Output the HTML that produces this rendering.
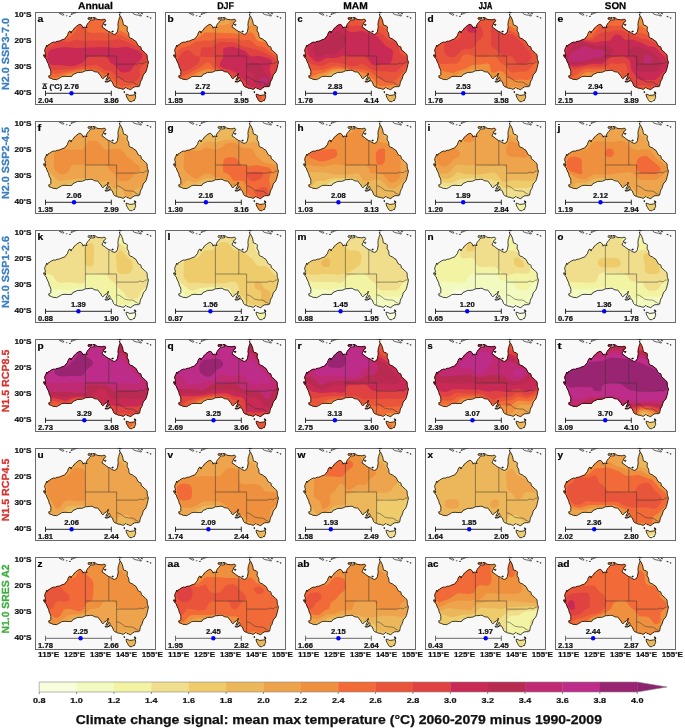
<!DOCTYPE html><html><head><meta charset="utf-8"><style>html,body{margin:0;padding:0;background:#fff}svg{display:block}</style></head><body><svg width="685" height="728" viewBox="0 0 685 728" style="will-change:transform">
<defs>
<clipPath id="aus"><path d="M85.5 4.2L86.3 5.5L87.1 7.3L87.8 9.2L88.1 11.2L88.4 12.8L90.2 13.6L91.0 13.6L92.5 15.1L92.2 16.7L92.1 18.8L93.2 20.3L93.9 22.2L93.9 24.2L94.5 25.5L95.8 26.3L97.3 26.8L98.9 28.1L101.0 29.4L102.0 31.3L103.1 33.6L104.4 34.4L105.4 34.6L106.2 35.9L106.2 37.5L107.5 38.5L109.3 40.1L110.6 41.4L111.6 42.2L112.2 43.7L112.2 45.6L112.4 47.4L113.2 49.2L113.4 50.8L112.9 52.3L112.7 53.9L112.2 55.4L111.9 57.0L111.4 58.6L110.6 60.4L109.0 61.9L108.2 63.2L107.8 64.8L107.3 66.1L106.8 67.7L105.8 69.0L105.3 70.5L105.0 72.1L104.7 73.9L103.4 74.7L101.1 74.7L99.3 74.9L97.7 76.0L96.2 77.0L95.4 78.1L94.6 77.3L93.3 76.8L92.0 76.5L91.2 75.7L90.4 75.7L89.1 76.8L88.1 77.4L86.5 76.8L85.0 76.2L83.2 76.2L81.6 75.3L80.0 74.9L78.5 73.4L78.2 72.3L77.7 71.0L76.9 69.5L76.1 68.8L74.8 69.0L74.1 69.0L75.1 67.4L74.8 66.1L74.1 65.3L73.5 66.1L73.0 67.7L71.2 67.9L70.9 67.1L72.2 65.6L72.8 63.8L73.3 61.2L72.8 62.5L71.7 63.8L69.6 64.8L68.3 66.6L67.6 66.6L66.5 65.6L66.0 64.0L65.0 62.7L63.9 61.7L63.4 60.9L62.6 59.9L61.3 60.1L59.2 59.6L57.2 58.3L55.6 58.3L53.0 58.6L50.4 58.8L47.8 60.1L45.2 60.4L42.6 60.4L40.0 61.7L37.9 62.5L36.9 64.3L34.8 64.5L32.2 64.5L30.1 64.3L27.8 64.5L26.5 64.8L25.2 65.8L23.6 66.6L21.5 67.7L20.0 67.4L18.2 67.4L16.3 66.4L14.0 65.7L13.7 63.8L14.8 63.8L15.8 62.7L15.8 60.9L15.9 59.3L15.6 58.0L14.8 56.2L14.0 54.9L13.9 53.1L13.0 51.3L11.7 48.7L11.4 47.1L9.8 45.6L9.1 44.5L8.5 43.5L8.8 42.7L9.6 43.0L10.4 44.8L10.9 44.0L10.1 42.7L10.4 40.9L9.8 39.6L9.8 37.5L10.9 35.2L11.7 33.1L12.2 34.6L13.0 33.1L14.5 32.3L16.3 31.0L18.4 30.0L20.2 30.2L22.3 29.2L23.9 29.2L25.7 28.4L27.5 27.6L29.6 27.1L31.2 25.0L32.7 23.2L33.0 21.4L34.3 19.3L35.1 19.0L36.1 21.1L36.4 19.6L37.4 18.8L38.4 18.0L39.0 16.4L40.5 15.4L41.6 14.1L42.9 13.3L44.2 12.5L45.2 12.3L46.5 13.1L47.8 14.9L48.1 16.2L48.8 15.1L50.4 15.1L52.0 15.7L51.4 13.8L52.5 11.8L53.8 10.5L54.6 9.2L55.3 8.4L56.4 7.9L58.2 7.9L59.8 7.6L59.5 6.3L57.7 5.8L59.2 5.5L60.5 6.0L61.8 7.1L63.9 7.6L65.5 7.6L67.0 7.9L68.3 7.3L69.9 7.3L70.7 8.4L70.2 9.7L68.6 10.7L68.3 12.3L67.3 13.8L67.0 14.9L69.1 16.2L70.7 17.5L72.0 18.5L73.8 19.6L75.4 20.1L76.9 21.4L78.0 21.9L79.5 22.4L81.3 21.6L82.4 19.6L82.9 17.0L83.2 14.9L82.9 12.3L83.2 10.7L83.2 9.2L83.9 8.6L83.9 7.3L84.5 5.8L85.0 4.7ZM91.1 82.2L92.8 82.5L94.6 83.4L96.2 83.3L98.5 82.9L100.3 82.6L100.6 84.0L100.6 85.6L99.8 87.2L99.5 88.5L98.0 88.7L96.9 89.8L94.6 89.5L93.3 87.9L92.5 86.4L91.7 85.1L91.2 83.5ZM70.0 69.2L72.5 69.0L74.1 69.2L72.8 70.0L70.4 70.1ZM52.9 6.3L53.8 5.6L55.3 5.8L56.9 5.5L57.2 6.2L56.1 6.9L54.6 7.3L53.5 7.3L53.0 6.9ZM69.4 12.3L70.4 12.0L71.1 12.8L70.2 13.5L69.5 13.1ZM76.9 19.3L78.2 19.0L78.0 20.0L76.9 19.8ZM84.5 2.7L85.0 2.8L84.9 3.1L84.4 3.0ZM84.5 2.0L85.0 2.1L84.9 2.3L84.5 2.3ZM85.5 0.7L86.1 0.8L85.9 1.0L85.5 0.9ZM84.5 0.3L85.0 0.4L84.9 0.6L84.5 0.5ZM84.7 3.8L85.1 3.7L85.2 4.1L84.9 4.2ZM89.0 79.4L89.7 79.8L89.5 80.7L89.1 80.7ZM99.3 79.8L100.6 80.3L100.4 81.1L99.5 80.9ZM99.8 81.2L101.1 81.2L100.8 81.7L99.9 81.6Z"/></clipPath>
<path id="coast" d="M85.5 4.2L86.3 5.5L87.1 7.3L87.8 9.2L88.1 11.2L88.4 12.8L90.2 13.6L91.0 13.6L92.5 15.1L92.2 16.7L92.1 18.8L93.2 20.3L93.9 22.2L93.9 24.2L94.5 25.5L95.8 26.3L97.3 26.8L98.9 28.1L101.0 29.4L102.0 31.3L103.1 33.6L104.4 34.4L105.4 34.6L106.2 35.9L106.2 37.5L107.5 38.5L109.3 40.1L110.6 41.4L111.6 42.2L112.2 43.7L112.2 45.6L112.4 47.4L113.2 49.2L113.4 50.8L112.9 52.3L112.7 53.9L112.2 55.4L111.9 57.0L111.4 58.6L110.6 60.4L109.0 61.9L108.2 63.2L107.8 64.8L107.3 66.1L106.8 67.7L105.8 69.0L105.3 70.5L105.0 72.1L104.7 73.9L103.4 74.7L101.1 74.7L99.3 74.9L97.7 76.0L96.2 77.0L95.4 78.1L94.6 77.3L93.3 76.8L92.0 76.5L91.2 75.7L90.4 75.7L89.1 76.8L88.1 77.4L86.5 76.8L85.0 76.2L83.2 76.2L81.6 75.3L80.0 74.9L78.5 73.4L78.2 72.3L77.7 71.0L76.9 69.5L76.1 68.8L74.8 69.0L74.1 69.0L75.1 67.4L74.8 66.1L74.1 65.3L73.5 66.1L73.0 67.7L71.2 67.9L70.9 67.1L72.2 65.6L72.8 63.8L73.3 61.2L72.8 62.5L71.7 63.8L69.6 64.8L68.3 66.6L67.6 66.6L66.5 65.6L66.0 64.0L65.0 62.7L63.9 61.7L63.4 60.9L62.6 59.9L61.3 60.1L59.2 59.6L57.2 58.3L55.6 58.3L53.0 58.6L50.4 58.8L47.8 60.1L45.2 60.4L42.6 60.4L40.0 61.7L37.9 62.5L36.9 64.3L34.8 64.5L32.2 64.5L30.1 64.3L27.8 64.5L26.5 64.8L25.2 65.8L23.6 66.6L21.5 67.7L20.0 67.4L18.2 67.4L16.3 66.4L14.0 65.7L13.7 63.8L14.8 63.8L15.8 62.7L15.8 60.9L15.9 59.3L15.6 58.0L14.8 56.2L14.0 54.9L13.9 53.1L13.0 51.3L11.7 48.7L11.4 47.1L9.8 45.6L9.1 44.5L8.5 43.5L8.8 42.7L9.6 43.0L10.4 44.8L10.9 44.0L10.1 42.7L10.4 40.9L9.8 39.6L9.8 37.5L10.9 35.2L11.7 33.1L12.2 34.6L13.0 33.1L14.5 32.3L16.3 31.0L18.4 30.0L20.2 30.2L22.3 29.2L23.9 29.2L25.7 28.4L27.5 27.6L29.6 27.1L31.2 25.0L32.7 23.2L33.0 21.4L34.3 19.3L35.1 19.0L36.1 21.1L36.4 19.6L37.4 18.8L38.4 18.0L39.0 16.4L40.5 15.4L41.6 14.1L42.9 13.3L44.2 12.5L45.2 12.3L46.5 13.1L47.8 14.9L48.1 16.2L48.8 15.1L50.4 15.1L52.0 15.7L51.4 13.8L52.5 11.8L53.8 10.5L54.6 9.2L55.3 8.4L56.4 7.9L58.2 7.9L59.8 7.6L59.5 6.3L57.7 5.8L59.2 5.5L60.5 6.0L61.8 7.1L63.9 7.6L65.5 7.6L67.0 7.9L68.3 7.3L69.9 7.3L70.7 8.4L70.2 9.7L68.6 10.7L68.3 12.3L67.3 13.8L67.0 14.9L69.1 16.2L70.7 17.5L72.0 18.5L73.8 19.6L75.4 20.1L76.9 21.4L78.0 21.9L79.5 22.4L81.3 21.6L82.4 19.6L82.9 17.0L83.2 14.9L82.9 12.3L83.2 10.7L83.2 9.2L83.9 8.6L83.9 7.3L84.5 5.8L85.0 4.7ZM91.1 82.2L92.8 82.5L94.6 83.4L96.2 83.3L98.5 82.9L100.3 82.6L100.6 84.0L100.6 85.6L99.8 87.2L99.5 88.5L98.0 88.7L96.9 89.8L94.6 89.5L93.3 87.9L92.5 86.4L91.7 85.1L91.2 83.5ZM70.0 69.2L72.5 69.0L74.1 69.2L72.8 70.0L70.4 70.1ZM52.9 6.3L53.8 5.6L55.3 5.8L56.9 5.5L57.2 6.2L56.1 6.9L54.6 7.3L53.5 7.3L53.0 6.9ZM69.4 12.3L70.4 12.0L71.1 12.8L70.2 13.5L69.5 13.1ZM76.9 19.3L78.2 19.0L78.0 20.0L76.9 19.8ZM84.5 2.7L85.0 2.8L84.9 3.1L84.4 3.0ZM84.5 2.0L85.0 2.1L84.9 2.3L84.5 2.3ZM85.5 0.7L86.1 0.8L85.9 1.0L85.5 0.9ZM84.5 0.3L85.0 0.4L84.9 0.6L84.5 0.5ZM84.7 3.8L85.1 3.7L85.2 4.1L84.9 4.2ZM89.0 79.4L89.7 79.8L89.5 80.7L89.1 80.7ZM99.3 79.8L100.6 80.3L100.4 81.1L99.5 80.9ZM99.8 81.2L101.1 81.2L100.8 81.7L99.9 81.6Z"/>
<path id="bord" d="M50.4 15.1L50.4 58.8M50.4 44.0L81.6 44.0M73.8 19.6L73.8 44.0M81.6 44.0L81.6 75.3M81.6 52.1L102.4 52.1L105.0 51.0L107.6 51.8L109.2 51.3L110.2 50.2L112.0 50.0L113.3 49.7M81.6 64.8L84.2 65.3L86.8 66.9L89.4 69.0L92.0 69.7L94.6 70.0L97.2 70.0L99.8 71.0L100.3 72.1L104.9 73.9"/>
<path id="isl" d="M36.1 2.7L37.4 2.1L39.0 1.4L40.5 0.8L42.6 0.1L44.7 -0.7L46.0 -1.5L44.2 -1.5L42.1 -0.5L40.0 0.1L38.2 0.6L36.6 1.4L36.1 2.7M24.4 1.4L26.0 0.8L27.5 1.4L29.1 2.7L27.8 3.2L26.0 2.1L24.4 1.4M31.4 3.7L32.2 3.7L31.7 4.0L31.4 3.7M34.3 4.5L35.6 4.0L35.3 4.5L34.3 4.5M81.6 0.1L83.2 0.3L85.0 0.3L86.3 0.6L87.6 -0.5L88.1 -1.2M95.4 -1.2L96.9 0.1L98.0 1.4L99.5 2.4L101.4 2.9L103.4 3.2L105.5 4.0L106.6 3.7L105.0 2.7L104.2 1.6L102.9 1.1L102.4 0.1M106.0 0.6L107.6 1.4L107.3 2.1L106.3 1.6L106.0 0.6M111.8 4.2L113.3 4.7L112.5 5.0L111.8 4.2M115.1 5.5L116.2 6.0L115.4 6.3L115.1 5.5"/>
<clipPath id="pclip"><rect x="0.5" y="0.5" width="120" height="92"/></clipPath>
</defs>
<rect width="685" height="728" fill="#fff"/>
<g transform="translate(35,12)">
<rect x="0.5" y="0.5" width="120" height="92" fill="#f8f8f8" stroke="#6a6a6a" stroke-width="1"/>
<g clip-path="url(#aus)">
<rect x="0" y="0" width="120" height="92" fill="#eecc6c"/><path fill-rule="evenodd" fill="#ecb75a" d="M123.2 93.4L-1.6 93.4L-1.6 -1.5L123.2 -1.5ZM46.6 78.4L49.2 73.9L54.3 71.3L56.0 69.3L56.4 66.1L54.3 63.7L51.7 63.0L48.4 63.1L45.5 64.2L44.0 65.4L43.8 67.4L45.7 71.9L43.8 75.8L43.6 77.8L45.2 79.1Z"/><path fill-rule="evenodd" fill="#eea44c" d="M92.7 93.4L-1.6 93.4L-1.6 -1.5L123.2 -1.5L123.2 86.9L109.6 86.4L104.4 86.9L101.1 85.9L100.3 86.2L99.2 88.3L96.6 89.1L95.2 89.3L93.1 88.2L93.0 93.4ZM47.1 83.0L49.1 81.6L52.6 76.5L57.2 73.2L58.9 70.9L59.6 68.1L59.5 65.4L58.4 63.5L56.2 62.0L51.7 60.9L46.5 61.1L39.0 63.5L36.2 65.4L36.0 67.4L38.3 71.9L38.3 77.8L39.0 80.4L40.7 82.1L42.6 83.0L45.2 83.4Z"/><path fill-rule="evenodd" fill="#ee903e" d="M88.8 93.4L62.5 93.4L62.8 81.7L62.2 75.2L63.2 65.4L61.1 62.2L56.9 60.0L50.4 59.1L47.2 59.5L41.9 60.5L29.4 64.8L27.8 67.4L27.2 70.0L29.8 72.6L30.5 74.6L29.6 77.2L28.3 78.3L27.7 78.2L26.9 77.2L26.2 71.3L24.6 70.7L-1.6 70.4L-1.6 -1.5L84.7 -1.5L85.6 3.7L87.8 8.2L87.5 10.9L88.1 13.2L90.1 14.1L91.4 13.9L92.3 14.8L92.7 17.6L97.2 18.2L100.5 17.4L102.1 14.8L101.2 5.6L101.7 -1.5L123.2 -1.5L123.2 83.1L115.4 82.5L107.6 78.4L93.3 79.0L91.1 80.4L89.7 83.0L89.2 93.4ZM56.2 85.0L54.3 85.1L53.8 84.3L54.2 81.1L56.1 79.1L58.6 79.1L59.6 80.4L59.3 82.3L58.2 83.8ZM51.1 93.4L37.0 93.4L35.6 90.2L36.5 88.8L38.7 88.1L49.8 87.8L51.0 88.2L51.7 89.5Z"/><path fill-rule="evenodd" fill="#f16a38" d="M84.2 93.4L79.1 93.4L79.3 84.9L81.3 79.8L79.9 75.2L77.9 72.6L77.7 71.3L75.8 69.3L74.0 68.7L74.4 68.1L73.8 67.3L71.2 67.5L72.0 65.4L71.2 64.4L69.9 64.4L67.9 65.4L66.8 63.5L62.8 59.9L57.6 58.4L50.4 57.9L46.5 58.3L30.9 62.0L20.5 66.1L14.7 64.9L13.9 64.2L14.7 63.9L14.7 63.3L-1.6 63.3L-1.6 -1.5L15.7 -1.5L13.9 4.3L14.6 8.2L18.6 11.8L21.8 15.8L28.0 18.6L30.2 23.2L31.6 24.3L33.3 21.9L33.4 20.6L34.8 19.0L36.1 19.9L39.4 15.4L39.6 12.8L38.8 5.6L39.1 -1.5L53.9 -1.5L54.2 5.6L57.1 5.6L56.9 6.5L54.1 7.6L53.9 9.5L56.2 8.0L59.5 8.0L59.8 6.9L58.6 5.6L58.9 5.4L60.8 5.9L62.1 7.1L65.4 7.0L66.0 7.7L69.9 7.1L71.1 8.2L70.4 9.5L68.3 10.9L68.2 12.8L66.9 14.1L67.9 15.7L69.9 16.8L75.1 15.8L81.6 19.8L84.2 18.8L88.1 19.5L92.2 21.9L94.6 25.0L95.2 25.1L105.7 24.9L110.9 25.5L113.4 27.0L117.4 33.0L119.9 33.9L123.2 33.6L123.2 71.3L119.9 71.8L114.8 70.2L111.5 70.1L108.9 71.1L103.1 74.8L99.2 75.1L95.2 76.4L90.7 75.8L88.1 77.5L87.3 77.2L86.2 77.8L83.3 79.8L82.7 81.1L84.7 88.2L84.7 93.4ZM75.1 10.0L74.4 10.2L73.2 9.3L71.6 6.3L71.8 3.7L73.4 -1.5L75.6 -1.5L76.4 2.6L76.4 7.6ZM112.8 18.2L110.9 17.2L110.0 14.8L110.6 5.6L110.3 -1.5L114.5 -1.5L114.6 14.8L114.1 17.3ZM27.0 8.3L24.4 7.5L23.4 5.6L24.3 3.1L26.4 1.8L27.7 2.1L28.4 4.3L28.3 7.1ZM70.6 13.1L69.6 12.8L69.9 11.8L70.9 12.8ZM72.5 70.3L70.6 70.3L70.4 69.3L73.8 68.9L74.3 69.3ZM123.2 78.7L119.9 79.0L117.4 78.2L116.4 76.5L117.4 74.0L119.9 72.2L123.2 73.1ZM73.2 85.2L72.5 85.2L71.9 83.3L71.5 77.8L71.9 76.1L74.0 78.4L75.1 81.1L74.7 83.0Z"/><path fill-rule="evenodd" fill="#e8553a" d="M4.2 11.5L2.4 10.9L1.4 8.9L1.1 5.0L1.6 -1.5L6.0 -1.5L6.2 8.6L5.6 10.7ZM89.4 73.9L86.8 74.4L83.2 73.2L74.6 63.5L73.2 61.0L71.2 61.5L69.2 61.3L63.4 58.1L58.9 56.8L46.5 56.7L20.5 62.0L17.2 61.3L15.3 59.4L-1.6 59.6L-1.6 40.0L2.9 42.6L5.6 42.3L7.4 40.1L9.4 34.7L15.3 31.8L16.8 30.4L16.6 27.8L15.0 23.2L14.0 21.7L10.5 19.3L10.1 17.1L10.8 16.6L12.7 16.6L16.6 19.0L23.1 20.9L25.5 22.5L28.3 27.1L31.6 27.1L34.8 25.4L40.6 19.3L44.0 13.5L45.9 12.5L48.4 16.0L49.8 16.1L52.4 19.3L54.5 20.6L58.2 21.1L64.7 20.6L69.9 20.8L78.4 22.9L85.5 22.5L100.4 30.2L103.1 32.6L107.6 32.6L110.0 33.6L116.9 41.4L117.8 43.4L115.3 49.9L111.8 55.7L111.2 59.6L108.8 62.2L106.3 68.1L104.0 71.3L102.4 72.6ZM4.2 31.1L2.3 30.6L1.4 29.0L2.0 26.5L3.6 25.3L5.6 26.1L6.2 28.2L5.8 30.4ZM123.2 62.6L119.3 62.7L116.9 62.2L115.5 60.9L115.8 58.9L116.9 57.6L118.7 56.8L123.2 56.9Z"/><path fill-rule="evenodd" fill="#e04242" d="M101.1 68.8L98.5 69.3L93.3 68.3L86.8 68.0L82.9 65.5L76.4 59.3L68.9 57.6L63.4 53.6L61.4 52.7L46.5 54.6L37.4 56.9L19.9 58.1L17.2 57.5L14.0 55.2L-1.6 55.0L-1.6 48.4L4.2 49.5L7.5 48.4L9.4 45.9L9.4 43.6L10.2 44.0L10.0 42.7L10.6 39.5L12.1 36.6L18.2 33.0L21.8 29.5L24.4 28.7L32.2 30.3L35.4 29.8L40.7 27.6L49.1 29.1L56.2 28.5L73.2 28.4L84.2 27.1L93.9 30.4L101.0 34.2L105.0 35.8L111.0 42.7L111.6 44.6L110.7 49.9L105.0 55.7L104.6 57.6L105.0 63.5L103.7 66.4Z"/><path fill-rule="evenodd" fill="#c92a55" d="M92.0 60.3L88.1 60.7L84.9 59.5L80.3 53.9L75.1 50.5L72.5 45.9L69.9 44.3L54.3 44.6L52.4 45.6L49.1 49.6L47.2 50.9L39.4 53.8L35.4 54.2L25.7 52.9L17.9 53.1L15.9 52.5L14.4 51.1L12.8 48.6L12.2 45.3L12.6 42.1L13.6 39.5L15.9 37.6L28.9 34.9L41.3 35.9L68.6 35.1L81.6 36.1L90.1 34.8L92.7 34.9L103.7 38.8L106.4 41.4L107.3 44.6L106.3 47.3L99.8 52.5L96.2 58.3L94.6 59.5Z"/>
</g>
<use href="#coast" fill="none" stroke="#000" stroke-width="0.75"/>
<use href="#isl" clip-path="url(#pclip)" fill="none" stroke="#111" stroke-width="0.65"/>
<use href="#bord" fill="none" stroke="#333" stroke-width="0.5"/>
<text x="2.60" y="9.50" text-anchor="start" textLength="5.80" lengthAdjust="spacingAndGlyphs" font-family="Liberation Sans, sans-serif" font-weight="bold" font-size="9.4" fill="#000" stroke="#000" stroke-width="0.2" >a</text>
<path d="M10.5 81.3H76.3M10.5 78.7V83.89999999999999M76.3 78.7V83.89999999999999" stroke="#2a2a2a" stroke-width="1" fill="none"/>
<circle cx="36.5" cy="81.3" r="2.2" fill="#0000ff"/>
<text x="36.53" y="77.00" text-anchor="middle" textLength="14.81" lengthAdjust="spacingAndGlyphs" font-family="Liberation Sans, sans-serif" font-weight="bold" font-size="6.3" fill="#111" stroke="#111" stroke-width="0.2" >2.76</text>
<text x="10.50" y="90.70" text-anchor="middle" textLength="14.81" lengthAdjust="spacingAndGlyphs" font-family="Liberation Sans, sans-serif" font-weight="bold" font-size="6.3" fill="#111" stroke="#111" stroke-width="0.2" >2.04</text>
<text x="76.30" y="90.70" text-anchor="middle" textLength="14.81" lengthAdjust="spacingAndGlyphs" font-family="Liberation Sans, sans-serif" font-weight="bold" font-size="6.3" fill="#111" stroke="#111" stroke-width="0.2" >3.86</text>
<text x="7.20" y="77.00" text-anchor="start" textLength="4.95" lengthAdjust="spacingAndGlyphs" font-family="Liberation Sans, sans-serif" font-weight="bold" font-size="6.3" fill="#111" stroke="#111" stroke-width="0.2" >Δ</text>
<path d="M7.3 71.8H12.3" stroke="#111" stroke-width="0.7"/>
<text x="14.40" y="77.00" text-anchor="start" textLength="12.88" lengthAdjust="spacingAndGlyphs" font-family="Liberation Sans, sans-serif" font-weight="bold" font-size="6.3" fill="#111" stroke="#111" stroke-width="0.2" >(<tspan font-size="4.72" dy="-0.9">°</tspan><tspan dy="0.9">C)</tspan></text>
</g>
<g transform="translate(165,12)">
<rect x="0.5" y="0.5" width="120" height="92" fill="#f8f8f8" stroke="#6a6a6a" stroke-width="1"/>
<g clip-path="url(#aus)">
<rect x="0" y="0" width="120" height="92" fill="#ecb75a"/><path fill-rule="evenodd" fill="#eea44c" d="M123.2 93.4L-1.6 93.4L-1.6 -1.5L54.5 -1.5L53.2 5.0L53.2 5.6L55.2 6.3L55.4 6.9L53.5 7.6L54.3 9.2L56.2 8.2L59.5 8.3L60.8 6.5L62.1 7.3L63.1 6.9L63.1 3.7L61.9 -1.5L85.7 -1.5L84.4 5.0L85.1 5.0L85.5 4.1L88.1 10.6L89.4 10.7L92.8 9.5L94.4 6.9L94.4 3.7L92.9 -1.5L123.2 -1.5ZM44.5 80.4L46.8 78.4L49.1 73.3L54.2 71.3L56.2 69.4L57.0 66.8L55.6 64.4L51.7 63.2L41.3 63.1L38.7 63.6L37.1 64.8L36.6 66.8L38.2 71.9L38.0 76.5L38.6 79.1L40.7 80.7Z"/><path fill-rule="evenodd" fill="#ee903e" d="M123.2 93.4L38.1 93.4L37.6 90.2L38.8 87.6L41.4 85.6L48.4 81.9L52.4 76.5L58.2 72.0L60.1 67.4L59.3 64.2L56.5 62.2L49.1 60.0L42.6 59.8L38.1 60.9L33.3 63.5L29.5 64.8L27.0 67.9L24.4 69.6L22.9 71.3L22.1 74.6L22.8 81.7L22.7 93.4L-1.6 93.4L-1.6 -1.5L15.7 -1.5L13.9 4.3L13.9 6.3L14.6 8.2L19.6 12.1L22.4 16.2L26.4 19.5L28.9 23.4L30.9 24.2L32.4 23.2L33.2 20.6L34.8 18.7L38.1 17.3L43.9 12.5L45.9 12.5L48.4 15.7L49.1 15.2L51.1 15.3L51.7 15.8L52.3 15.4L52.2 14.1L53.7 13.4L60.2 13.1L63.2 12.1L68.6 7.6L69.9 7.2L70.7 7.6L71.2 -1.5L76.4 -1.5L77.1 5.6L76.4 9.4L75.1 11.1L73.8 11.6L71.9 10.7L71.0 8.9L70.4 8.9L70.4 9.5L69.2 10.4L67.9 10.3L67.9 12.8L66.6 14.1L67.9 15.7L68.6 15.7L70.6 17.4L71.9 17.5L82.2 17.1L83.1 16.7L84.2 14.3L85.5 13.4L91.1 14.8L92.0 15.4L93.3 20.6L94.3 22.5L94.4 25.1L95.2 25.9L96.6 26.4L102.4 24.9L105.7 25.4L107.1 27.1L108.9 32.7L110.9 34.1L118.0 32.4L123.2 32.4ZM105.0 11.5L103.7 11.9L103.0 10.9L102.8 -1.5L106.1 -1.5L106.5 6.9L106.1 9.5ZM44.6 9.0L43.2 9.5L41.6 8.9L39.9 6.3L40.5 2.4L43.2 -1.2L44.6 0.3L45.5 3.7L45.5 6.9ZM70.6 13.2L69.6 12.8L69.9 11.8L71.0 12.8Z"/><path fill-rule="evenodd" fill="#f16a38" d="M4.2 11.7L2.3 10.9L1.4 8.9L1.5 -1.5L6.1 -1.5L6.2 8.7L5.6 10.8ZM20.5 25.4L18.6 25.1L15.9 23.0L10.8 20.7L9.7 18.6L10.1 17.1L12.1 16.5L14.1 17.4L17.2 21.6L20.7 23.9L21.0 24.5ZM100.4 93.4L62.6 93.4L63.2 81.1L62.0 75.2L63.3 68.1L63.1 65.4L62.1 63.5L59.5 61.6L50.4 58.4L42.6 57.0L36.8 58.4L26.4 63.4L21.1 66.8L18.6 67.7L17.9 67.5L14.7 71.0L12.7 72.4L5.6 70.6L-1.6 71.0L-1.6 40.3L3.6 41.3L6.9 40.7L9.4 38.4L10.8 34.2L13.4 32.4L15.3 31.9L17.9 30.3L21.2 30.3L21.8 29.6L23.8 29.5L25.7 28.2L29.2 27.8L32.2 26.5L38.7 21.3L40.7 20.4L64.7 21.0L75.1 22.0L78.4 22.8L80.6 22.5L84.9 20.4L86.9 20.6L88.8 22.3L91.2 27.1L92.7 28.7L94.6 29.6L100.4 30.3L105.0 35.7L106.3 38.1L110.2 40.5L114.8 42.0L116.1 46.6L117.4 48.2L119.3 48.9L123.2 48.7L123.2 86.8L110.2 86.6L108.2 86.0L104.4 83.4L102.4 83.3L101.1 84.3L100.5 86.2ZM13.4 93.4L10.0 93.4L10.0 88.8L8.8 83.0L9.5 79.8L12.1 77.5L13.4 78.3L14.2 81.1ZM55.6 85.0L53.5 84.9L53.5 83.0L54.3 80.7L56.2 79.1L58.9 79.1L59.7 80.4L59.3 82.3L57.6 84.2ZM52.4 93.4L45.7 93.4L45.1 90.8L45.5 88.8L48.4 87.0L51.1 86.5L52.4 86.8Z"/><path fill-rule="evenodd" fill="#e8553a" d="M92.7 93.4L70.3 93.4L70.2 81.1L70.9 73.2L66.1 64.2L63.5 61.6L61.4 60.3L52.5 57.6L49.8 56.4L43.9 50.8L41.9 50.6L40.7 51.1L35.7 55.1L17.9 64.6L14.7 65.1L13.7 64.2L14.0 63.6L14.7 63.8L14.7 63.2L11.4 63.4L7.9 62.2L6.9 60.9L7.8 56.4L7.2 49.9L9.9 45.9L9.6 44.6L11.1 44.0L11.0 42.7L13.0 38.8L15.9 36.0L24.4 33.8L28.5 31.0L31.6 29.8L39.4 28.4L45.2 28.7L51.1 26.9L54.9 26.4L69.9 26.4L78.4 28.6L83.6 27.7L85.5 28.5L91.4 33.4L99.8 35.5L103.7 39.5L110.6 43.4L111.7 44.6L113.4 49.8L114.8 51.1L118.0 52.3L123.2 52.3L123.2 82.9L114.8 82.4L107.6 78.5L99.8 79.6L96.9 81.1L94.9 83.0L96.3 84.3L96.9 86.2L95.2 88.5L92.7 88.2ZM-1.6 53.4L-1.6 49.1L-0.5 49.9L-0.2 51.1ZM-0.9 61.7L-1.6 61.8L-1.6 58.5L0.1 60.3L0.1 60.9Z"/><path fill-rule="evenodd" fill="#e04242" d="M92.0 79.1L80.5 78.4L77.1 70.0L74.4 68.8L74.4 67.7L73.8 67.2L72.5 67.4L71.2 64.6L68.6 64.0L63.4 59.5L55.2 57.0L52.0 55.1L50.7 52.4L50.5 46.6L49.1 45.2L35.4 44.7L34.2 49.9L32.2 52.4L24.1 57.6L18.6 59.7L16.6 58.8L13.9 54.4L12.6 48.6L13.4 45.9L17.9 40.1L19.9 38.8L22.4 38.1L25.7 38.9L28.3 42.1L30.2 43.6L34.8 44.5L35.3 44.0L35.8 37.5L36.8 35.9L38.7 35.3L46.5 35.2L48.4 34.2L52.2 31.0L55.6 30.0L69.2 30.2L77.1 33.9L95.9 38.8L108.9 45.5L111.3 49.9L112.3 55.1L111.7 55.7L111.8 57.6L111.1 58.3L111.1 59.6L108.8 62.2L109.2 69.3L108.7 71.9L107.6 73.9L103.7 76.4ZM121.2 63.6L118.7 63.4L116.1 61.8L114.5 59.6L114.6 57.6L117.4 56.4L123.2 56.3L123.2 63.3ZM123.2 78.8L118.7 78.9L117.3 78.4L116.0 77.2L115.6 75.8L116.0 73.9L118.7 70.9L120.6 70.5L123.2 71.0ZM84.2 93.4L78.9 93.4L79.0 85.8L79.7 83.1L80.3 82.9L81.6 83.8L84.2 87.0L84.8 90.2L84.7 93.4Z"/><path fill-rule="evenodd" fill="#c92a55" d="M95.2 76.6L90.7 75.3L88.1 75.6L84.2 74.2L81.6 72.0L79.6 68.7L74.3 64.2L73.4 60.9L70.6 60.7L65.9 58.3L57.6 55.7L55.5 54.4L54.9 53.1L54.9 51.8L58.4 45.3L58.0 38.1L58.6 36.2L62.5 34.9L68.6 34.8L79.7 38.8L85.5 44.2L87.4 44.5L94.6 43.8L103.1 46.2L106.1 47.9L107.0 49.2L107.1 51.1L105.1 55.1L104.7 57.0L106.5 64.2L106.7 66.8L106.0 71.3L104.6 73.9L103.1 74.8Z"/><path fill-rule="evenodd" fill="#b82a50" d="M97.2 74.6L93.5 73.9L90.0 71.3L89.4 69.3L89.9 64.8L89.3 62.9L88.1 61.5L83.5 58.9L82.3 57.6L82.0 54.4L82.9 52.5L84.2 51.4L86.2 50.7L89.4 50.7L93.3 51.4L95.8 52.4L96.9 53.8L99.3 58.9L103.8 64.2L104.7 66.1L105.0 68.7L103.7 72.6L101.8 73.9Z"/><path fill-rule="evenodd" fill="#c02a72" d="M99.2 72.6L96.3 71.9L94.7 69.3L95.5 66.1L97.9 64.6L101.1 65.5L102.8 68.1L102.3 71.3L101.1 72.3Z"/>
</g>
<use href="#coast" fill="none" stroke="#000" stroke-width="0.75"/>
<use href="#isl" clip-path="url(#pclip)" fill="none" stroke="#111" stroke-width="0.65"/>
<use href="#bord" fill="none" stroke="#333" stroke-width="0.5"/>
<text x="2.60" y="9.50" text-anchor="start" textLength="6.16" lengthAdjust="spacingAndGlyphs" font-family="Liberation Sans, sans-serif" font-weight="bold" font-size="9.4" fill="#000" stroke="#000" stroke-width="0.2" >b</text>
<path d="M10.5 81.3H76.3M10.5 78.7V83.89999999999999M76.3 78.7V83.89999999999999" stroke="#2a2a2a" stroke-width="1" fill="none"/>
<circle cx="37.8" cy="81.3" r="2.2" fill="#0000ff"/>
<text x="37.76" y="77.00" text-anchor="middle" textLength="14.81" lengthAdjust="spacingAndGlyphs" font-family="Liberation Sans, sans-serif" font-weight="bold" font-size="6.3" fill="#111" stroke="#111" stroke-width="0.2" >2.72</text>
<text x="10.50" y="90.70" text-anchor="middle" textLength="14.81" lengthAdjust="spacingAndGlyphs" font-family="Liberation Sans, sans-serif" font-weight="bold" font-size="6.3" fill="#111" stroke="#111" stroke-width="0.2" >1.85</text>
<text x="76.30" y="90.70" text-anchor="middle" textLength="14.81" lengthAdjust="spacingAndGlyphs" font-family="Liberation Sans, sans-serif" font-weight="bold" font-size="6.3" fill="#111" stroke="#111" stroke-width="0.2" >3.95</text>
</g>
<g transform="translate(295,12)">
<rect x="0.5" y="0.5" width="120" height="92" fill="#f8f8f8" stroke="#6a6a6a" stroke-width="1"/>
<g clip-path="url(#aus)">
<rect x="0" y="0" width="120" height="92" fill="#f0de8c"/><path fill-rule="evenodd" fill="#eecc6c" d="M123.2 93.4L-1.6 93.4L-1.6 -1.5L123.2 -1.5ZM44.6 80.4L46.3 79.1L47.0 77.8L47.1 71.9L50.0 66.8L48.7 64.8L46.0 63.5L43.2 62.9L40.7 63.0L38.1 64.3L36.7 66.8L38.5 72.6L38.4 78.4L39.4 80.1L40.7 80.8Z"/><path fill-rule="evenodd" fill="#ecb75a" d="M92.7 93.4L38.0 93.4L37.4 90.2L38.2 88.2L40.4 86.2L48.8 81.7L50.1 79.8L52.4 73.9L56.8 69.3L57.7 67.4L57.2 65.4L54.1 63.5L47.2 61.2L42.6 60.7L38.7 61.6L33.5 64.8L30.2 69.8L25.1 70.4L22.9 71.9L22.2 74.6L23.3 81.7L23.0 93.4L-1.6 93.4L-1.6 -1.5L123.2 -1.5L123.2 86.9L109.6 86.4L104.4 86.9L101.1 85.8L100.3 86.2L99.2 88.3L96.6 89.1L95.2 89.3L93.1 88.2L93.0 93.4Z"/><path fill-rule="evenodd" fill="#eea44c" d="M88.8 93.4L62.4 93.4L62.8 81.1L61.7 75.2L64.0 67.4L63.6 64.8L60.5 62.9L49.1 59.8L42.6 59.5L37.4 60.6L31.6 63.9L23.8 66.6L20.1 69.3L19.0 71.3L18.5 73.9L18.9 93.4L-1.6 93.4L-1.6 -1.5L123.2 -1.5L123.2 83.1L115.4 82.5L107.6 78.4L93.3 79.0L91.1 80.4L89.7 83.0L89.2 93.4ZM56.2 83.0L55.6 83.1L54.9 82.4L55.0 81.1L56.0 79.1L57.6 78.5L58.3 79.1L58.4 80.4L57.6 82.1ZM53.0 93.4L45.7 93.4L45.1 90.8L45.5 88.8L48.4 87.0L52.4 86.8L53.1 88.8Z"/><path fill-rule="evenodd" fill="#ee903e" d="M84.2 93.4L79.1 93.4L79.4 84.9L81.3 79.8L79.5 74.6L77.9 72.6L77.1 70.2L76.2 69.3L74.4 69.2L73.9 68.7L74.4 68.0L73.8 67.4L71.2 67.6L71.9 65.4L71.2 64.6L67.9 64.8L66.3 62.9L62.8 60.6L50.4 58.6L42.6 58.1L36.8 59.2L30.2 62.3L25.1 64.0L18.6 67.3L17.4 67.4L15.0 70.7L13.9 73.9L14.6 81.7L14.4 93.4L8.6 93.4L8.3 81.7L9.4 75.2L9.0 72.6L7.5 70.5L4.9 69.4L-1.6 70.5L-1.6 -1.5L123.2 -1.5L123.2 71.0L121.5 71.3L121.4 71.9L123.2 72.4L123.2 78.8L119.3 79.0L116.8 77.8L116.3 75.2L117.4 73.3L119.2 71.9L119.2 71.3L114.1 69.8L110.2 70.3L103.1 74.9L99.2 75.2L95.2 76.5L90.7 75.8L88.1 77.4L87.2 77.2L86.1 77.8L82.9 80.4L84.7 88.2L84.7 93.4ZM72.5 70.4L70.6 70.3L70.4 69.3L73.8 68.9L74.3 69.3ZM73.2 84.6L72.5 84.6L71.9 82.3L71.3 76.5L71.9 74.9L73.8 77.7L74.7 80.4L74.4 82.5Z"/><path fill-rule="evenodd" fill="#f16a38" d="M88.8 74.1L84.9 74.1L82.9 73.0L79.3 68.1L74.4 63.5L73.2 61.2L70.6 61.4L63.4 59.1L45.2 56.5L41.3 56.4L37.4 57.1L29.6 60.2L22.4 62.1L16.6 64.9L14.0 64.9L13.6 64.2L14.0 63.6L14.7 63.7L14.7 63.2L12.1 63.7L-1.6 63.4L-1.6 -1.5L71.1 -1.5L68.6 2.9L68.1 5.0L68.3 6.9L70.8 8.2L70.6 9.2L75.1 10.1L82.9 9.2L85.5 4.1L87.8 8.2L88.1 9.9L90.7 11.5L93.6 17.4L95.2 18.7L97.2 19.1L100.2 18.0L103.7 12.1L108.2 9.6L109.6 8.2L110.3 4.3L108.4 -1.5L123.2 -1.5L123.2 63.2L110.2 62.5L108.2 63.7L107.0 66.8L104.0 71.3L102.5 72.6ZM83.6 -0.8L80.9 -0.7L80.0 -1.5L84.9 -1.5ZM97.9 7.1L96.5 6.9L95.5 5.6L95.9 4.2L97.2 3.4L98.5 3.7L99.2 5.0L99.1 6.3Z"/><path fill-rule="evenodd" fill="#e8553a" d="M99.8 68.7L88.8 68.7L86.8 68.3L80.7 63.5L74.4 59.6L68.6 57.5L54.9 56.7L43.9 54.1L38.1 54.5L28.3 57.8L17.9 58.2L15.2 57.0L14.7 56.2L11.4 58.4L8.8 59.4L-1.6 59.7L-1.6 -1.5L54.7 -1.5L53.8 5.6L55.9 6.3L55.6 7.0L54.0 7.6L54.3 8.6L59.5 8.0L60.0 6.9L58.8 5.6L59.5 5.5L66.7 9.6L68.6 12.9L69.2 13.1L69.9 12.5L70.6 12.8L70.2 13.5L78.4 16.9L82.9 16.8L84.9 13.9L86.2 13.6L89.4 16.2L91.1 20.0L93.8 23.2L94.6 25.2L103.1 24.9L106.3 25.4L107.8 27.1L108.5 29.7L107.6 38.1L110.2 40.8L113.8 42.1L115.3 43.4L117.0 53.1L116.2 53.8L112.8 54.4L111.1 57.0L107.0 60.9L102.4 67.1ZM120.6 11.7L118.7 10.9L118.0 8.9L118.1 -1.5L123.2 -1.5L123.2 10.3ZM112.8 22.1L110.2 22.2L108.9 20.6L109.5 18.0L111.5 16.7L113.4 16.7L114.6 18.0L114.3 20.6Z"/><path fill-rule="evenodd" fill="#e04242" d="M99.8 60.4L92.0 59.2L84.9 59.3L79.7 58.4L75.1 56.6L67.9 52.1L66.0 52.2L60.2 54.0L56.9 54.2L54.0 53.8L45.9 50.9L36.1 50.3L33.5 50.9L28.9 53.5L25.1 54.0L19.2 53.1L14.7 51.1L12.4 49.2L11.8 47.3L8.4 44.0L8.8 42.1L7.9 37.5L8.3 27.8L7.9 -1.5L50.2 -1.5L50.1 8.2L51.1 13.3L53.0 13.1L57.6 13.9L63.4 13.2L76.4 20.1L80.9 21.3L84.9 20.3L93.3 28.1L100.4 30.0L102.4 32.3L104.1 36.2L104.2 38.8L104.9 40.8L106.0 42.1L109.6 44.0L110.9 45.3L111.7 49.2L110.7 51.8L106.0 55.1L101.8 59.5ZM6.2 55.3L2.9 55.6L-1.6 54.5L-1.6 49.5L3.6 48.2L6.9 48.9L8.1 50.5L8.4 52.4L7.6 54.4Z"/><path fill-rule="evenodd" fill="#c92a55" d="M18.6 10.6L17.9 10.7L17.4 10.2L16.9 8.2L17.1 -1.5L19.7 -1.5L21.8 5.0L21.2 7.6ZM43.9 11.9L42.6 11.8L41.3 10.8L39.4 7.6L39.1 4.3L40.3 -1.5L45.4 -1.5L45.8 7.6L45.2 10.3ZM82.2 53.2L79.7 53.4L77.1 52.4L71.9 45.5L69.9 44.4L67.3 43.9L58.2 44.3L49.1 43.5L41.3 45.9L30.9 45.9L24.4 49.8L22.4 49.8L19.9 48.9L14.7 44.3L13.1 42.1L12.0 38.8L12.3 36.2L13.5 33.6L15.7 31.0L15.7 21.9L16.7 16.7L17.2 15.8L18.6 15.5L26.4 18.1L27.8 19.3L30.2 23.9L31.6 24.3L32.9 21.9L33.0 20.6L34.8 18.7L38.1 17.2L41.9 13.6L42.6 13.6L43.9 12.2L44.6 12.2L45.9 12.5L48.4 16.4L55.6 19.9L59.5 20.3L64.7 18.9L67.3 18.8L82.2 24.5L91.1 34.2L97.2 37.5L98.0 40.8L96.9 48.6L95.2 51.4L93.3 52.1L86.2 52.3Z"/><path fill-rule="evenodd" fill="#b82a50" d="M23.8 44.8L22.4 44.6L20.5 43.4L18.3 39.5L18.0 34.9L18.8 32.3L19.7 31.0L21.8 29.3L23.8 29.1L25.7 28.2L29.6 28.8L32.9 28.1L38.3 21.2L41.3 19.6L45.2 19.8L48.4 22.1L50.2 24.5L51.0 27.8L50.3 32.3L48.8 34.9L39.7 42.1L37.4 42.5L30.2 42.3Z"/>
</g>
<use href="#coast" fill="none" stroke="#000" stroke-width="0.75"/>
<use href="#isl" clip-path="url(#pclip)" fill="none" stroke="#111" stroke-width="0.65"/>
<use href="#bord" fill="none" stroke="#333" stroke-width="0.5"/>
<text x="2.60" y="9.50" text-anchor="start" textLength="5.10" lengthAdjust="spacingAndGlyphs" font-family="Liberation Sans, sans-serif" font-weight="bold" font-size="9.4" fill="#000" stroke="#000" stroke-width="0.2" >c</text>
<path d="M10.5 81.3H76.3M10.5 78.7V83.89999999999999M76.3 78.7V83.89999999999999" stroke="#2a2a2a" stroke-width="1" fill="none"/>
<circle cx="40.1" cy="81.3" r="2.2" fill="#0000ff"/>
<text x="40.08" y="77.00" text-anchor="middle" textLength="14.81" lengthAdjust="spacingAndGlyphs" font-family="Liberation Sans, sans-serif" font-weight="bold" font-size="6.3" fill="#111" stroke="#111" stroke-width="0.2" >2.83</text>
<text x="10.50" y="90.70" text-anchor="middle" textLength="14.81" lengthAdjust="spacingAndGlyphs" font-family="Liberation Sans, sans-serif" font-weight="bold" font-size="6.3" fill="#111" stroke="#111" stroke-width="0.2" >1.76</text>
<text x="76.30" y="90.70" text-anchor="middle" textLength="14.81" lengthAdjust="spacingAndGlyphs" font-family="Liberation Sans, sans-serif" font-weight="bold" font-size="6.3" fill="#111" stroke="#111" stroke-width="0.2" >4.14</text>
</g>
<g transform="translate(425,12)">
<rect x="0.5" y="0.5" width="120" height="92" fill="#f8f8f8" stroke="#6a6a6a" stroke-width="1"/>
<g clip-path="url(#aus)">
<rect x="0" y="0" width="120" height="92" fill="#eecc6c"/><path fill-rule="evenodd" fill="#ecb75a" d="M92.0 93.4L-1.6 93.4L-1.6 -1.5L123.2 -1.5L123.2 86.9L100.4 86.2L99.2 88.3L97.2 89.3L94.6 89.5L94.5 88.8L92.7 87.7L92.4 93.4ZM45.2 80.4L47.1 78.4L48.8 73.9L53.7 71.9L55.5 70.0L55.9 68.1L55.4 65.4L54.3 63.7L53.0 62.9L40.7 63.1L38.7 63.8L37.4 65.4L37.1 68.1L38.4 72.6L38.0 77.2L38.6 79.1L41.3 80.9Z"/><path fill-rule="evenodd" fill="#eea44c" d="M83.6 93.4L81.8 93.4L82.1 89.5L80.7 87.6L73.0 85.6L71.0 84.3L70.2 81.7L70.7 73.9L70.1 71.3L68.6 70.6L64.1 71.2L62.1 70.5L60.2 67.9L57.6 61.5L56.2 60.2L54.3 59.3L50.4 58.9L38.3 61.6L33.9 64.8L30.9 70.3L28.3 72.2L21.2 70.5L-1.6 70.3L-1.6 -1.5L123.2 -1.5L123.2 83.1L115.4 82.5L106.9 78.1L96.6 79.0L87.4 77.6L85.5 79.0L84.4 81.7L84.0 93.4ZM28.3 83.1L26.4 82.7L25.5 81.1L26.1 79.1L27.7 78.0L28.9 79.0L29.3 80.4L29.1 82.3ZM57.6 85.0L54.9 84.4L54.3 83.2L54.4 81.7L56.2 79.1L58.9 78.5L60.6 79.8L61.0 82.3L59.7 84.3ZM47.8 93.4L36.8 93.4L35.3 90.2L36.2 88.8L38.3 88.2L47.2 88.3L48.6 88.8L49.4 90.2L49.1 91.7Z"/><path fill-rule="evenodd" fill="#ee903e" d="M78.4 76.0L77.9 75.2L78.4 73.2L77.5 70.0L75.7 68.1L75.2 65.4L73.4 64.8L72.7 62.9L67.9 65.8L66.7 65.5L66.0 64.4L64.7 64.5L63.4 63.8L62.6 62.2L62.4 60.3L57.6 57.5L50.4 57.0L46.5 57.6L37.4 60.0L30.9 64.2L21.2 66.0L14.7 65.1L13.8 64.2L14.7 63.8L14.7 63.1L-1.6 63.4L-1.6 -1.5L85.6 -1.5L85.2 3.7L87.4 8.2L87.7 10.9L88.6 12.8L91.4 13.8L93.3 16.7L97.9 18.3L100.7 17.4L103.9 12.1L108.2 9.6L109.6 8.2L110.2 4.3L108.5 -1.5L123.2 -1.5L123.2 70.8L105.7 70.9L103.7 73.4L98.5 74.1L95.2 75.2L90.1 74.0L81.6 75.3L79.4 74.6ZM98.5 8.5L95.9 8.7L93.9 6.9L94.2 3.1L95.2 1.4L96.6 0.7L98.5 1.2L99.9 3.7L99.9 6.9ZM123.2 78.7L119.9 79.0L117.7 78.4L116.5 77.2L116.7 74.8L118.7 73.5L123.2 73.5Z"/><path fill-rule="evenodd" fill="#f16a38" d="M104.4 67.4L102.4 67.9L95.9 67.5L89.4 67.9L84.9 67.3L82.9 66.0L79.7 61.5L77.1 59.5L73.8 59.1L68.6 60.8L66.9 60.3L66.0 58.9L64.7 52.8L63.7 51.8L62.1 51.3L53.7 52.8L47.2 53.0L41.2 56.4L33.5 58.7L28.3 61.1L18.6 59.2L14.7 56.2L8.2 59.5L-1.6 59.6L-1.6 -1.5L81.4 -1.5L81.5 11.5L82.9 15.1L83.6 14.2L84.9 13.9L89.4 16.6L93.9 21.4L103.9 26.5L107.6 31.3L109.6 33.0L112.2 33.4L118.0 32.5L123.2 32.4L123.2 47.2L118.0 47.2L115.0 49.2L113.4 51.1L113.2 53.1L111.8 55.7L111.3 59.6L108.8 62.2L107.7 64.8ZM121.2 11.2L119.3 11.2L118.1 8.9L118.2 -1.5L123.2 -1.5L123.2 10.0ZM112.8 23.4L110.0 23.2L108.5 21.2L109.3 18.0L112.2 16.6L114.6 17.4L115.6 20.0L115.3 21.9ZM123.2 62.5L115.9 62.2L114.4 61.6L114.2 60.3L115.5 58.3L117.4 56.9L119.9 56.4L123.2 56.5Z"/><path fill-rule="evenodd" fill="#e8553a" d="M90.7 60.3L87.4 60.7L84.9 59.6L80.3 53.6L75.1 50.2L71.2 44.5L67.9 42.9L61.4 44.8L58.9 44.9L49.1 44.1L43.2 42.6L40.7 42.5L38.7 43.1L36.9 44.6L33.8 50.5L32.2 51.4L16.6 52.1L12.6 50.5L11.7 49.2L11.6 47.3L8.4 44.0L8.4 42.7L8.8 42.3L10.1 44.3L11.0 44.0L9.8 42.7L10.4 42.1L10.5 40.8L9.8 40.1L9.8 37.5L10.5 36.9L11.2 34.2L12.1 34.7L13.4 32.7L15.3 31.8L15.6 31.0L15.7 22.5L16.7 18.6L17.9 17.6L19.9 17.1L24.4 17.6L26.4 19.0L29.3 23.2L30.9 24.3L31.6 24.3L32.9 21.9L33.2 20.0L32.2 17.5L26.4 13.9L24.0 10.2L23.1 5.6L23.7 -1.5L54.7 -1.5L53.8 5.6L55.2 6.3L55.4 6.9L54.0 7.6L54.3 8.6L59.5 8.2L60.0 7.6L59.5 6.3L60.8 6.1L62.1 7.2L65.4 7.2L66.0 7.8L69.9 7.3L71.1 8.2L70.6 8.9L72.5 6.9L72.7 4.3L71.7 1.8L68.8 -1.5L76.7 -1.5L76.6 12.8L77.9 17.4L79.4 18.6L81.6 19.5L84.2 18.4L86.2 18.7L91.6 21.9L95.2 26.0L97.2 27.0L100.4 29.9L102.5 33.0L105.4 35.5L106.1 37.5L110.6 41.4L112.2 44.0L110.6 49.9L103.1 58.8L100.4 59.7L94.6 59.4ZM6.2 55.3L2.9 55.6L-1.6 54.5L-1.6 49.3L4.9 48.9L8.2 49.7L8.8 50.6L8.7 52.4L7.6 54.4Z"/><path fill-rule="evenodd" fill="#e04242" d="M28.3 45.3L23.8 44.8L20.3 42.7L19.0 38.1L19.3 32.3L21.8 29.5L25.7 28.1L29.6 28.6L31.6 28.3L33.5 27.2L34.7 25.8L37.1 21.2L39.0 16.0L38.9 -1.5L50.7 -1.5L50.2 5.6L50.7 9.5L51.7 12.3L52.6 12.1L54.9 13.5L57.1 16.7L58.2 21.2L57.6 24.6L56.2 26.5L51.7 30.2L48.4 35.9L45.9 36.9L40.7 36.8L38.1 37.3L35.4 39.2L30.9 44.2ZM32.9 7.0L31.6 7.1L30.9 6.1L31.0 4.3L32.2 3.2L33.5 5.0ZM99.8 52.7L95.9 52.9L92.0 51.6L90.7 50.3L88.7 45.9L86.8 44.4L84.9 44.1L79.7 44.8L77.7 44.2L72.5 38.7L67.3 35.2L66.2 33.6L65.9 31.6L66.3 25.8L65.6 19.3L66.0 17.4L67.9 16.4L69.2 16.6L78.4 22.8L80.3 22.8L84.2 21.9L86.8 22.5L90.2 24.5L95.9 29.7L105.5 40.8L106.9 44.0L106.7 45.9L105.1 48.6L102.4 51.1Z"/><path fill-rule="evenodd" fill="#c92a55" d="M51.1 20.7L45.9 20.7L42.6 19.4L42.0 16.7L43.9 12.6L45.9 12.2L48.4 15.9L49.1 15.6L50.4 16.3L51.9 19.3Z"/>
</g>
<use href="#coast" fill="none" stroke="#000" stroke-width="0.75"/>
<use href="#isl" clip-path="url(#pclip)" fill="none" stroke="#111" stroke-width="0.65"/>
<use href="#bord" fill="none" stroke="#333" stroke-width="0.5"/>
<text x="2.60" y="9.50" text-anchor="start" textLength="6.16" lengthAdjust="spacingAndGlyphs" font-family="Liberation Sans, sans-serif" font-weight="bold" font-size="9.4" fill="#000" stroke="#000" stroke-width="0.2" >d</text>
<path d="M10.5 81.3H76.3M10.5 78.7V83.89999999999999M76.3 78.7V83.89999999999999" stroke="#2a2a2a" stroke-width="1" fill="none"/>
<circle cx="38.3" cy="81.3" r="2.2" fill="#0000ff"/>
<text x="38.34" y="77.00" text-anchor="middle" textLength="14.81" lengthAdjust="spacingAndGlyphs" font-family="Liberation Sans, sans-serif" font-weight="bold" font-size="6.3" fill="#111" stroke="#111" stroke-width="0.2" >2.53</text>
<text x="10.50" y="90.70" text-anchor="middle" textLength="14.81" lengthAdjust="spacingAndGlyphs" font-family="Liberation Sans, sans-serif" font-weight="bold" font-size="6.3" fill="#111" stroke="#111" stroke-width="0.2" >1.76</text>
<text x="76.30" y="90.70" text-anchor="middle" textLength="14.81" lengthAdjust="spacingAndGlyphs" font-family="Liberation Sans, sans-serif" font-weight="bold" font-size="6.3" fill="#111" stroke="#111" stroke-width="0.2" >3.58</text>
</g>
<g transform="translate(555,12)">
<rect x="0.5" y="0.5" width="120" height="92" fill="#f8f8f8" stroke="#6a6a6a" stroke-width="1"/>
<g clip-path="url(#aus)">
<rect x="0" y="0" width="120" height="92" fill="#f0de8c"/><path fill-rule="evenodd" fill="#eecc6c" d="M92.7 93.4L-1.6 93.4L-1.6 -1.5L123.2 -1.5L123.2 87.1L104.4 87.4L100.4 86.7L93.9 87.7L92.9 88.2L92.6 88.8Z"/><path fill-rule="evenodd" fill="#ecb75a" d="M90.7 93.4L-1.6 93.4L-1.6 -1.5L123.2 -1.5L123.2 85.2L101.1 84.5L99.8 85.0L95.9 85.0L92.0 85.6L90.9 88.2Z"/><path fill-rule="evenodd" fill="#eea44c" d="M88.8 93.4L-1.6 93.4L-1.6 -1.5L123.2 -1.5L123.2 83.7L106.9 82.7L93.9 82.6L92.7 83.7L90.7 84.1L90.1 85.0L89.2 88.2L89.2 93.4ZM46.6 78.4L47.5 76.5L47.5 71.9L50.0 66.8L49.2 64.8L47.2 63.8L45.5 64.2L44.3 65.4L44.2 67.4L45.0 71.3L43.1 76.5L43.3 77.8L44.6 79.0Z"/><path fill-rule="evenodd" fill="#ee903e" d="M87.4 93.4L-1.6 93.4L-1.6 -1.5L85.8 -1.5L84.3 5.0L85.1 5.0L85.5 4.0L85.8 4.3L86.3 6.3L87.6 8.2L88.1 10.9L92.4 14.8L92.7 16.1L93.4 16.7L98.5 18.4L99.8 18.2L101.0 17.4L102.7 12.8L103.7 11.6L108.2 9.5L109.9 7.6L110.2 4.0L108.4 -1.5L123.2 -1.5L123.2 82.4L116.7 82.2L106.3 80.8L90.7 81.2L88.8 82.3L87.8 84.3ZM97.2 8.3L94.6 7.6L93.7 5.6L94.6 2.8L97.2 1.7L99.2 2.8L99.8 5.6L99.1 7.6ZM47.1 83.0L49.1 81.8L50.1 80.4L52.5 74.6L55.8 69.3L56.3 67.4L55.6 64.8L53.7 62.9L50.4 60.9L47.2 60.2L42.6 61.0L36.1 64.8L38.0 70.0L38.1 77.8L39.1 80.4L40.7 82.0L42.6 82.9L45.2 83.3Z"/><path fill-rule="evenodd" fill="#f16a38" d="M84.9 93.4L80.2 93.4L80.3 88.8L79.7 87.7L78.4 87.2L76.7 87.6L75.6 88.8L75.7 93.4L62.3 93.4L62.4 85.6L63.2 79.1L62.6 73.9L62.8 64.3L62.0 62.9L60.4 61.6L53.3 58.9L46.5 58.8L36.8 60.4L32.2 60.1L30.2 60.4L26.4 62.9L23.1 66.9L20.9 68.1L19.9 69.5L17.2 70.6L13.4 70.9L4.9 70.2L-1.6 70.4L-1.6 -1.5L16.7 -1.5L13.9 3.7L13.7 5.6L14.3 7.6L19.9 11.2L23.1 16.3L28.3 19.3L30.3 23.2L31.6 24.4L34.0 22.5L34.8 20.0L36.1 21.0L36.4 19.3L38.1 18.0L39.6 15.4L39.8 13.5L38.8 6.3L39.1 -1.5L54.6 -1.5L53.4 5.6L56.0 6.3L55.6 7.0L53.6 7.6L54.3 9.1L56.2 8.1L59.5 8.1L60.0 6.9L58.9 5.6L59.5 5.6L62.1 7.3L65.4 7.3L66.0 7.9L67.3 7.9L67.9 7.3L69.9 7.3L71.1 8.2L70.6 9.3L73.0 8.2L73.4 4.3L72.7 1.1L69.8 -1.5L75.3 -1.5L77.1 5.0L76.6 7.6L74.8 10.9L75.1 13.5L76.4 15.7L78.4 16.8L82.2 17.0L83.0 16.7L84.2 14.1L85.5 13.4L89.4 16.3L91.7 19.3L93.9 21.2L104.4 25.7L107.5 25.8L108.9 24.8L109.4 23.2L109.5 18.6L110.9 16.9L112.8 16.5L123.2 17.2L123.2 80.9L116.1 80.6L106.9 78.5L96.6 79.0L86.8 78.4L85.2 79.8L84.5 82.3ZM121.2 9.7L118.7 9.4L117.5 6.9L117.6 3.1L118.9 -1.5L122.0 -1.5L123.2 -0.0L123.2 9.1ZM28.3 8.7L24.4 8.3L23.3 7.6L22.8 6.3L22.8 4.3L23.6 2.4L26.4 0.7L28.3 0.9L29.1 2.4L29.3 6.9ZM32.9 15.4L31.6 15.0L31.1 14.1L31.0 12.8L31.6 12.0L32.9 12.4L33.7 13.5L33.7 14.8ZM28.9 78.7L27.0 78.9L24.7 77.2L23.9 74.6L25.1 72.3L27.0 71.7L28.9 71.8L31.1 73.2L30.9 76.5ZM56.9 83.7L55.6 84.0L54.9 83.7L54.9 80.3L56.2 78.2L58.9 77.6L59.9 78.4L60.0 80.4L58.8 82.3ZM51.7 93.4L37.2 93.4L35.7 90.2L36.6 88.8L38.7 88.2L51.1 87.8L51.8 88.2L52.4 89.5L52.1 93.4Z"/><path fill-rule="evenodd" fill="#e8553a" d="M72.5 83.7L70.9 83.0L70.3 81.1L70.4 64.8L68.6 65.4L68.6 66.1L67.9 65.8L66.0 60.9L64.7 59.2L63.4 58.5L50.4 56.8L39.4 57.3L32.2 56.9L28.9 57.6L26.0 58.9L17.9 65.2L14.0 65.0L13.7 64.2L14.7 63.8L15.3 62.4L12.1 63.5L-1.6 63.4L-1.6 -1.5L11.7 -1.5L10.5 5.0L11.4 9.0L12.7 10.4L17.2 12.9L21.2 17.4L25.8 20.6L30.2 26.0L33.5 26.1L36.1 24.9L42.1 17.4L44.5 13.5L45.9 12.8L48.4 15.5L49.8 15.0L51.7 15.7L52.1 15.4L51.6 14.8L51.9 14.1L53.7 13.4L59.5 14.0L64.1 13.4L68.6 15.8L72.5 18.8L77.1 20.9L80.3 21.8L84.9 20.7L91.4 22.4L93.3 23.4L95.2 25.9L104.4 29.9L110.2 33.2L112.8 33.6L119.3 32.2L123.2 32.3L123.2 69.7L119.3 69.9L114.1 68.9L111.5 69.2L109.9 70.0L105.2 74.6L101.8 75.8L95.2 77.2L92.0 76.4L90.7 75.5L84.9 75.9L83.2 76.5L80.4 81.1L79.0 82.2ZM121.2 28.6L119.3 28.6L118.2 27.8L117.7 26.5L118.2 25.1L119.9 24.4L123.2 25.0L123.2 27.9ZM123.2 78.7L118.7 78.8L116.1 78.2L113.6 76.5L113.2 74.6L114.8 72.8L118.0 71.2L123.2 71.0Z"/><path fill-rule="evenodd" fill="#e04242" d="M4.9 11.7L1.7 11.2L0.6 9.5L0.6 -1.5L6.6 -1.5L6.6 9.5L6.2 10.9ZM77.1 78.0L75.8 77.7L75.4 76.5L76.0 74.6L77.7 72.8L77.5 70.0L76.0 68.1L75.7 65.4L74.7 64.2L74.2 60.9L72.6 58.3L71.2 53.1L69.9 51.6L68.6 51.0L61.4 51.9L56.9 51.0L52.4 53.5L49.1 54.4L32.2 54.7L20.5 57.6L17.9 57.5L14.0 56.2L7.5 59.5L-1.6 59.5L-1.6 40.1L2.3 42.4L4.2 42.9L6.6 41.4L8.2 38.1L8.1 30.4L8.6 26.5L7.6 18.0L8.2 14.1L9.0 13.5L10.8 13.2L15.3 14.3L19.9 18.6L25.1 22.1L28.7 27.1L32.9 28.0L35.4 27.9L38.0 27.1L43.2 22.5L47.2 20.4L53.0 20.0L62.1 18.4L66.7 18.6L72.5 21.8L79.9 23.9L86.2 26.5L91.4 27.3L100.4 30.8L105.7 35.5L106.3 37.7L110.2 40.8L114.9 42.7L115.7 46.6L116.7 48.0L119.3 49.0L123.2 48.8L123.2 63.3L112.2 62.6L109.6 63.0L108.2 63.6L104.0 71.3L102.0 73.2L95.2 74.6L89.4 73.2L85.5 73.3L80.3 74.7L79.7 74.4L79.0 74.6L78.4 76.6Z"/><path fill-rule="evenodd" fill="#c92a55" d="M99.8 68.2L93.3 67.9L86.8 68.4L83.6 67.4L76.6 58.3L75.8 55.7L75.4 50.5L74.6 48.6L71.9 45.9L67.9 44.0L65.4 43.9L55.6 45.6L53.0 47.3L49.1 51.1L46.5 52.2L37.4 52.1L21.2 54.7L16.6 54.4L12.7 53.2L4.2 55.7L-1.6 54.8L-1.6 48.2L2.3 49.9L4.9 50.1L6.9 49.1L8.2 47.1L9.0 45.3L8.9 44.0L10.4 42.1L11.7 36.2L13.4 33.5L15.9 31.0L15.4 24.5L13.1 19.3L13.2 18.0L14.0 17.5L23.8 23.1L27.0 27.8L30.9 29.3L36.8 30.3L40.7 30.4L46.5 29.3L53.7 29.0L55.6 27.8L59.2 23.2L61.4 22.3L63.4 22.4L65.4 23.3L69.9 27.7L71.9 28.1L77.7 27.6L86.8 30.8L92.7 34.1L99.8 34.9L101.8 36.2L105.0 40.6L110.2 44.9L112.5 51.8L112.3 55.1L109.8 58.9L107.3 60.9L102.4 66.6Z"/><path fill-rule="evenodd" fill="#b82a50" d="M26.4 51.9L19.9 52.4L15.9 52.1L12.7 50.5L11.7 49.2L11.1 45.3L12.7 41.2L19.4 31.0L21.2 29.7L19.6 26.5L20.5 24.7L22.5 25.1L24.0 28.4L29.6 30.8L40.0 34.1L49.8 34.1L53.7 34.7L56.2 35.8L57.6 37.5L57.6 39.5L56.8 40.8L47.2 49.0L44.6 49.7L38.1 49.5ZM99.8 60.4L92.7 59.4L86.2 59.9L83.6 59.0L81.7 57.6L80.7 56.4L80.2 54.4L81.5 49.2L81.3 47.3L74.6 41.4L73.7 38.8L74.5 36.9L79.0 35.0L83.6 34.6L90.1 37.4L95.9 38.9L98.8 40.8L105.4 48.6L106.4 51.8L105.9 54.4L103.9 57.6L101.8 59.6Z"/><path fill-rule="evenodd" fill="#c02a72" d="M20.5 49.9L16.6 49.9L14.7 49.1L13.5 47.3L13.8 44.6L15.3 42.2L17.2 40.4L27.3 34.2L30.9 34.3L38.1 37.3L47.8 38.0L50.3 39.5L50.4 40.8L49.4 42.7L45.9 46.0L43.9 46.4L38.7 46.1L30.2 49.2ZM95.2 52.5L91.4 52.1L89.2 50.5L88.6 48.6L88.7 45.9L89.5 44.0L90.7 43.0L92.7 42.6L94.6 43.2L97.2 46.0L98.1 48.6L98.0 50.5L97.1 51.8Z"/>
</g>
<use href="#coast" fill="none" stroke="#000" stroke-width="0.75"/>
<use href="#isl" clip-path="url(#pclip)" fill="none" stroke="#111" stroke-width="0.65"/>
<use href="#bord" fill="none" stroke="#333" stroke-width="0.5"/>
<text x="2.60" y="9.50" text-anchor="start" textLength="5.83" lengthAdjust="spacingAndGlyphs" font-family="Liberation Sans, sans-serif" font-weight="bold" font-size="9.4" fill="#000" stroke="#000" stroke-width="0.2" >e</text>
<path d="M10.5 81.3H76.3M10.5 78.7V83.89999999999999M76.3 78.7V83.89999999999999" stroke="#2a2a2a" stroke-width="1" fill="none"/>
<circle cx="40.4" cy="81.3" r="2.2" fill="#0000ff"/>
<text x="40.37" y="77.00" text-anchor="middle" textLength="14.81" lengthAdjust="spacingAndGlyphs" font-family="Liberation Sans, sans-serif" font-weight="bold" font-size="6.3" fill="#111" stroke="#111" stroke-width="0.2" >2.94</text>
<text x="10.50" y="90.70" text-anchor="middle" textLength="14.81" lengthAdjust="spacingAndGlyphs" font-family="Liberation Sans, sans-serif" font-weight="bold" font-size="6.3" fill="#111" stroke="#111" stroke-width="0.2" >2.15</text>
<text x="76.30" y="90.70" text-anchor="middle" textLength="14.81" lengthAdjust="spacingAndGlyphs" font-family="Liberation Sans, sans-serif" font-weight="bold" font-size="6.3" fill="#111" stroke="#111" stroke-width="0.2" >3.89</text>
</g>
<g transform="translate(35,121)">
<rect x="0.5" y="0.5" width="120" height="92" fill="#f8f8f8" stroke="#6a6a6a" stroke-width="1"/>
<g clip-path="url(#aus)">
<rect x="0" y="0" width="120" height="92" fill="#f2f3a3"/><path fill-rule="evenodd" fill="#f0de8c" d="M92.0 93.4L-1.6 93.4L-1.6 -1.5L123.2 -1.5L123.2 86.9L104.4 87.1L100.4 86.6L96.6 88.6L95.2 88.7L93.3 87.9L92.5 88.8L92.6 93.4ZM47.1 78.4L49.4 73.9L54.3 71.6L56.0 70.0L56.4 68.1L56.0 66.1L54.9 64.3L53.7 63.4L51.1 62.8L48.4 63.0L45.5 64.2L44.2 65.4L44.0 67.4L46.0 72.6L44.8 77.8L45.9 78.9Z"/><path fill-rule="evenodd" fill="#eecc6c" d="M88.8 93.4L62.5 93.4L62.3 81.7L63.0 75.2L62.4 71.3L59.1 64.8L56.9 62.2L54.3 60.8L50.4 60.3L45.2 60.9L40.8 62.2L38.1 64.2L37.3 66.1L38.3 71.9L38.5 79.1L40.7 82.3L46.9 88.2L47.6 90.2L47.1 93.4L-1.6 93.4L-1.6 -1.5L123.2 -1.5L123.2 82.9L100.4 82.8L99.2 84.1L97.2 82.4L93.9 82.4L92.7 84.3L90.7 84.1L89.7 85.6L89.0 88.2ZM56.2 83.4L55.6 83.5L54.8 82.3L55.1 81.1L56.2 80.2L57.0 80.4L57.5 81.7Z"/><path fill-rule="evenodd" fill="#ecb75a" d="M73.2 85.3L72.5 85.4L71.9 83.7L71.2 78.2L71.0 73.9L71.7 70.7L70.2 70.0L70.6 68.9L71.9 68.7L71.9 68.1L70.8 67.4L71.3 66.8L71.1 64.8L69.9 64.6L68.6 66.2L67.3 66.1L66.0 64.1L62.8 63.2L59.0 60.3L56.4 58.9L50.4 58.5L41.9 59.8L38.1 61.0L35.4 62.9L32.4 64.2L27.0 64.7L21.8 67.7L18.6 67.8L13.5 65.4L13.5 64.2L15.5 62.9L15.6 57.6L14.7 56.3L13.6 57.0L11.6 61.6L10.1 62.6L6.2 63.1L-1.6 63.1L-1.6 -1.5L86.0 -1.5L84.2 3.7L84.1 6.3L85.5 4.1L87.6 8.2L88.1 10.6L90.4 12.1L93.8 17.4L97.2 18.5L100.6 17.4L104.0 12.1L109.6 8.2L110.3 4.3L108.5 -1.5L123.2 -1.5L123.2 70.7L112.2 71.5L105.7 70.0L105.2 71.9L104.5 72.6L104.7 73.9L103.1 75.0L101.7 75.2L103.1 77.2L99.2 78.3L93.3 78.7L88.8 78.4L85.5 76.2L82.9 75.8L78.1 72.6L77.8 71.3L77.1 71.1L75.4 71.9L74.4 73.2L74.3 75.2L75.6 81.1L74.9 83.0ZM99.2 7.7L96.6 8.2L94.6 6.9L94.4 4.3L95.9 2.1L97.9 1.9L99.4 3.1L100.0 5.6ZM28.3 78.6L27.7 78.9L26.4 78.1L25.2 75.2L25.7 72.6L27.7 71.1L28.9 72.0L29.5 73.9L29.3 76.5ZM123.2 77.9L110.2 77.9L105.6 77.2L105.8 76.5L108.9 74.7L112.2 73.6L118.0 74.6L123.2 74.6ZM84.2 93.4L79.2 93.4L79.3 83.7L80.0 82.3L81.6 81.5L83.6 81.6L84.4 83.0L84.6 93.4ZM38.1 93.4L32.6 93.4L32.5 88.8L33.6 86.9L36.1 86.7L38.3 88.2L39.0 90.8L38.6 93.4Z"/><path fill-rule="evenodd" fill="#eea44c" d="M74.4 12.9L73.2 12.6L72.3 10.9L72.3 -1.5L76.1 -1.5L76.0 10.9L75.7 12.1ZM120.6 11.7L118.7 10.9L118.0 8.9L118.1 -1.5L123.2 -1.5L123.2 10.3ZM55.6 7.5L53.0 7.5L52.5 6.3L53.0 5.8L55.6 5.7L56.9 5.1L57.5 6.3ZM95.2 75.5L92.7 75.4L89.4 73.3L87.7 68.7L86.5 67.4L84.9 67.0L79.7 67.6L77.1 67.0L74.6 63.5L74.4 60.9L73.2 59.8L66.0 60.4L57.6 57.3L52.4 56.9L40.7 57.7L27.0 60.0L24.4 59.7L21.8 58.4L17.2 53.4L12.1 49.2L11.8 47.3L8.4 44.0L8.8 42.3L10.1 44.3L11.1 44.0L9.8 42.7L10.5 42.1L10.5 40.8L9.8 40.1L9.8 37.5L10.5 36.9L11.2 34.2L12.1 34.7L13.4 32.7L15.3 31.8L15.6 31.0L15.7 23.2L16.6 19.3L17.9 18.0L19.9 17.4L26.4 17.6L28.3 19.0L30.2 23.6L31.6 24.6L33.5 21.9L33.4 20.6L34.8 19.1L36.1 21.2L36.6 20.6L36.5 19.3L37.4 19.0L38.3 17.4L41.9 13.6L42.6 13.5L43.9 12.3L45.9 12.3L48.4 15.6L49.1 15.0L51.1 15.0L51.7 15.7L51.4 13.5L54.9 8.4L56.2 7.7L59.6 7.6L58.2 5.6L58.9 5.0L60.8 5.7L62.1 7.1L65.4 7.2L66.0 7.8L69.9 7.1L71.1 8.2L69.2 10.7L68.4 10.9L68.4 12.8L67.1 14.1L67.1 14.8L72.5 19.1L78.4 22.3L80.3 22.2L81.8 20.6L82.2 18.7L81.3 17.4L82.9 16.7L84.2 13.2L85.5 12.7L86.2 13.1L89.4 16.4L91.0 20.0L93.9 23.1L94.4 25.1L95.2 25.9L96.6 26.5L101.8 25.8L104.7 27.1L105.2 29.7L104.4 30.7L102.4 30.9L102.8 33.0L105.9 35.5L105.8 37.5L106.9 37.9L109.6 40.3L112.5 44.0L112.4 47.9L113.0 48.6L113.1 53.1L112.5 53.8L112.2 56.8L118.7 58.0L123.2 58.0L123.2 62.1L108.9 62.2L107.6 64.7L105.9 66.1L99.6 68.7L97.0 73.9ZM70.6 13.4L69.4 12.8L69.9 11.6L71.1 12.8ZM112.8 22.1L110.2 22.4L108.9 21.2L109.1 18.6L111.5 16.7L113.4 16.7L114.6 18.0L114.3 20.6ZM77.7 19.6L76.8 19.3L77.7 19.0ZM5.6 55.9L2.9 56.1L0.6 55.1L-1.6 53.2L-1.6 51.1L2.3 48.8L4.2 48.6L6.2 49.1L7.3 50.5L7.6 52.4L6.9 54.8Z"/><path fill-rule="evenodd" fill="#ee903e" d="M90.1 60.3L86.2 60.3L83.6 59.5L80.3 53.7L75.1 49.9L71.9 44.9L68.6 43.5L60.2 44.0L39.4 43.4L36.1 45.1L33.6 50.5L32.3 51.8L27.7 53.4L24.4 53.1L20.6 49.9L18.5 45.9L19.3 32.3L21.8 29.4L23.7 29.0L23.8 28.0L25.1 28.5L25.7 28.0L29.6 28.5L43.9 28.8L46.7 28.4L49.1 26.8L52.6 21.2L54.3 20.2L56.9 19.7L60.8 20.0L63.4 21.0L64.9 22.5L67.3 26.6L69.9 28.4L73.2 28.7L80.9 27.7L85.5 28.5L88.1 30.1L91.0 34.2L98.5 41.3L103.7 44.8L105.0 47.3L104.7 49.2L103.7 50.5L98.8 53.8L95.2 58.3L93.1 59.6Z"/>
</g>
<use href="#coast" fill="none" stroke="#000" stroke-width="0.75"/>
<use href="#isl" clip-path="url(#pclip)" fill="none" stroke="#111" stroke-width="0.65"/>
<use href="#bord" fill="none" stroke="#333" stroke-width="0.5"/>
<text x="2.60" y="9.50" text-anchor="start" textLength="3.74" lengthAdjust="spacingAndGlyphs" font-family="Liberation Sans, sans-serif" font-weight="bold" font-size="9.4" fill="#000" stroke="#000" stroke-width="0.2" >f</text>
<path d="M10.5 81.3H76.3M10.5 78.7V83.89999999999999M76.3 78.7V83.89999999999999" stroke="#2a2a2a" stroke-width="1" fill="none"/>
<circle cx="39.0" cy="81.3" r="2.2" fill="#0000ff"/>
<text x="38.99" y="77.00" text-anchor="middle" textLength="14.81" lengthAdjust="spacingAndGlyphs" font-family="Liberation Sans, sans-serif" font-weight="bold" font-size="6.3" fill="#111" stroke="#111" stroke-width="0.2" >2.06</text>
<text x="10.50" y="90.70" text-anchor="middle" textLength="14.81" lengthAdjust="spacingAndGlyphs" font-family="Liberation Sans, sans-serif" font-weight="bold" font-size="6.3" fill="#111" stroke="#111" stroke-width="0.2" >1.35</text>
<text x="76.30" y="90.70" text-anchor="middle" textLength="14.81" lengthAdjust="spacingAndGlyphs" font-family="Liberation Sans, sans-serif" font-weight="bold" font-size="6.3" fill="#111" stroke="#111" stroke-width="0.2" >2.99</text>
</g>
<g transform="translate(165,121)">
<rect x="0.5" y="0.5" width="120" height="92" fill="#f8f8f8" stroke="#6a6a6a" stroke-width="1"/>
<g clip-path="url(#aus)">
<rect x="0" y="0" width="120" height="92" fill="#f0de8c"/><path fill-rule="evenodd" fill="#eecc6c" d="M123.2 93.4L-1.6 93.4L-1.6 -1.5L123.2 -1.5ZM44.4 80.4L46.8 78.4L49.1 73.6L53.7 71.6L55.6 69.7L56.2 66.1L55.6 64.8L54.3 63.7L51.7 63.0L45.9 63.3L41.3 62.9L38.9 63.5L37.4 64.8L36.8 66.8L38.2 71.9L38.2 78.4L39.0 79.8L40.7 80.7Z"/><path fill-rule="evenodd" fill="#ecb75a" d="M123.2 93.4L38.2 93.4L37.8 90.2L38.8 87.6L41.3 85.6L48.4 81.9L52.4 76.7L57.5 72.6L58.8 70.0L59.3 66.1L58.2 62.9L55.6 61.2L49.1 59.7L41.3 59.8L38.1 60.9L35.4 62.8L32.9 63.9L27.0 64.5L21.8 67.9L20.7 68.1L19.2 69.6L16.6 70.6L-1.6 70.9L-1.6 -1.5L15.7 -1.5L13.9 4.3L13.9 6.3L14.6 8.2L18.6 11.6L22.2 16.0L27.7 18.8L30.1 23.2L31.6 24.3L33.3 21.9L33.3 20.6L34.8 18.8L35.8 19.3L36.7 18.0L38.1 17.5L43.9 12.6L45.9 12.5L48.4 15.7L49.1 15.0L50.4 15.0L51.7 15.6L51.4 13.5L54.9 8.4L56.2 7.7L59.6 7.6L58.3 5.6L58.9 5.0L60.8 5.7L62.1 7.0L65.4 7.0L66.0 7.7L67.3 7.7L67.9 7.0L69.9 7.0L71.1 8.2L70.2 9.5L68.1 10.9L67.5 12.8L66.7 13.6L66.6 14.8L67.9 15.8L69.9 16.7L82.2 17.6L83.1 16.0L83.1 8.9L85.5 3.8L87.9 8.2L87.8 10.9L88.4 11.5L88.3 12.8L92.2 14.8L92.7 17.1L95.9 17.4L97.9 18.4L100.4 23.9L101.8 25.2L103.7 25.9L106.3 26.0L108.3 25.1L109.9 23.2L111.5 19.3L113.4 17.7L116.7 17.1L123.2 17.0ZM25.7 7.1L24.4 6.8L23.7 5.6L24.0 4.3L25.1 3.5L26.4 3.9L26.9 5.0L26.7 6.3ZM68.6 6.3L64.1 6.4L62.1 5.6L62.2 5.0L63.8 4.3L67.3 4.2L69.8 5.0L69.9 5.6ZM55.6 7.5L53.0 7.5L52.5 6.3L53.0 5.8L55.6 5.7L56.9 5.1L57.5 6.3ZM27.7 80.5L25.5 78.4L24.3 74.6L25.1 71.9L27.7 70.7L29.6 71.8L30.3 74.6L29.6 78.2L28.9 79.5Z"/><path fill-rule="evenodd" fill="#eea44c" d="M4.9 11.3L2.9 11.2L1.4 8.9L1.1 5.0L1.6 -1.5L6.0 -1.5L6.3 8.2L5.8 10.2ZM99.8 93.4L70.4 93.4L70.1 81.7L71.0 72.6L70.6 71.6L69.2 71.0L64.7 72.9L63.7 72.6L62.7 64.8L61.9 62.2L60.5 60.3L57.6 58.9L42.6 56.9L39.4 57.5L30.9 61.3L28.3 61.3L22.4 59.6L20.6 60.9L18.9 64.2L16.6 65.2L14.0 65.3L13.6 64.2L15.6 62.9L15.3 60.9L14.3 62.9L12.7 63.6L8.9 62.9L4.2 60.3L-1.6 62.1L-1.6 57.9L4.2 60.0L9.2 57.0L12.7 56.4L14.7 57.5L15.3 59.2L15.4 57.6L13.6 54.4L13.7 52.4L11.8 49.2L11.9 47.3L8.4 44.0L8.8 42.3L10.1 44.4L11.2 44.0L9.8 42.7L10.5 41.4L9.8 40.1L9.8 37.5L10.5 36.9L11.2 34.2L12.1 34.7L13.4 32.7L15.3 31.8L15.7 31.0L15.0 21.9L14.0 20.5L10.5 18.6L10.2 17.4L10.7 16.7L12.7 16.7L16.2 19.3L23.8 21.3L25.7 22.9L28.9 27.2L33.5 26.3L39.0 21.2L41.9 20.2L51.1 21.5L60.8 18.8L65.4 18.4L70.6 19.3L79.0 23.1L80.9 23.1L88.1 20.3L90.7 20.6L92.7 21.8L95.2 26.4L97.9 28.7L101.9 31.0L102.9 33.0L106.0 35.5L105.8 37.5L110.2 40.6L112.8 41.4L116.4 47.9L119.3 49.0L123.2 48.9L123.2 86.4L110.9 86.7L104.4 84.9L102.8 84.9L101.7 85.6L100.6 87.6L100.3 93.4ZM123.2 30.5L119.3 30.7L117.4 30.0L116.6 27.8L117.4 25.6L119.3 24.4L123.2 24.8ZM58.2 85.7L54.3 85.6L53.5 84.3L53.6 82.3L55.6 79.1L59.7 77.8L61.0 79.1L61.1 82.3L60.2 84.8ZM51.7 93.4L45.7 93.4L45.0 90.8L45.5 88.8L48.4 87.1L51.7 87.3L52.3 90.2L52.2 93.4Z"/><path fill-rule="evenodd" fill="#ee903e" d="M95.2 89.0L92.9 87.6L92.7 86.8L89.4 87.4L86.9 81.1L85.5 79.1L83.6 78.0L80.3 77.8L79.0 77.0L77.4 70.0L75.7 68.1L75.1 65.5L72.9 64.8L72.5 62.9L71.9 63.8L67.9 65.2L62.8 58.7L58.2 57.2L51.9 56.4L43.9 52.6L39.4 53.1L34.2 56.6L31.6 57.7L29.6 57.6L27.0 56.1L20.5 50.5L18.7 46.6L19.2 33.0L19.9 31.0L22.1 29.0L21.5 27.1L21.8 26.1L23.1 26.3L24.2 28.4L25.7 28.3L30.2 29.9L32.9 30.0L35.4 29.4L41.3 26.6L49.1 28.2L53.0 28.0L55.6 27.0L61.5 22.5L64.7 21.7L68.6 21.8L72.1 23.2L77.7 27.1L84.9 27.4L87.4 28.0L88.8 29.4L91.1 34.9L98.3 40.8L101.1 42.1L107.6 43.4L109.6 44.6L111.8 49.2L112.5 52.4L111.2 59.6L108.8 62.2L108.5 63.5L108.9 71.8L110.2 77.2L102.4 78.7L98.5 80.6L96.0 83.0L97.5 84.3L97.8 85.6L96.6 87.9ZM122.6 62.3L119.9 62.5L118.0 62.0L116.0 60.3L115.8 58.3L118.0 56.8L123.2 56.7L123.2 62.2ZM123.2 77.7L114.2 77.2L118.0 72.4L120.6 71.4L123.2 72.1ZM82.9 93.4L79.3 93.4L79.2 88.8L79.7 87.2L80.3 86.6L82.3 87.6L83.7 89.5L83.7 91.4Z"/><path fill-rule="evenodd" fill="#f16a38" d="M93.9 78.5L92.0 78.2L90.1 76.6L88.1 76.4L82.1 72.6L81.2 70.7L81.4 64.2L79.0 60.8L77.1 59.8L74.4 59.4L69.2 60.1L67.8 58.9L64.1 53.8L58.6 51.1L58.1 49.2L58.2 41.4L58.9 39.1L60.2 37.6L64.1 36.2L69.2 36.4L71.9 37.7L75.3 42.7L77.7 44.2L83.6 45.0L92.7 44.2L102.4 46.2L105.7 48.0L106.6 50.5L104.1 58.3L105.6 66.1L105.1 71.9L104.4 73.9L95.2 78.4Z"/><path fill-rule="evenodd" fill="#e8553a" d="M90.1 60.3L86.8 60.3L83.8 58.3L81.8 55.1L81.7 53.1L82.2 52.0L84.2 50.9L88.1 50.5L95.2 50.9L97.6 51.8L98.0 54.4L96.6 57.2L93.9 59.1ZM96.6 75.3L95.2 75.8L92.6 75.2L89.7 72.6L89.2 71.3L89.5 70.0L91.4 68.3L95.9 66.4L99.2 65.8L101.1 66.3L102.8 68.7L103.0 70.7L102.4 72.3L101.4 73.2Z"/>
</g>
<use href="#coast" fill="none" stroke="#000" stroke-width="0.75"/>
<use href="#isl" clip-path="url(#pclip)" fill="none" stroke="#111" stroke-width="0.65"/>
<use href="#bord" fill="none" stroke="#333" stroke-width="0.5"/>
<text x="2.60" y="9.50" text-anchor="start" textLength="6.16" lengthAdjust="spacingAndGlyphs" font-family="Liberation Sans, sans-serif" font-weight="bold" font-size="9.4" fill="#000" stroke="#000" stroke-width="0.2" >g</text>
<path d="M10.5 81.3H76.3M10.5 78.7V83.89999999999999M76.3 78.7V83.89999999999999" stroke="#2a2a2a" stroke-width="1" fill="none"/>
<circle cx="40.9" cy="81.3" r="2.2" fill="#0000ff"/>
<text x="40.92" y="77.00" text-anchor="middle" textLength="14.81" lengthAdjust="spacingAndGlyphs" font-family="Liberation Sans, sans-serif" font-weight="bold" font-size="6.3" fill="#111" stroke="#111" stroke-width="0.2" >2.16</text>
<text x="10.50" y="90.70" text-anchor="middle" textLength="14.81" lengthAdjust="spacingAndGlyphs" font-family="Liberation Sans, sans-serif" font-weight="bold" font-size="6.3" fill="#111" stroke="#111" stroke-width="0.2" >1.30</text>
<text x="76.30" y="90.70" text-anchor="middle" textLength="14.81" lengthAdjust="spacingAndGlyphs" font-family="Liberation Sans, sans-serif" font-weight="bold" font-size="6.3" fill="#111" stroke="#111" stroke-width="0.2" >3.16</text>
</g>
<g transform="translate(295,121)">
<rect x="0.5" y="0.5" width="120" height="92" fill="#f8f8f8" stroke="#6a6a6a" stroke-width="1"/>
<g clip-path="url(#aus)">
<rect x="0" y="0" width="120" height="92" fill="#f3fabf"/><path fill-rule="evenodd" fill="#f2f3a3" d="M123.2 93.4L-1.6 93.4L-1.6 -1.5L123.2 -1.5ZM44.6 80.4L46.8 78.4L48.4 73.6L53.7 71.6L55.6 69.6L56.1 66.1L54.3 63.7L51.7 63.1L46.5 63.5L41.3 63.0L39.4 63.4L38.1 64.7L37.6 66.8L38.5 71.3L38.0 76.5L38.5 78.4L40.7 80.4Z"/><path fill-rule="evenodd" fill="#f0de8c" d="M123.2 93.4L-1.6 93.4L-1.6 -1.5L123.2 -1.5ZM45.0 83.7L48.4 82.0L51.8 77.2L56.9 73.3L58.3 71.3L59.2 68.1L59.1 64.8L58.2 62.8L56.2 61.3L52.4 60.5L41.9 60.5L38.1 61.6L34.3 64.8L34.5 77.2L35.4 80.6L36.8 82.2L38.7 83.3L41.9 83.8Z"/><path fill-rule="evenodd" fill="#eecc6c" d="M92.0 93.4L70.4 93.4L70.1 81.7L70.8 72.6L69.9 71.2L68.6 70.9L64.7 72.8L63.8 72.6L62.9 65.4L61.9 62.2L60.5 60.3L57.6 58.8L50.4 58.5L38.1 59.6L35.4 60.8L31.6 64.1L29.1 64.8L28.5 66.1L30.0 71.3L30.2 75.8L29.6 81.7L28.3 83.6L27.0 83.6L25.6 82.3L24.5 79.8L23.8 75.8L24.3 71.3L27.5 66.1L27.0 64.9L21.8 67.8L20.2 68.1L17.9 70.1L15.3 70.9L-1.6 70.7L-1.6 -1.5L123.2 -1.5L123.2 71.0L118.0 70.9L112.2 68.9L109.7 69.3L108.9 70.7L109.5 71.9L113.8 74.6L115.7 77.2L116.4 81.7L115.4 84.7L113.4 86.0L110.9 86.5L104.4 86.8L100.4 86.3L99.2 88.3L96.6 89.3L94.6 89.3L92.7 87.4L91.9 89.5ZM59.5 85.7L57.6 86.2L54.9 85.8L53.9 84.9L53.6 83.7L53.8 81.7L54.9 79.8L56.8 78.4L58.9 77.9L60.7 78.4L61.2 80.4L60.8 83.8ZM49.8 93.4L34.1 93.4L33.3 90.2L34.2 88.6L36.8 87.8L48.4 87.9L49.8 88.4L50.5 89.5L50.5 91.4Z"/><path fill-rule="evenodd" fill="#ecb75a" d="M84.2 93.4L78.6 93.4L79.3 80.4L78.7 73.9L77.9 72.6L77.4 70.0L75.4 68.1L75.1 66.1L74.4 65.5L72.8 65.4L72.5 63.5L67.9 65.0L63.4 59.3L59.5 57.3L56.2 56.9L39.4 57.1L34.2 57.9L28.9 60.0L22.4 59.8L20.6 60.9L17.9 64.8L14.0 65.3L13.6 64.2L15.6 62.9L15.3 57.5L14.7 57.6L14.7 62.2L13.3 63.5L-1.6 63.2L-1.6 -1.5L100.5 -1.5L101.0 5.6L100.4 9.5L99.0 11.5L94.3 14.1L93.2 15.4L93.7 16.7L94.7 17.4L98.5 18.2L100.8 17.4L103.7 12.9L108.2 9.8L109.6 8.2L110.1 4.3L108.6 -1.5L123.2 -1.5L123.2 63.2L112.2 62.6L108.2 63.5L104.5 69.3L103.9 73.2L103.1 74.8L99.2 75.2L95.2 78.3L93.9 77.1L92.0 77.0L90.7 75.7L88.1 77.6L85.5 76.4L83.8 76.5L83.2 79.8L84.5 86.2L84.6 93.4Z"/><path fill-rule="evenodd" fill="#eea44c" d="M99.8 67.5L96.6 67.8L92.7 66.3L86.2 59.8L83.6 58.4L80.9 58.3L75.8 59.9L69.2 60.2L67.3 58.4L64.2 53.1L62.1 52.2L52.4 53.6L39.4 53.5L30.2 51.6L15.3 51.0L12.0 49.2L11.4 47.4L-1.6 47.5L-1.6 -1.5L70.4 -1.5L68.9 5.6L69.0 6.9L70.8 8.2L70.6 9.5L73.2 10.2L79.7 9.3L82.9 10.5L83.8 6.9L85.5 3.8L86.3 5.0L87.1 2.4L88.8 1.0L90.7 0.8L92.0 1.4L93.9 3.7L94.1 6.3L93.4 7.6L92.0 8.4L88.1 8.5L87.6 10.9L88.0 14.1L90.3 18.0L92.9 20.6L105.2 26.5L107.0 27.8L108.4 31.6L108.6 38.8L112.3 44.0L112.4 47.9L113.1 48.6L113.2 53.1L112.5 53.8L111.4 57.0L110.0 58.9L103.1 65.3ZM79.7 -0.7L77.7 -1.5L80.6 -1.5ZM121.2 11.2L119.3 11.2L118.3 9.5L117.9 5.6L118.3 -1.5L123.2 -1.5L123.2 9.9ZM55.0 8.2L55.4 7.6L53.0 7.5L52.4 6.9L53.0 5.9L55.6 5.7L55.8 5.0L54.9 1.7L53.7 1.0L52.4 3.4L52.2 6.3L53.0 8.3L54.3 8.6ZM112.2 23.3L110.9 23.2L109.6 22.4L108.8 20.0L110.1 17.4L112.8 16.5L114.4 17.4L114.9 20.0L114.1 22.1ZM121.9 54.4L119.3 54.5L117.4 53.8L116.7 52.4L117.2 51.1L119.3 49.6L123.2 50.0L123.2 54.3ZM4.9 55.9L2.9 55.9L1.7 55.1L1.5 53.8L2.0 53.1L3.6 52.4L5.6 52.9L6.2 54.4Z"/><path fill-rule="evenodd" fill="#ee903e" d="M16.6 -1.5L14.7 -0.9L12.9 -1.5ZM97.9 61.6L95.2 61.2L93.3 60.1L88.1 53.6L86.2 52.2L84.2 51.9L77.7 52.4L75.8 51.9L74.6 50.5L72.9 45.9L70.6 44.1L67.3 43.8L60.2 44.5L48.4 44.2L40.0 43.3L28.9 45.4L16.6 44.7L14.0 44.1L11.7 42.7L9.4 38.9L4.2 38.4L-1.6 38.7L-1.6 33.8L1.7 36.1L3.6 36.8L5.6 36.5L7.0 34.9L8.1 29.7L8.0 14.1L8.8 11.4L10.8 9.8L15.9 9.4L19.9 10.5L23.0 16.7L27.7 20.3L30.9 24.6L31.7 24.5L32.7 23.2L33.5 21.9L33.4 20.6L34.8 19.1L36.1 21.2L36.7 20.6L36.5 19.3L37.4 19.1L38.4 18.0L38.3 17.4L41.9 13.5L42.6 13.5L41.1 12.1L40.6 10.9L40.5 -1.5L45.3 -1.5L45.4 8.2L44.5 12.1L45.9 12.3L48.4 15.7L49.1 15.1L51.1 15.3L51.7 15.8L52.3 15.4L52.1 14.1L56.6 11.5L60.1 8.2L60.8 6.3L62.1 7.3L64.7 7.8L66.4 9.5L67.1 12.1L66.7 14.8L70.6 17.4L74.4 17.0L76.4 17.4L78.3 19.3L77.7 21.2L78.4 22.0L80.3 22.3L84.2 20.7L91.4 22.3L93.1 23.2L95.2 26.1L101.6 31.0L104.7 36.2L105.4 41.4L105.6 53.8L104.7 56.4L102.9 58.9L100.4 60.8Z"/><path fill-rule="evenodd" fill="#f16a38" d="M30.2 40.1L27.0 40.5L23.8 40.1L15.9 37.3L14.2 36.2L13.7 33.6L16.0 31.0L15.7 28.4L16.6 20.9L22.4 25.1L23.3 27.1L23.5 29.0L25.7 28.3L29.6 28.7L37.4 27.7L40.0 28.3L41.6 29.7L42.5 33.0L41.3 35.8L38.7 37.3ZM86.2 44.0L83.2 44.0L81.6 42.4L80.8 38.1L80.9 33.0L81.7 30.4L83.6 28.4L85.5 27.8L88.8 27.6L90.2 29.0L89.9 39.5L88.8 42.2Z"/>
</g>
<use href="#coast" fill="none" stroke="#000" stroke-width="0.75"/>
<use href="#isl" clip-path="url(#pclip)" fill="none" stroke="#111" stroke-width="0.65"/>
<use href="#bord" fill="none" stroke="#333" stroke-width="0.5"/>
<text x="2.60" y="9.50" text-anchor="start" textLength="6.12" lengthAdjust="spacingAndGlyphs" font-family="Liberation Sans, sans-serif" font-weight="bold" font-size="9.4" fill="#000" stroke="#000" stroke-width="0.2" >h</text>
<path d="M10.5 81.3H76.3M10.5 78.7V83.89999999999999M76.3 78.7V83.89999999999999" stroke="#2a2a2a" stroke-width="1" fill="none"/>
<circle cx="43.4" cy="81.3" r="2.2" fill="#0000ff"/>
<text x="43.40" y="77.00" text-anchor="middle" textLength="14.81" lengthAdjust="spacingAndGlyphs" font-family="Liberation Sans, sans-serif" font-weight="bold" font-size="6.3" fill="#111" stroke="#111" stroke-width="0.2" >2.08</text>
<text x="10.50" y="90.70" text-anchor="middle" textLength="14.81" lengthAdjust="spacingAndGlyphs" font-family="Liberation Sans, sans-serif" font-weight="bold" font-size="6.3" fill="#111" stroke="#111" stroke-width="0.2" >1.03</text>
<text x="76.30" y="90.70" text-anchor="middle" textLength="14.81" lengthAdjust="spacingAndGlyphs" font-family="Liberation Sans, sans-serif" font-weight="bold" font-size="6.3" fill="#111" stroke="#111" stroke-width="0.2" >3.13</text>
</g>
<g transform="translate(425,121)">
<rect x="0.5" y="0.5" width="120" height="92" fill="#f8f8f8" stroke="#6a6a6a" stroke-width="1"/>
<g clip-path="url(#aus)">
<rect x="0" y="0" width="120" height="92" fill="#f8fddc"/><path fill-rule="evenodd" fill="#f3fabf" d="M123.2 93.4L-1.6 93.4L-1.6 -1.5L123.2 -1.5ZM46.6 78.4L49.3 74.6L54.2 71.3L55.6 69.4L55.9 66.1L54.9 64.3L53.7 63.3L51.1 62.7L48.4 62.9L45.6 64.2L44.6 65.4L44.5 66.8L45.9 71.9L44.4 77.8L45.2 78.7Z"/><path fill-rule="evenodd" fill="#f2f3a3" d="M92.0 93.4L39.0 93.4L39.1 87.6L40.0 85.2L48.4 82.2L52.4 77.0L56.9 73.2L58.3 71.3L59.1 67.4L58.5 64.2L56.9 62.1L53.7 60.5L49.1 60.2L44.2 60.9L40.5 62.2L38.0 64.2L36.7 66.8L36.3 69.3L37.9 73.9L37.7 78.4L37.1 81.1L35.4 82.1L33.5 81.8L32.6 80.4L34.0 72.6L33.5 71.7L32.2 71.0L5.6 69.5L-1.6 69.6L-1.6 -1.5L123.2 -1.5L123.2 86.5L104.4 86.8L100.4 86.3L99.2 88.3L95.2 89.4L92.7 87.5L91.9 89.5Z"/><path fill-rule="evenodd" fill="#f0de8c" d="M95.2 78.3L93.9 77.1L92.0 77.0L90.7 75.7L88.1 77.6L85.5 76.1L82.9 76.1L80.3 74.8L78.0 72.6L77.8 71.3L77.1 70.4L74.4 69.3L73.2 67.4L72.5 67.9L70.9 67.4L71.8 65.4L71.2 64.6L69.9 64.6L68.6 66.5L67.3 66.7L66.4 66.1L68.4 70.7L68.6 73.6L67.3 75.2L64.1 75.3L63.3 74.6L63.0 72.6L63.8 64.8L60.6 60.9L56.2 58.8L50.4 58.4L41.9 59.6L38.1 60.9L35.4 62.9L33.5 63.7L27.0 64.4L20.5 65.8L14.7 64.9L13.9 64.2L14.7 63.3L-1.6 63.5L-1.6 -1.5L123.2 -1.5L123.2 70.6L105.7 70.7L104.4 74.4L103.1 75.0L99.2 75.1ZM72.5 70.4L70.6 70.4L70.2 69.3L73.8 68.8L74.4 69.3ZM56.2 85.6L54.3 85.5L53.7 84.9L53.6 83.0L54.3 80.7L56.9 78.3L60.2 78.1L61.2 80.4L60.5 83.7L58.9 85.1ZM83.6 93.4L80.0 93.4L80.3 85.1L80.9 83.6L82.2 82.9L83.5 83.7L83.8 84.9L84.0 93.4ZM52.4 93.4L45.8 93.4L45.2 90.8L45.6 88.8L47.8 87.3L51.7 87.1L52.4 88.8Z"/><path fill-rule="evenodd" fill="#eecc6c" d="M83.6 67.5L80.3 67.5L77.7 66.6L74.5 63.5L74.1 61.6L73.2 60.6L68.6 59.3L54.3 56.9L49.8 56.8L36.1 58.1L33.5 58.7L28.9 61.0L24.4 61.7L17.9 61.4L15.3 59.5L7.5 60.8L-1.6 60.8L-1.6 -1.5L123.2 -1.5L123.2 63.1L108.9 63.0L105.7 66.1L102.4 67.1L88.1 66.9Z"/><path fill-rule="evenodd" fill="#ecb75a" d="M81.6 61.0L79.7 61.2L77.7 60.5L74.9 57.6L71.9 53.1L69.9 52.0L67.3 51.6L55.6 53.3L48.4 53.5L41.3 53.3L34.8 51.4L32.9 51.3L30.9 52.1L26.5 56.4L23.8 57.7L19.2 57.9L14.0 55.9L7.5 58.4L-1.6 58.4L-1.6 -1.5L85.7 -1.5L84.3 5.0L85.1 5.0L85.5 4.0L85.8 4.3L87.6 8.2L88.0 10.9L90.1 13.5L91.4 13.7L92.3 14.8L92.7 16.2L93.3 16.7L98.5 18.3L100.9 17.4L103.7 12.0L108.2 9.6L109.9 7.6L110.2 4.0L108.4 -1.5L123.2 -1.5L123.2 46.7L119.3 46.5L117.3 47.3L115.9 49.2L114.9 53.8L112.8 54.8L111.5 57.1L108.9 59.2L104.4 60.0L88.1 59.2ZM97.2 8.3L94.6 7.6L93.6 5.6L94.6 2.8L97.2 1.7L99.2 2.8L99.9 5.6L99.1 7.6Z"/><path fill-rule="evenodd" fill="#eea44c" d="M14.7 -0.7L12.7 -0.3L11.0 -1.5L15.3 -1.5ZM108.9 52.5L106.3 52.9L97.9 52.3L85.5 52.3L82.9 50.8L80.1 45.3L77.1 43.9L66.7 44.7L49.8 44.0L41.3 44.4L33.5 43.2L30.2 44.4L24.4 51.1L22.4 52.6L19.9 53.0L15.9 52.3L12.7 50.4L11.8 49.2L11.5 47.3L8.4 44.0L8.6 42.1L7.7 37.5L7.8 18.0L8.6 11.5L10.1 9.8L12.1 9.2L15.3 9.4L18.6 10.7L20.5 12.4L24.4 18.4L29.6 23.7L31.6 24.6L33.3 21.9L33.5 19.4L30.9 16.4L25.1 11.5L23.8 9.5L23.2 5.6L23.8 -1.5L53.9 -1.5L53.9 5.6L57.1 5.6L56.9 6.5L53.9 7.6L53.9 9.5L56.2 8.0L59.5 8.0L59.8 6.9L58.9 5.4L60.8 5.9L62.1 7.2L65.4 7.1L66.0 7.8L69.9 7.1L71.1 8.2L69.2 10.7L68.4 10.9L68.4 12.8L67.2 14.1L67.2 14.8L72.5 18.9L75.8 20.3L77.1 21.5L78.3 21.2L78.8 18.6L79.7 17.2L80.9 16.6L82.9 16.6L84.2 13.9L85.5 13.5L89.8 16.7L93.9 21.2L106.8 27.1L108.0 29.0L108.4 32.3L108.0 35.5L107.0 37.5L111.8 42.7L112.2 44.0L111.3 49.9L110.2 51.7ZM75.1 10.6L73.5 10.2L72.4 7.6L72.9 -1.5L75.9 -1.5L76.2 6.9L75.8 9.5ZM120.6 11.6L118.7 10.9L118.0 8.9L118.2 -1.5L123.2 -1.5L123.2 10.2ZM70.6 13.3L69.4 12.8L69.9 11.7L71.0 12.8ZM112.2 23.3L109.7 22.5L108.9 20.0L110.1 17.4L112.8 16.6L114.4 17.4L115.0 20.0L114.1 22.4ZM77.7 19.8L76.6 19.3L77.7 18.8L78.3 19.3ZM123.2 38.9L117.4 38.7L115.8 38.1L115.4 36.9L116.7 34.8L118.7 33.6L123.2 33.7ZM6.9 55.1L3.6 55.6L-1.6 54.8L-1.6 48.7L4.9 48.4L8.4 49.2L9.4 50.5L9.4 52.4L8.8 53.8Z"/><path fill-rule="evenodd" fill="#ee903e" d="M44.6 1.1L43.9 1.7L42.6 1.3L40.8 -1.5L45.3 -1.5ZM34.8 8.7L32.2 8.2L30.8 5.6L31.6 2.6L32.9 1.1L34.2 0.6L35.4 1.8L36.0 4.3L35.7 7.6ZM45.2 21.3L40.7 21.5L39.4 20.8L38.7 19.3L38.6 17.4L39.4 16.0L38.3 13.5L38.5 11.5L39.7 10.2L43.2 8.3L45.2 9.3L48.2 16.0L49.5 17.4L49.4 18.6L48.4 19.9ZM20.5 45.4L17.2 45.3L14.7 44.3L12.8 42.1L11.7 38.8L11.9 36.2L13.4 33.3L17.2 30.4L17.4 29.7L15.5 21.2L15.9 19.3L17.2 20.0L21.8 24.5L23.1 27.1L22.9 29.0L25.7 28.1L31.9 28.4L33.8 29.7L34.9 32.3L34.7 34.2L33.9 35.5L28.3 38.7L23.8 43.7ZM99.8 36.9L92.7 35.9L86.2 36.0L82.9 34.7L81.5 32.3L81.1 27.1L81.8 24.5L84.2 20.9L85.5 20.1L86.8 20.1L90.7 21.5L93.2 23.2L95.2 26.1L101.0 29.7L102.3 32.3L102.6 34.9L101.8 36.4Z"/>
</g>
<use href="#coast" fill="none" stroke="#000" stroke-width="0.75"/>
<use href="#isl" clip-path="url(#pclip)" fill="none" stroke="#111" stroke-width="0.65"/>
<use href="#bord" fill="none" stroke="#333" stroke-width="0.5"/>
<text x="2.60" y="9.50" text-anchor="start" textLength="2.95" lengthAdjust="spacingAndGlyphs" font-family="Liberation Sans, sans-serif" font-weight="bold" font-size="9.4" fill="#000" stroke="#000" stroke-width="0.2" >i</text>
<path d="M10.5 81.3H76.3M10.5 78.7V83.89999999999999M76.3 78.7V83.89999999999999" stroke="#2a2a2a" stroke-width="1" fill="none"/>
<circle cx="38.2" cy="81.3" r="2.2" fill="#0000ff"/>
<text x="38.18" y="77.00" text-anchor="middle" textLength="14.81" lengthAdjust="spacingAndGlyphs" font-family="Liberation Sans, sans-serif" font-weight="bold" font-size="6.3" fill="#111" stroke="#111" stroke-width="0.2" >1.89</text>
<text x="10.50" y="90.70" text-anchor="middle" textLength="14.81" lengthAdjust="spacingAndGlyphs" font-family="Liberation Sans, sans-serif" font-weight="bold" font-size="6.3" fill="#111" stroke="#111" stroke-width="0.2" >1.20</text>
<text x="76.30" y="90.70" text-anchor="middle" textLength="14.81" lengthAdjust="spacingAndGlyphs" font-family="Liberation Sans, sans-serif" font-weight="bold" font-size="6.3" fill="#111" stroke="#111" stroke-width="0.2" >2.84</text>
</g>
<g transform="translate(555,121)">
<rect x="0.5" y="0.5" width="120" height="92" fill="#f8f8f8" stroke="#6a6a6a" stroke-width="1"/>
<g clip-path="url(#aus)">
<rect x="0" y="0" width="120" height="92" fill="#f2f3a3"/><path fill-rule="evenodd" fill="#f0de8c" d="M123.2 93.4L-1.6 93.4L-1.6 -1.5L123.2 -1.5ZM46.6 78.4L47.5 76.5L47.6 71.9L49.5 68.7L50.0 66.8L49.1 64.8L46.5 63.8L44.7 64.2L43.5 65.4L43.5 67.4L44.9 71.3L43.2 76.5L43.4 77.8L44.6 79.0Z"/><path fill-rule="evenodd" fill="#eecc6c" d="M92.0 93.4L-1.6 93.4L-1.6 -1.5L123.2 -1.5L123.2 86.5L104.4 86.7L100.4 86.2L99.2 88.4L97.2 89.4L94.6 89.6L94.5 88.8L92.7 87.7L92.4 93.4ZM47.2 83.0L49.1 81.8L50.2 80.4L52.4 75.0L55.6 69.3L56.0 66.1L54.5 63.5L51.1 61.4L47.2 60.5L42.6 60.9L39.2 62.9L37.7 65.4L38.3 78.4L39.4 80.7L41.3 82.4L44.6 83.3Z"/><path fill-rule="evenodd" fill="#ecb75a" d="M22.4 93.4L-1.6 93.4L-1.6 -1.5L86.0 -1.5L84.2 3.7L84.1 6.3L85.5 4.1L87.6 8.2L88.1 10.6L90.7 12.2L93.9 17.7L97.2 18.7L100.6 17.4L104.1 12.1L109.6 8.2L110.3 4.3L108.5 -1.5L123.2 -1.5L123.2 71.2L118.7 71.2L112.8 70.0L110.2 70.4L108.2 72.4L107.6 77.2L105.0 78.3L99.2 78.8L84.2 78.5L80.9 77.1L77.9 72.6L77.7 71.3L76.4 70.4L73.2 70.2L64.7 71.9L63.7 70.7L62.4 63.5L61.4 62.1L59.5 60.7L54.3 59.1L50.4 58.7L41.9 59.4L38.1 60.9L34.2 63.7L25.7 64.8L21.6 68.1L23.3 74.6L22.6 81.1ZM99.2 7.6L96.6 8.1L94.8 6.9L94.6 4.3L95.9 2.2L97.9 1.9L99.4 3.1L100.0 5.6ZM58.2 85.2L56.2 85.3L54.9 84.6L54.6 81.7L55.0 79.8L56.2 77.8L59.5 76.5L60.8 77.8L60.9 81.1L60.2 83.7ZM84.2 93.4L79.8 93.4L79.9 88.2L80.9 86.0L82.9 86.0L84.2 87.6L84.6 90.2ZM50.4 93.4L35.9 93.4L34.5 91.4L34.3 90.2L35.2 88.8L37.9 88.2L45.2 87.7L49.8 88.0L51.2 88.8L51.7 90.2L51.0 93.4Z"/><path fill-rule="evenodd" fill="#eea44c" d="M13.4 93.4L9.8 93.4L9.9 81.7L9.1 74.6L10.5 68.7L10.4 64.8L9.4 63.7L7.5 63.1L-1.6 63.1L-1.6 -1.5L15.7 -1.5L13.9 4.3L14.6 8.2L19.7 12.1L22.4 16.1L26.4 19.3L29.6 23.7L30.9 24.3L32.3 23.2L33.0 20.6L34.8 18.0L38.7 16.8L43.9 12.6L45.9 12.6L48.4 15.7L49.1 15.1L51.1 15.1L51.7 15.7L51.4 13.5L54.9 8.4L56.2 7.7L59.6 7.6L59.6 6.9L58.3 5.6L58.9 5.1L60.8 5.7L62.1 7.1L65.4 7.1L66.0 7.8L69.9 7.0L71.1 8.2L70.4 9.5L68.2 10.9L68.1 12.8L66.8 14.1L66.9 14.8L70.6 17.3L73.2 18.2L78.4 22.3L80.3 22.4L81.9 20.6L82.3 19.3L81.8 17.4L82.9 16.7L84.2 13.2L85.5 12.8L89.4 16.4L90.8 20.0L93.8 23.2L94.6 25.1L98.5 25.6L100.4 26.5L100.5 29.0L101.6 29.7L102.8 33.0L106.0 35.5L106.2 37.5L110.2 40.8L114.2 42.7L115.4 44.0L116.0 47.3L115.4 50.5L112.7 53.8L112.5 55.1L111.8 55.7L111.8 57.6L111.1 58.3L111.3 59.6L108.8 62.2L107.7 64.8L104.5 69.3L103.4 72.6L101.9 73.9L95.2 75.6L90.7 74.6L88.1 75.3L84.2 74.2L82.3 72.6L79.0 68.1L76.4 66.9L75.1 65.6L72.5 65.4L72.5 62.9L71.9 63.9L67.9 65.1L63.8 58.9L58.2 57.4L41.3 57.1L38.1 58.0L31.6 61.3L21.2 61.8L19.9 62.9L17.9 66.0L15.9 66.4L14.6 66.1L13.6 73.9L13.7 93.4ZM75.1 10.4L72.5 8.9L71.2 6.3L71.3 3.7L73.1 -1.5L76.0 -1.5L76.2 7.6L75.8 10.0ZM120.6 11.6L118.7 10.9L118.0 8.9L118.2 -1.5L123.2 -1.5L123.2 10.3ZM55.6 7.5L53.0 7.5L52.5 6.3L53.0 5.8L55.6 5.8L56.9 5.1L57.4 6.3ZM70.6 13.0L69.7 12.8L69.9 11.9L70.8 12.8ZM112.2 21.9L109.6 21.7L108.8 20.0L110.2 17.4L112.8 16.6L114.2 17.4L114.5 19.3L113.4 21.2ZM77.7 19.6L76.7 19.3L77.7 19.0ZM14.8 63.5L15.8 62.9L16.1 59.6L15.8 57.6L14.7 56.3L13.0 57.6L12.4 60.3L12.7 62.1L13.6 63.5ZM123.2 62.2L116.7 62.0L115.1 61.6L114.7 60.9L115.9 58.9L118.0 57.2L119.9 56.7L123.2 57.0Z"/><path fill-rule="evenodd" fill="#ee903e" d="M4.2 11.6L2.3 10.9L1.4 8.9L1.1 5.0L1.6 -1.5L6.1 -1.5L6.2 8.7L5.6 10.8ZM21.2 27.2L19.2 26.6L16.5 23.2L10.8 21.2L9.6 19.3L10.1 17.0L12.1 16.5L14.7 17.8L17.2 22.3L20.5 23.9L21.7 25.1L21.9 26.5ZM99.8 59.0L85.5 58.8L82.9 57.4L77.7 51.9L74.4 51.0L51.1 53.8L39.4 53.2L36.8 54.1L30.9 57.9L26.4 58.3L21.2 56.8L12.7 51.2L8.8 51.3L5.9 55.7L4.2 56.2L2.3 55.9L-1.6 53.5L-1.6 50.0L4.2 50.6L7.5 50.0L8.1 38.8L8.9 35.5L10.1 34.1L15.3 31.9L17.9 30.0L21.2 29.9L21.8 29.2L23.8 29.4L25.7 28.6L29.6 28.8L31.6 28.2L33.5 27.0L35.6 23.9L38.7 20.9L41.3 19.9L55.6 21.1L66.7 19.8L69.9 20.6L71.9 21.8L75.8 26.5L79.0 28.4L84.2 29.1L91.4 27.9L94.6 28.9L95.9 29.8L100.6 36.2L110.2 44.6L111.0 46.6L111.1 49.2L110.2 51.3L103.7 57.5Z"/><path fill-rule="evenodd" fill="#f16a38" d="M54.9 36.3L51.7 35.5L50.1 33.0L50.4 29.4L51.2 28.4L53.0 27.5L54.9 27.4L56.9 28.0L58.6 30.4L58.6 32.3L58.0 34.2L56.8 35.5ZM99.2 53.1L93.3 52.5L87.4 52.8L85.5 52.2L83.6 50.5L81.4 47.3L81.0 44.6L81.9 39.5L83.5 36.9L88.1 34.9L92.0 35.2L104.1 45.3L105.5 47.3L105.2 49.2L102.4 52.0ZM26.4 53.2L23.7 53.1L15.9 50.2L13.3 48.6L11.6 45.3L12.2 39.5L13.4 37.4L15.9 36.0L19.2 35.7L23.1 36.2L25.7 37.6L26.9 40.8L26.8 47.3L27.4 51.1L27.3 52.4Z"/>
</g>
<use href="#coast" fill="none" stroke="#000" stroke-width="0.75"/>
<use href="#isl" clip-path="url(#pclip)" fill="none" stroke="#111" stroke-width="0.65"/>
<use href="#bord" fill="none" stroke="#333" stroke-width="0.5"/>
<text x="2.60" y="9.50" text-anchor="start" textLength="2.95" lengthAdjust="spacingAndGlyphs" font-family="Liberation Sans, sans-serif" font-weight="bold" font-size="9.4" fill="#000" stroke="#000" stroke-width="0.2" >j</text>
<path d="M10.5 81.3H76.3M10.5 78.7V83.89999999999999M76.3 78.7V83.89999999999999" stroke="#2a2a2a" stroke-width="1" fill="none"/>
<circle cx="45.5" cy="81.3" r="2.2" fill="#0000ff"/>
<text x="45.47" y="77.00" text-anchor="middle" textLength="14.81" lengthAdjust="spacingAndGlyphs" font-family="Liberation Sans, sans-serif" font-weight="bold" font-size="6.3" fill="#111" stroke="#111" stroke-width="0.2" >2.12</text>
<text x="10.50" y="90.70" text-anchor="middle" textLength="14.81" lengthAdjust="spacingAndGlyphs" font-family="Liberation Sans, sans-serif" font-weight="bold" font-size="6.3" fill="#111" stroke="#111" stroke-width="0.2" >1.19</text>
<text x="76.30" y="90.70" text-anchor="middle" textLength="14.81" lengthAdjust="spacingAndGlyphs" font-family="Liberation Sans, sans-serif" font-weight="bold" font-size="6.3" fill="#111" stroke="#111" stroke-width="0.2" >2.94</text>
</g>
<g transform="translate(35,230)">
<rect x="0.5" y="0.5" width="120" height="92" fill="#f8f8f8" stroke="#6a6a6a" stroke-width="1"/>
<g clip-path="url(#aus)">
<rect x="0" y="0" width="120" height="92" fill="#f8fddc"/><path fill-rule="evenodd" fill="#f3fabf" d="M123.2 83.1L118.7 83.2L116.1 82.4L114.4 81.1L110.9 76.3L106.9 74.6L103.7 74.5L99.2 75.2L95.2 78.1L94.4 77.8L92.0 79.0L89.4 79.3L84.9 78.6L81.6 77.4L77.9 72.6L77.7 71.3L75.8 70.2L70.5 70.7L64.7 73.2L63.6 71.9L63.3 66.1L61.9 62.9L59.4 60.9L54.3 59.5L50.4 59.1L41.9 60.7L39.1 62.2L36.8 64.7L27.0 64.5L21.8 67.7L18.6 67.7L15.3 65.7L14.0 65.6L13.6 64.2L14.7 63.2L-1.6 63.4L-1.6 -1.5L123.2 -1.5ZM36.1 82.6L34.8 82.6L33.5 81.2L32.3 75.8L33.2 71.9L35.4 70.2L36.9 71.3L37.7 74.6L37.4 79.8ZM58.2 84.5L55.6 84.7L54.6 83.7L54.4 82.3L55.6 79.4L56.9 78.5L58.9 78.2L60.0 79.1L60.2 81.1L59.5 83.3ZM84.2 93.4L79.8 93.4L79.8 88.2L80.9 86.1L82.9 86.2L84.2 87.6L84.7 90.2ZM48.4 93.4L43.5 93.4L42.3 91.4L42.3 89.5L45.2 88.3L49.2 88.8L50.0 90.8Z"/><path fill-rule="evenodd" fill="#f2f3a3" d="M88.8 75.3L83.7 73.9L79.1 68.1L76.4 66.9L75.1 65.7L72.5 65.3L72.5 63.3L71.9 64.0L67.9 65.0L63.4 59.2L57.6 57.5L49.8 57.2L41.9 58.1L34.8 59.7L19.9 59.4L17.2 58.7L14.7 56.2L11.2 58.3L8.2 59.2L-1.6 59.3L-1.6 -1.5L85.7 -1.5L84.4 5.0L85.1 5.0L85.5 4.0L87.6 8.2L88.0 10.9L92.5 14.8L92.7 16.0L93.9 17.8L96.6 19.0L98.5 18.7L100.4 17.5L104.1 12.1L109.6 8.2L110.3 4.3L108.5 -1.5L123.2 -1.5L123.2 46.0L118.5 45.9L117.3 46.6L117.0 47.9L118.7 49.3L123.2 49.2L123.2 63.4L110.2 62.5L108.7 64.2L110.0 68.7L109.3 70.0L105.7 70.7L105.0 71.8L103.1 72.7L98.5 73.1L93.3 74.8L90.7 74.5ZM98.5 7.9L95.9 7.8L94.7 6.3L95.0 3.7L96.6 2.0L98.5 2.3L99.8 4.2L99.8 6.5ZM123.2 79.3L119.9 79.6L117.4 78.6L115.7 75.2L116.1 72.7L118.0 72.0L123.2 71.9Z"/><path fill-rule="evenodd" fill="#f0de8c" d="M56.2 -1.2L54.3 -0.9L52.4 -1.5L56.8 -1.5ZM74.4 12.3L73.2 11.7L72.4 9.5L72.4 -1.5L76.0 -1.5L76.1 8.9L75.7 10.9ZM120.6 11.5L118.8 10.9L118.0 8.9L118.2 -1.5L123.2 -1.5L123.2 10.2ZM55.6 7.2L53.0 7.2L52.8 6.3L55.6 6.1L56.9 5.4L57.2 6.3ZM101.8 68.8L96.6 68.8L92.0 67.4L88.1 61.6L82.9 57.6L80.2 53.8L75.4 49.9L72.5 45.9L70.6 44.4L56.9 43.0L53.7 43.4L52.4 44.1L51.1 45.8L49.7 51.8L47.2 53.2L43.2 53.3L34.8 52.2L24.4 52.8L21.3 51.1L17.6 45.3L10.1 42.7L10.7 42.1L10.4 40.8L9.7 40.1L9.5 37.5L10.1 36.9L10.2 35.5L11.4 33.7L12.1 34.3L13.4 32.5L15.3 31.8L17.9 29.9L21.2 29.9L21.8 29.2L23.8 29.2L25.7 27.9L28.9 27.3L31.7 24.5L33.0 21.9L33.0 20.6L34.8 18.7L36.1 20.7L36.2 19.3L37.4 18.8L38.2 17.4L43.9 12.5L45.9 12.4L47.2 13.4L47.8 11.5L49.8 10.0L54.3 9.3L56.2 7.9L59.5 7.8L59.8 6.9L58.5 5.6L58.9 5.3L60.8 5.9L62.1 7.1L65.4 7.2L66.0 7.8L69.9 7.1L71.1 8.2L70.4 9.5L68.3 10.9L68.3 12.8L66.9 14.1L66.9 14.8L67.9 15.8L68.6 15.7L70.6 17.5L75.8 20.3L77.1 21.5L78.2 21.2L78.7 18.6L79.5 17.4L80.9 16.7L82.9 16.6L84.2 14.1L86.2 13.9L89.7 16.7L94.6 25.2L97.2 26.1L102.6 26.5L102.8 27.1L101.7 30.4L102.7 33.0L105.8 35.5L105.8 37.5L107.6 38.4L111.6 42.7L111.6 47.9L113.0 53.1L112.5 55.1L111.5 57.0L106.2 60.9L104.2 66.8L103.2 68.1ZM70.6 13.3L69.5 12.8L69.9 11.7L71.1 12.8ZM112.2 22.1L109.2 21.9L108.6 20.0L110.2 17.4L112.8 16.6L114.3 17.4L114.7 19.3L113.8 21.2ZM77.7 19.8L76.6 19.3L77.7 18.8L78.3 19.3ZM123.2 38.9L112.4 38.8L110.9 37.5L110.9 35.5L112.0 34.2L113.4 33.9L123.2 34.1ZM8.8 44.0L8.8 42.5L9.5 43.4ZM6.9 55.1L3.6 55.7L-1.6 54.6L-1.6 49.6L2.9 46.0L4.9 45.9L6.9 48.3L8.2 51.7L8.0 53.8Z"/><path fill-rule="evenodd" fill="#eecc6c" d="M56.2 36.5L53.0 36.5L51.4 35.5L50.4 34.0L49.7 31.0L49.3 20.6L49.5 18.6L50.4 16.9L52.4 16.0L53.0 14.0L55.6 12.9L57.2 13.5L58.2 14.7L59.1 18.6L58.6 33.0L58.0 34.9ZM92.7 44.0L89.4 44.3L85.5 43.8L83.6 43.1L82.2 41.4L80.8 25.8L82.3 22.5L84.9 20.2L86.2 20.2L87.4 21.1L91.7 26.5L95.8 29.7L97.2 31.8L97.8 36.2L97.1 40.1L95.3 42.7Z"/>
</g>
<use href="#coast" fill="none" stroke="#000" stroke-width="0.75"/>
<use href="#isl" clip-path="url(#pclip)" fill="none" stroke="#111" stroke-width="0.65"/>
<use href="#bord" fill="none" stroke="#333" stroke-width="0.5"/>
<text x="2.60" y="9.50" text-anchor="start" textLength="5.72" lengthAdjust="spacingAndGlyphs" font-family="Liberation Sans, sans-serif" font-weight="bold" font-size="9.4" fill="#000" stroke="#000" stroke-width="0.2" >k</text>
<path d="M10.5 81.3H76.3M10.5 78.7V83.89999999999999M76.3 78.7V83.89999999999999" stroke="#2a2a2a" stroke-width="1" fill="none"/>
<circle cx="43.4" cy="81.3" r="2.2" fill="#0000ff"/>
<text x="43.40" y="77.00" text-anchor="middle" textLength="14.81" lengthAdjust="spacingAndGlyphs" font-family="Liberation Sans, sans-serif" font-weight="bold" font-size="6.3" fill="#111" stroke="#111" stroke-width="0.2" >1.39</text>
<text x="10.50" y="90.70" text-anchor="middle" textLength="14.81" lengthAdjust="spacingAndGlyphs" font-family="Liberation Sans, sans-serif" font-weight="bold" font-size="6.3" fill="#111" stroke="#111" stroke-width="0.2" >0.88</text>
<text x="76.30" y="90.70" text-anchor="middle" textLength="14.81" lengthAdjust="spacingAndGlyphs" font-family="Liberation Sans, sans-serif" font-weight="bold" font-size="6.3" fill="#111" stroke="#111" stroke-width="0.2" >1.90</text>
</g>
<g transform="translate(165,230)">
<rect x="0.5" y="0.5" width="120" height="92" fill="#f8f8f8" stroke="#6a6a6a" stroke-width="1"/>
<g clip-path="url(#aus)">
<rect x="0" y="0" width="120" height="92" fill="#f8fddc"/><path fill-rule="evenodd" fill="#f3fabf" d="M123.2 93.4L15.7 93.4L15.5 73.9L16.4 66.8L13.9 65.4L13.8 64.2L14.7 63.7L14.8 62.9L12.7 62.4L5.6 63.6L-1.6 63.4L-1.6 -1.5L123.2 -1.5ZM44.4 80.4L46.8 78.4L49.0 73.9L53.7 71.6L55.3 70.0L56.5 66.8L55.5 64.2L52.4 63.1L41.3 63.0L38.9 63.5L37.4 64.8L36.9 66.8L38.1 71.9L38.2 78.4L39.0 79.8L40.7 80.7ZM4.9 76.7L3.6 76.8L1.7 75.9L1.0 75.1L1.1 73.9L3.6 72.8L5.9 73.2L6.4 75.2Z"/><path fill-rule="evenodd" fill="#f2f3a3" d="M92.0 93.4L38.2 93.4L37.8 90.2L38.8 87.6L41.2 85.6L46.5 83.3L48.7 81.7L52.0 77.2L57.6 72.6L62.1 64.2L62.1 62.2L60.2 60.5L56.2 59.5L50.4 59.1L48.4 59.7L41.9 59.9L38.1 60.8L33.5 63.5L29.5 64.8L29.1 67.4L30.2 74.6L29.2 93.4L24.4 93.4L23.8 73.9L25.0 66.8L21.2 66.7L20.4 66.1L16.2 57.6L14.0 55.9L9.4 58.6L6.9 59.5L-1.6 59.3L-1.6 -1.5L100.4 -1.5L101.0 5.6L100.4 9.5L99.2 11.3L95.0 14.1L93.5 16.0L93.6 17.4L94.3 18.0L96.6 18.6L98.5 18.4L100.6 17.4L104.1 12.8L109.5 8.2L110.1 4.3L108.6 -1.5L123.2 -1.5L123.2 86.8L101.1 85.9L100.3 86.2L99.4 88.2L97.2 89.5L94.6 89.6L94.5 88.8L92.7 87.7L92.4 93.4Z"/><path fill-rule="evenodd" fill="#f0de8c" d="M62.1 -0.8L56.9 -0.4L53.4 -1.5L63.0 -1.5ZM121.2 11.1L119.3 11.1L118.2 8.9L118.3 -1.5L123.2 -1.5L123.2 9.8ZM121.9 83.0L115.1 82.3L107.6 78.5L97.9 79.0L85.5 78.7L82.2 78.0L80.5 76.5L77.9 72.6L77.7 71.3L76.4 70.0L74.4 69.3L72.5 70.3L70.6 70.4L70.1 70.0L70.6 68.8L73.5 68.7L70.6 67.4L70.3 64.8L68.9 65.4L68.6 66.4L67.3 66.1L67.2 63.5L66.4 60.9L65.0 58.9L63.4 58.2L57.6 57.3L50.4 57.1L35.4 58.0L27.7 60.5L24.4 60.0L12.0 49.2L11.8 47.3L8.5 44.0L8.8 42.4L10.1 44.4L11.2 44.0L9.9 42.7L10.5 42.1L10.5 40.8L9.8 40.1L9.8 37.5L10.5 36.9L11.2 34.2L12.1 34.7L13.4 32.7L15.3 31.8L15.6 31.0L15.6 23.2L16.6 19.2L17.9 17.9L19.9 17.3L25.7 17.6L27.7 19.0L30.2 23.9L31.6 24.2L32.9 21.9L33.0 20.6L35.4 17.6L38.7 16.8L43.9 12.8L45.9 12.6L48.0 14.8L49.3 11.5L50.4 10.3L54.3 9.3L56.2 7.9L59.9 7.6L60.0 6.9L58.9 5.6L60.8 6.2L62.1 7.3L65.4 7.2L66.0 7.8L67.3 7.8L67.9 7.1L69.9 7.1L71.1 8.2L69.2 10.6L68.4 10.9L68.4 12.8L67.9 13.5L68.8 15.4L70.6 17.3L71.9 17.8L77.0 17.4L82.9 14.2L83.1 8.9L83.8 8.2L83.8 6.9L85.1 4.3L85.5 3.9L86.0 4.3L87.1 6.3L87.3 3.1L88.1 1.1L89.4 0.2L91.4 0.9L93.3 3.0L94.0 5.6L93.3 7.4L92.0 8.4L90.1 9.0L88.1 8.6L88.2 12.8L89.7 16.0L90.2 20.0L93.9 23.2L94.4 25.1L97.2 26.5L100.4 29.3L101.1 29.3L103.1 32.7L105.7 34.0L107.6 38.1L113.4 43.4L116.7 48.1L119.3 49.3L123.2 49.1L123.2 83.0ZM55.6 7.2L53.0 7.2L52.8 6.3L55.6 6.2L56.9 5.6L57.0 6.3ZM70.6 13.0L69.6 12.8L69.9 11.9ZM112.2 22.1L109.6 21.9L108.8 20.0L110.2 17.4L112.8 16.6L114.2 17.4L114.6 19.3L113.6 21.2ZM4.9 55.8L2.3 55.7L-1.6 54.6L-1.6 49.2L4.2 48.2L7.5 49.2L8.6 51.1L8.4 53.1L6.9 55.1ZM66.7 76.6L62.1 76.9L61.8 75.2L63.4 71.0L65.4 69.6L67.3 69.3L68.6 70.1L68.9 73.2L68.3 75.2ZM55.6 85.6L53.4 84.9L53.4 83.0L54.3 80.5L56.9 78.5L60.2 77.9L60.8 78.4L60.8 79.8L60.0 83.7L58.2 85.1ZM84.2 93.4L79.8 93.4L79.9 88.2L80.9 85.9L82.9 86.0L84.2 87.6L84.6 90.2ZM51.7 93.4L45.7 93.4L45.0 90.8L45.5 88.8L48.4 87.1L51.7 87.1L52.3 90.2L52.2 93.4Z"/><path fill-rule="evenodd" fill="#eecc6c" d="M95.9 75.9L90.7 74.4L88.1 75.1L86.8 74.9L82.9 73.2L79.4 68.7L74.5 64.2L74.4 60.9L72.7 54.4L71.9 53.1L69.9 52.0L66.7 51.9L57.6 53.3L40.7 53.4L32.2 52.5L26.4 53.2L23.1 52.4L19.8 49.2L18.4 45.9L19.1 33.0L19.6 31.6L21.8 29.4L23.8 29.1L24.4 28.5L25.7 28.1L29.6 28.6L32.7 27.8L38.7 21.0L40.7 20.2L45.2 20.3L47.8 19.6L52.4 16.4L53.2 14.1L55.6 12.4L58.9 11.9L62.8 12.7L68.6 19.8L75.8 21.7L81.7 24.5L88.1 30.1L92.0 35.4L94.6 36.2L99.8 36.0L102.4 36.9L110.9 46.3L112.2 49.2L113.0 53.1L111.2 59.6L108.8 62.2L109.3 68.1L108.8 70.7L106.5 73.2L103.1 75.0L99.2 75.1ZM123.2 62.4L119.9 62.8L118.0 62.3L115.4 59.6L115.2 57.6L117.4 57.1L123.2 57.0ZM123.2 78.8L119.3 79.0L116.7 78.0L115.4 75.8L116.1 73.2L118.7 71.7L123.2 71.7Z"/><path fill-rule="evenodd" fill="#ecb75a" d="M102.4 72.9L99.2 72.8L96.7 71.3L96.1 69.3L96.2 62.2L95.1 60.9L90.7 58.5L89.3 56.4L89.5 53.8L90.7 52.2L92.7 51.6L95.2 52.3L96.7 53.8L99.2 58.5L103.7 61.0L105.0 62.4L105.6 64.2L105.6 67.4L104.2 71.3Z"/>
</g>
<use href="#coast" fill="none" stroke="#000" stroke-width="0.75"/>
<use href="#isl" clip-path="url(#pclip)" fill="none" stroke="#111" stroke-width="0.65"/>
<use href="#bord" fill="none" stroke="#333" stroke-width="0.5"/>
<text x="2.60" y="9.50" text-anchor="start" textLength="2.95" lengthAdjust="spacingAndGlyphs" font-family="Liberation Sans, sans-serif" font-weight="bold" font-size="9.4" fill="#000" stroke="#000" stroke-width="0.2" >l</text>
<path d="M10.5 81.3H76.3M10.5 78.7V83.89999999999999M76.3 78.7V83.89999999999999" stroke="#2a2a2a" stroke-width="1" fill="none"/>
<circle cx="45.4" cy="81.3" r="2.2" fill="#0000ff"/>
<text x="45.42" y="77.00" text-anchor="middle" textLength="14.81" lengthAdjust="spacingAndGlyphs" font-family="Liberation Sans, sans-serif" font-weight="bold" font-size="6.3" fill="#111" stroke="#111" stroke-width="0.2" >1.56</text>
<text x="10.50" y="90.70" text-anchor="middle" textLength="14.81" lengthAdjust="spacingAndGlyphs" font-family="Liberation Sans, sans-serif" font-weight="bold" font-size="6.3" fill="#111" stroke="#111" stroke-width="0.2" >0.87</text>
<text x="76.30" y="90.70" text-anchor="middle" textLength="14.81" lengthAdjust="spacingAndGlyphs" font-family="Liberation Sans, sans-serif" font-weight="bold" font-size="6.3" fill="#111" stroke="#111" stroke-width="0.2" >2.17</text>
</g>
<g transform="translate(295,230)">
<rect x="0.5" y="0.5" width="120" height="92" fill="#f8f8f8" stroke="#6a6a6a" stroke-width="1"/>
<g clip-path="url(#aus)">
<rect x="0" y="0" width="120" height="92" fill="#f8fddc"/><path fill-rule="evenodd" fill="#f3fabf" d="M95.2 78.3L93.9 77.1L92.0 77.0L90.7 75.7L88.1 77.6L85.5 76.2L82.9 76.1L80.3 74.8L77.1 70.9L70.6 70.8L64.7 72.3L63.8 71.3L63.3 66.1L61.9 62.9L59.4 60.9L54.3 59.6L50.4 59.2L41.9 60.8L39.3 62.2L36.8 64.7L27.0 64.5L21.8 67.7L18.6 67.7L15.3 65.7L14.0 65.7L13.6 64.2L14.7 63.6L14.7 63.0L-1.6 63.4L-1.6 -1.5L123.2 -1.5L123.2 70.9L105.7 70.8L104.4 74.3L103.1 75.0L99.2 75.1ZM36.1 82.5L34.8 82.6L33.5 81.2L32.3 75.8L32.9 72.5L34.2 70.8L35.4 70.2L36.9 71.3L37.7 74.6L37.4 79.7ZM58.2 84.4L55.6 84.7L54.6 83.7L54.4 82.3L55.6 79.4L56.9 78.5L58.9 78.1L60.0 79.1L60.2 81.1L59.5 83.2ZM83.6 93.4L80.1 93.4L80.2 84.9L80.7 83.7L81.6 82.9L82.9 83.0L83.7 84.3L84.0 93.4ZM48.4 93.4L43.5 93.4L42.2 91.4L42.2 89.5L45.2 88.3L49.2 88.8L50.0 90.8Z"/><path fill-rule="evenodd" fill="#f2f3a3" d="M82.2 67.5L77.1 67.2L74.5 65.4L73.2 65.7L72.3 64.8L72.7 64.2L72.5 63.0L71.9 63.9L67.9 65.0L63.4 59.1L57.6 57.6L49.8 57.2L41.9 58.2L35.4 59.8L24.4 59.5L18.6 58.8L14.7 56.2L10.1 58.6L7.5 59.4L-1.6 59.4L-1.6 -1.5L123.2 -1.5L123.2 55.6L118.7 55.6L112.8 54.3L111.8 55.7L111.2 59.6L108.8 62.2L107.6 64.8L104.4 66.8L86.8 66.8Z"/><path fill-rule="evenodd" fill="#f0de8c" d="M101.8 60.3L88.1 60.5L84.9 59.9L82.9 58.4L80.1 53.8L75.5 49.9L71.9 45.5L69.2 43.8L66.0 43.0L62.8 43.2L53.0 46.3L50.7 47.9L48.4 51.8L45.2 52.9L36.8 51.8L27.7 52.1L16.6 51.7L14.4 51.1L11.8 49.2L11.4 47.5L-1.6 47.4L-1.6 -1.5L53.7 -1.5L54.2 5.6L55.6 5.9L56.9 5.3L57.2 6.3L54.1 7.6L53.5 10.2L54.9 8.5L56.2 8.0L59.5 7.9L59.8 6.9L58.5 5.6L58.9 5.3L60.8 5.8L62.1 7.1L65.4 7.0L66.0 7.7L67.3 7.7L67.9 7.1L69.9 7.1L71.0 8.2L69.9 10.0L68.4 10.9L68.4 12.8L67.1 14.1L67.1 14.8L72.5 18.9L75.8 20.2L78.4 22.1L80.3 22.0L82.4 19.3L82.4 17.4L83.1 16.7L83.1 8.9L85.5 3.9L87.9 8.2L87.9 10.9L88.6 11.5L88.6 12.8L90.1 13.6L91.4 13.6L92.5 14.8L92.5 19.3L94.4 22.5L94.4 25.1L101.6 29.7L102.9 33.0L106.1 35.5L106.1 37.5L106.9 37.7L111.5 42.1L123.2 42.4L123.2 46.4L112.8 46.6L112.5 47.9L113.0 48.6L112.2 50.1L106.9 53.4L103.9 58.9ZM70.6 13.3L69.4 12.8L69.9 11.7L71.0 12.8ZM77.7 19.8L76.6 19.3L77.7 18.8L78.2 19.3ZM6.2 55.2L2.9 55.5L-1.6 54.1L-1.6 51.3L2.9 50.0L6.2 50.3L7.3 51.1L7.9 52.4L7.5 54.1Z"/><path fill-rule="evenodd" fill="#eecc6c" d="M44.6 44.7L30.9 43.7L19.2 44.8L14.7 44.7L11.2 42.7L9.4 38.8L-1.6 38.8L-1.6 34.3L5.6 34.5L12.1 33.6L13.4 32.4L15.3 31.9L17.9 30.1L21.2 30.2L21.8 29.4L23.8 29.1L24.9 26.5L26.4 25.4L31.6 24.6L33.3 21.9L33.3 20.6L34.8 19.0L36.1 20.9L36.4 19.3L38.2 18.0L38.2 17.4L41.1 14.1L41.1 -1.5L45.0 -1.5L45.0 12.1L45.9 12.3L48.4 16.3L49.8 16.7L53.0 19.5L55.6 20.3L62.1 20.6L64.1 21.3L65.9 23.9L66.5 27.8L65.8 33.0L63.9 35.5L55.9 41.4Z"/><path fill-rule="evenodd" fill="#ecb75a" d="M32.9 36.9L30.2 37.1L28.3 36.6L26.9 35.5L26.2 33.6L26.5 31.6L27.3 30.4L31.6 28.3L34.2 29.0L35.3 31.6L35.0 34.9Z"/>
</g>
<use href="#coast" fill="none" stroke="#000" stroke-width="0.75"/>
<use href="#isl" clip-path="url(#pclip)" fill="none" stroke="#111" stroke-width="0.65"/>
<use href="#bord" fill="none" stroke="#333" stroke-width="0.5"/>
<text x="2.60" y="9.50" text-anchor="start" textLength="8.96" lengthAdjust="spacingAndGlyphs" font-family="Liberation Sans, sans-serif" font-weight="bold" font-size="9.4" fill="#000" stroke="#000" stroke-width="0.2" >m</text>
<path d="M10.5 81.3H76.3M10.5 78.7V83.89999999999999M76.3 78.7V83.89999999999999" stroke="#2a2a2a" stroke-width="1" fill="none"/>
<circle cx="45.6" cy="81.3" r="2.2" fill="#0000ff"/>
<text x="45.55" y="77.00" text-anchor="middle" textLength="14.81" lengthAdjust="spacingAndGlyphs" font-family="Liberation Sans, sans-serif" font-weight="bold" font-size="6.3" fill="#111" stroke="#111" stroke-width="0.2" >1.45</text>
<text x="10.50" y="90.70" text-anchor="middle" textLength="14.81" lengthAdjust="spacingAndGlyphs" font-family="Liberation Sans, sans-serif" font-weight="bold" font-size="6.3" fill="#111" stroke="#111" stroke-width="0.2" >0.88</text>
<text x="76.30" y="90.70" text-anchor="middle" textLength="14.81" lengthAdjust="spacingAndGlyphs" font-family="Liberation Sans, sans-serif" font-weight="bold" font-size="6.3" fill="#111" stroke="#111" stroke-width="0.2" >1.95</text>
</g>
<g transform="translate(425,230)">
<rect x="0.5" y="0.5" width="120" height="92" fill="#f8f8f8" stroke="#6a6a6a" stroke-width="1"/>
<g clip-path="url(#aus)">
<rect x="0" y="0" width="120" height="92" fill="#f8fddc"/><path fill-rule="evenodd" fill="#f3fabf" d="M97.2 74.6L95.2 75.1L90.7 74.4L88.1 75.1L84.2 74.1L82.4 72.6L79.0 68.1L76.4 66.9L75.1 65.6L72.5 65.4L72.5 63.4L70.6 64.4L67.9 64.7L63.4 59.0L57.6 57.8L50.4 58.0L45.9 59.0L31.6 59.2L28.9 60.7L23.9 65.4L21.2 66.7L19.2 66.8L14.0 64.8L14.0 63.9L14.7 63.9L15.5 62.9L15.5 57.6L14.7 56.8L14.2 60.9L12.4 62.2L6.9 63.1L-1.6 63.1L-1.6 -1.5L123.2 -1.5L123.2 55.5L118.7 55.5L112.8 54.6L111.8 55.7L110.9 59.6L108.6 62.2L108.2 64.8L107.6 65.4L110.2 65.3L112.2 65.9L113.0 67.4L112.5 68.7L110.2 69.8L105.7 70.0L105.2 71.9L103.7 73.5ZM121.9 79.1L119.3 79.2L117.4 78.0L116.6 75.8L117.4 73.6L119.3 72.9L123.2 73.1L123.2 78.9Z"/><path fill-rule="evenodd" fill="#f2f3a3" d="M101.1 59.7L96.6 60.2L92.7 59.1L90.9 57.6L88.2 53.1L86.8 51.8L84.9 51.2L77.1 50.7L74.9 49.2L70.6 44.1L67.3 42.6L59.5 43.4L51.1 43.2L47.2 43.8L43.9 45.9L40.7 51.4L37.4 52.7L16.6 51.6L13.4 50.4L11.8 49.2L11.6 47.3L8.3 44.0L8.8 42.2L10.1 44.1L10.8 44.0L9.6 42.7L10.2 42.1L10.3 40.8L9.6 40.1L9.6 37.5L10.3 36.9L10.9 34.2L11.4 33.8L12.1 34.5L13.4 32.5L15.3 31.8L17.9 29.8L21.2 29.8L21.8 29.2L23.8 29.2L25.7 28.0L28.9 27.4L31.4 24.5L32.1 21.2L32.3 18.6L31.6 17.0L25.7 14.4L24.2 12.8L23.4 8.2L23.5 -1.5L70.5 -1.5L69.1 2.4L68.6 5.6L68.8 6.9L70.8 8.2L70.6 9.5L73.2 10.0L80.3 9.3L81.6 9.7L82.9 11.3L83.7 6.9L85.5 3.8L87.9 8.2L87.7 10.9L88.3 11.5L88.1 12.8L92.2 14.8L92.7 17.6L95.2 17.4L97.2 18.3L101.0 24.5L107.5 29.7L108.2 32.3L108.4 38.8L112.0 42.7L112.8 44.5L118.7 41.7L123.2 41.8L123.2 46.4L112.8 46.0L112.5 47.9L113.0 48.6L112.2 50.3L106.9 53.4L103.4 58.3ZM80.3 -0.8L79.0 -0.7L77.5 -1.5L80.8 -1.5ZM5.6 55.7L3.6 56.1L1.0 55.1L-0.6 53.1L-0.2 51.1L2.9 49.7L6.2 50.1L7.1 51.1L7.2 53.1L6.8 54.4Z"/><path fill-rule="evenodd" fill="#f0de8c" d="M82.9 45.3L80.3 45.5L78.0 44.6L72.5 38.6L69.2 36.8L66.0 36.4L57.6 37.2L53.0 36.3L51.4 34.9L49.1 29.4L47.2 27.9L45.2 27.7L38.7 28.5L36.8 28.1L35.5 27.1L34.9 25.1L35.1 23.2L36.7 21.2L39.0 16.0L39.0 -1.5L54.1 -1.5L54.0 5.6L55.6 5.9L56.9 5.3L57.3 5.6L56.9 6.6L54.0 7.6L54.1 9.5L56.2 7.9L59.5 7.8L59.7 6.9L58.4 5.6L59.5 5.1L62.1 7.2L64.8 8.2L66.4 10.2L67.0 12.1L66.7 14.8L70.6 17.4L74.4 16.8L76.4 17.3L78.3 19.3L77.9 21.2L78.4 22.0L80.3 22.2L82.9 20.6L84.9 20.2L90.7 21.1L93.3 22.9L94.4 25.1L100.4 29.9L104.5 36.2L105.0 40.8L104.0 42.7L100.4 43.8L90.7 43.3ZM32.9 7.6L31.6 7.4L30.7 5.6L31.1 3.7L32.2 2.7L33.5 3.1L34.4 5.0L34.2 6.6Z"/><path fill-rule="evenodd" fill="#eecc6c" d="M47.2 21.4L43.2 21.6L41.9 20.6L41.5 18.6L41.8 16.7L43.9 12.8L45.9 12.3L47.5 14.1L48.4 16.1L50.1 16.7L50.0 19.3ZM96.6 37.6L92.1 36.9L89.8 34.9L88.8 30.4L89.2 28.4L90.1 27.5L92.0 27.2L94.6 28.4L98.0 31.6L99.1 35.5L98.5 36.9Z"/>
</g>
<use href="#coast" fill="none" stroke="#000" stroke-width="0.75"/>
<use href="#isl" clip-path="url(#pclip)" fill="none" stroke="#111" stroke-width="0.65"/>
<use href="#bord" fill="none" stroke="#333" stroke-width="0.5"/>
<text x="2.60" y="9.50" text-anchor="start" textLength="6.12" lengthAdjust="spacingAndGlyphs" font-family="Liberation Sans, sans-serif" font-weight="bold" font-size="9.4" fill="#000" stroke="#000" stroke-width="0.2" >n</text>
<path d="M10.5 81.3H76.3M10.5 78.7V83.89999999999999M76.3 78.7V83.89999999999999" stroke="#2a2a2a" stroke-width="1" fill="none"/>
<circle cx="42.2" cy="81.3" r="2.2" fill="#0000ff"/>
<text x="42.25" y="77.00" text-anchor="middle" textLength="14.81" lengthAdjust="spacingAndGlyphs" font-family="Liberation Sans, sans-serif" font-weight="bold" font-size="6.3" fill="#111" stroke="#111" stroke-width="0.2" >1.20</text>
<text x="10.50" y="90.70" text-anchor="middle" textLength="14.81" lengthAdjust="spacingAndGlyphs" font-family="Liberation Sans, sans-serif" font-weight="bold" font-size="6.3" fill="#111" stroke="#111" stroke-width="0.2" >0.65</text>
<text x="76.30" y="90.70" text-anchor="middle" textLength="14.81" lengthAdjust="spacingAndGlyphs" font-family="Liberation Sans, sans-serif" font-weight="bold" font-size="6.3" fill="#111" stroke="#111" stroke-width="0.2" >1.79</text>
</g>
<g transform="translate(555,230)">
<rect x="0.5" y="0.5" width="120" height="92" fill="#f8f8f8" stroke="#6a6a6a" stroke-width="1"/>
<g clip-path="url(#aus)">
<rect x="0" y="0" width="120" height="92" fill="#f8fddc"/><path fill-rule="evenodd" fill="#f3fabf" d="M95.2 78.3L93.9 77.1L92.0 77.0L90.7 75.7L88.1 77.6L85.5 76.1L82.9 76.0L80.3 74.7L78.1 72.6L77.8 71.3L77.1 70.8L74.4 69.9L70.6 70.4L70.2 70.0L70.6 69.0L73.1 68.7L72.7 68.1L70.8 67.4L71.4 66.8L71.1 64.8L69.9 64.6L68.6 66.3L67.3 66.3L65.4 63.4L62.8 63.1L57.6 60.5L53.7 59.4L50.4 59.2L41.9 60.8L38.3 62.9L36.8 64.7L27.0 64.5L21.8 67.7L18.6 67.7L15.3 65.7L14.0 65.7L13.6 64.2L14.7 63.6L14.7 63.0L-1.6 63.4L-1.6 -1.5L123.2 -1.5L123.2 70.8L105.7 70.8L104.4 74.3L103.1 75.1L99.2 75.1ZM36.1 82.6L34.8 82.6L33.5 81.2L32.3 75.8L33.2 71.9L35.4 70.1L36.9 71.3L37.7 74.6L37.4 79.8ZM66.7 74.8L64.7 74.8L63.8 73.9L63.8 71.9L64.7 70.9L66.7 71.3L67.7 72.6L67.7 73.9ZM58.2 84.5L55.6 84.7L54.6 83.7L54.4 82.3L55.6 79.4L58.2 78.2L59.5 78.5L60.3 80.4L59.7 83.0ZM83.6 93.4L80.2 93.4L80.0 84.3L80.4 83.0L81.6 82.2L83.1 82.3L83.9 83.7L83.9 93.4ZM48.4 93.4L43.5 93.4L42.2 91.4L42.2 89.5L45.2 88.3L49.2 88.8L50.0 90.8Z"/><path fill-rule="evenodd" fill="#f2f3a3" d="M83.6 68.1L80.3 68.2L77.1 66.9L74.5 63.5L74.2 60.9L73.2 60.2L66.0 59.8L57.6 57.6L50.4 57.2L35.4 59.5L25.1 59.4L19.2 58.8L14.0 56.2L10.6 58.3L7.5 59.3L-1.6 59.3L-1.6 -1.5L70.5 -1.5L68.9 3.1L68.6 5.6L68.7 6.9L70.8 8.2L70.6 9.5L73.2 10.0L80.3 9.3L81.6 9.7L82.9 11.0L83.7 6.9L85.5 3.8L87.9 8.2L87.6 10.9L88.5 13.5L91.9 14.8L92.7 16.8L99.2 17.6L101.3 16.7L103.8 12.1L108.3 9.5L109.9 7.6L110.2 3.9L108.4 -1.5L123.2 -1.5L123.2 46.8L118.7 46.7L116.1 48.4L111.8 55.7L111.3 59.6L108.8 62.2L107.6 64.8L106.0 66.1L103.1 67.0L93.9 66.6ZM80.3 -0.8L78.4 -0.8L77.5 -1.5L80.9 -1.5ZM98.5 7.0L95.1 6.9L93.8 6.3L93.3 5.0L95.2 3.6L97.9 3.2L99.3 5.0L99.2 6.3ZM123.2 62.4L116.4 62.2L114.5 61.6L114.2 60.9L115.2 58.9L117.4 57.1L119.9 56.5L123.2 56.7Z"/><path fill-rule="evenodd" fill="#f0de8c" d="M99.2 60.9L95.2 60.8L92.0 59.7L90.7 58.3L88.6 53.8L86.8 52.1L84.2 51.6L78.4 51.7L76.4 51.1L74.9 49.9L71.9 45.2L67.9 43.4L50.4 42.6L46.5 43.0L43.9 44.8L41.3 51.3L39.4 52.4L35.4 52.7L15.3 52.0L12.6 50.5L11.7 49.2L11.6 47.3L8.4 44.0L8.4 42.7L8.8 42.3L10.1 44.2L10.9 44.0L9.7 42.7L10.3 42.1L10.3 40.8L9.6 40.1L9.6 37.5L11.4 33.8L12.1 34.4L13.4 32.5L15.3 31.8L17.9 29.9L21.2 29.9L21.8 29.2L23.8 29.2L25.7 27.9L28.9 27.2L31.7 24.5L33.7 20.0L34.8 18.8L36.1 20.8L36.3 19.3L37.4 18.8L41.9 13.6L42.6 13.6L43.9 12.3L45.9 12.3L48.4 15.5L49.1 14.9L51.1 14.9L51.7 15.6L51.2 13.5L51.8 12.1L54.4 9.5L54.9 8.4L56.8 7.6L56.8 6.9L55.6 7.5L52.6 6.9L53.0 5.9L55.6 5.7L56.8 5.0L56.6 -1.5L60.6 -1.5L60.4 5.6L62.1 7.2L64.6 8.2L66.3 10.2L66.9 12.1L66.7 14.8L67.9 15.9L70.6 17.4L74.4 16.7L76.4 17.2L78.2 19.3L77.7 21.2L78.4 22.1L80.3 22.4L84.9 20.4L90.7 19.5L97.2 22.1L107.2 28.4L108.3 31.6L108.4 38.8L111.7 42.7L112.1 44.0L111.2 49.2L110.2 50.9L106.0 54.4L103.1 59.6ZM120.6 11.6L118.7 10.9L118.0 8.9L118.2 -1.5L123.2 -1.5L123.2 10.2ZM112.8 23.4L110.2 23.1L108.9 20.6L109.6 17.9L112.2 16.4L114.1 16.8L115.1 18.6L114.6 21.9ZM123.2 39.1L119.9 39.3L117.4 38.8L116.3 37.5L116.7 35.1L119.3 33.4L123.2 33.7ZM6.9 55.1L3.6 55.6L-1.6 54.6L-1.6 49.1L4.9 48.7L8.2 49.4L9.0 50.5L9.0 52.4Z"/><path fill-rule="evenodd" fill="#eecc6c" d="M100.4 44.0L93.3 43.9L91.4 43.0L90.0 41.4L89.6 33.6L87.9 27.1L88.8 24.5L90.3 23.2L92.0 22.9L93.3 23.4L95.2 26.0L99.2 28.6L101.5 31.0L104.4 35.8L104.9 40.8L104.6 42.1L103.2 43.4ZM60.2 37.5L49.1 37.6L45.9 37.1L43.2 34.9L42.7 33.0L43.0 31.0L44.6 28.9L47.8 27.8L59.5 27.7L62.8 28.3L64.7 29.7L65.5 31.0L65.9 33.0L65.7 34.9L63.7 36.9Z"/>
</g>
<use href="#coast" fill="none" stroke="#000" stroke-width="0.75"/>
<use href="#isl" clip-path="url(#pclip)" fill="none" stroke="#111" stroke-width="0.65"/>
<use href="#bord" fill="none" stroke="#333" stroke-width="0.5"/>
<text x="2.60" y="9.50" text-anchor="start" textLength="5.91" lengthAdjust="spacingAndGlyphs" font-family="Liberation Sans, sans-serif" font-weight="bold" font-size="9.4" fill="#000" stroke="#000" stroke-width="0.2" >o</text>
<path d="M10.5 81.3H76.3M10.5 78.7V83.89999999999999M76.3 78.7V83.89999999999999" stroke="#2a2a2a" stroke-width="1" fill="none"/>
<circle cx="49.2" cy="81.3" r="2.2" fill="#0000ff"/>
<text x="49.21" y="77.00" text-anchor="middle" textLength="14.81" lengthAdjust="spacingAndGlyphs" font-family="Liberation Sans, sans-serif" font-weight="bold" font-size="6.3" fill="#111" stroke="#111" stroke-width="0.2" >1.36</text>
<text x="10.50" y="90.70" text-anchor="middle" textLength="14.81" lengthAdjust="spacingAndGlyphs" font-family="Liberation Sans, sans-serif" font-weight="bold" font-size="6.3" fill="#111" stroke="#111" stroke-width="0.2" >0.76</text>
<text x="76.30" y="90.70" text-anchor="middle" textLength="14.81" lengthAdjust="spacingAndGlyphs" font-family="Liberation Sans, sans-serif" font-weight="bold" font-size="6.3" fill="#111" stroke="#111" stroke-width="0.2" >1.78</text>
</g>
<g transform="translate(35,339)">
<rect x="0.5" y="0.5" width="120" height="92" fill="#f8f8f8" stroke="#6a6a6a" stroke-width="1"/>
<g clip-path="url(#aus)">
<rect x="0" y="0" width="120" height="92" fill="#eea44c"/><path fill-rule="evenodd" fill="#ee903e" d="M98.5 93.4L-1.6 93.4L-1.6 -1.5L123.2 -1.5L123.2 86.9L101.8 86.7L99.9 87.6L98.8 88.8L98.5 90.8L99.0 93.4ZM46.5 78.4L49.1 73.9L54.3 71.3L56.0 69.3L56.2 66.1L54.3 63.8L51.7 63.1L48.4 63.3L44.9 64.2L42.9 65.4L43.0 67.4L45.4 70.7L46.1 72.6L44.5 77.8L45.2 78.7Z"/><path fill-rule="evenodd" fill="#f16a38" d="M92.0 93.4L38.9 93.4L39.0 88.2L39.8 85.6L48.4 82.2L52.5 76.5L57.2 73.2L58.6 71.3L58.8 67.4L57.1 63.5L54.3 61.9L50.4 61.4L41.9 62.3L39.4 63.3L37.7 64.8L36.3 69.3L36.6 70.7L38.4 73.2L38.5 75.2L37.4 80.6L36.8 81.9L35.4 82.9L32.9 83.1L31.8 81.7L33.9 74.6L33.5 72.3L31.6 71.3L25.7 69.9L23.8 69.9L23.1 70.5L22.5 73.9L22.7 93.4L-1.6 93.4L-1.6 -1.5L123.2 -1.5L123.2 84.2L115.4 84.0L106.3 82.3L100.4 82.7L99.7 84.3L95.9 87.6L92.7 88.2L92.6 93.4Z"/><path fill-rule="evenodd" fill="#e8553a" d="M76.4 93.4L62.4 93.4L62.2 81.7L63.1 77.2L63.0 73.9L60.0 64.2L58.6 62.2L56.3 60.9L50.4 60.1L41.9 60.6L38.7 61.6L32.9 65.7L30.2 66.5L25.7 65.2L17.9 65.6L14.7 65.3L14.0 65.1L13.4 63.7L-1.6 63.7L-1.6 -1.5L123.2 -1.5L123.2 81.9L116.1 81.6L106.9 78.3L96.6 78.9L87.4 77.8L85.3 79.1L82.5 84.3L78.5 86.2L77.2 87.6L76.5 89.5ZM13.4 93.4L9.5 93.4L9.6 88.2L11.2 82.3L10.2 79.8L7.5 77.1L4.9 75.8L2.9 75.8L-1.6 77.2L-1.6 72.6L4.2 73.6L12.1 71.2L13.4 71.4L14.7 72.6L14.9 75.8L12.9 81.7L14.0 89.5L13.9 93.4ZM54.9 85.0L54.0 84.9L53.6 84.3L54.6 80.4L56.2 78.9L58.9 79.1L60.0 80.4L59.5 82.3L57.6 84.0ZM52.4 93.4L45.8 93.4L45.2 90.2L45.9 88.5L48.4 87.0L52.4 86.5L52.9 90.2L52.9 93.4Z"/><path fill-rule="evenodd" fill="#e04242" d="M95.2 75.3L90.7 74.0L80.3 74.6L77.9 72.6L77.8 71.3L77.1 70.8L73.2 71.6L69.2 70.5L64.8 67.4L60.7 60.9L56.2 59.2L50.4 58.8L41.3 59.6L37.4 60.7L32.9 63.5L30.2 64.0L17.2 61.5L15.3 60.5L7.5 61.3L-1.6 61.3L-1.6 -1.5L123.2 -1.5L123.2 70.1L105.7 70.8L105.3 71.9L103.7 73.6L99.2 74.1ZM123.2 78.7L119.3 78.9L116.7 78.1L115.1 76.5L115.2 73.9L116.1 72.9L118.0 72.2L123.2 72.1ZM72.5 81.9L71.2 81.8L70.9 81.1L71.2 77.8L73.2 74.6L75.1 74.2L76.8 75.8L77.0 77.8L75.8 79.9Z"/><path fill-rule="evenodd" fill="#c92a55" d="M103.1 67.5L88.8 67.8L80.9 67.3L77.1 66.7L75.1 65.3L73.2 65.4L72.5 64.8L72.9 64.2L72.5 62.8L71.9 63.8L67.9 65.5L63.4 59.1L57.6 57.9L40.7 58.3L36.8 59.2L30.2 61.7L22.4 59.7L17.2 59.1L15.3 58.2L7.5 59.5L-1.6 59.5L-1.6 -1.5L123.2 -1.5L123.2 63.1L108.9 63.0L106.1 66.1Z"/><path fill-rule="evenodd" fill="#b82a50" d="M80.3 60.3L77.7 60.2L75.8 59.2L73.8 57.1L71.2 51.8L69.6 50.5L67.3 49.9L62.1 51.1L59.1 55.1L54.9 56.4L40.0 56.7L29.6 58.1L17.9 56.7L14.0 55.8L7.5 57.7L-1.6 57.7L-1.6 -1.5L85.7 -1.5L84.5 5.0L85.0 5.0L85.5 4.0L87.6 8.2L88.1 10.9L90.9 12.8L92.5 14.8L92.7 15.9L93.9 17.8L96.6 18.9L98.5 18.6L100.4 17.5L104.2 12.1L109.6 8.2L110.3 4.3L108.5 -1.5L123.2 -1.5L123.2 46.7L119.3 46.5L117.3 47.3L115.9 49.2L115.0 53.8L112.8 54.9L111.5 57.1L108.9 59.1L104.4 60.0L88.1 59.5ZM99.2 7.7L96.6 8.2L94.9 6.9L94.7 4.3L95.9 2.2L97.9 1.9L99.4 3.1L100.1 5.6Z"/><path fill-rule="evenodd" fill="#c02a72" d="M51.7 53.8L48.4 54.2L40.7 54.0L30.9 52.5L23.8 53.2L16.6 53.1L15.3 52.7L12.4 50.5L11.6 49.2L11.4 47.5L-1.6 47.2L-1.6 -1.5L70.6 -1.5L68.6 3.7L68.6 6.9L69.9 7.2L70.9 8.2L70.6 9.4L74.4 11.0L77.1 16.2L79.0 17.2L82.2 17.0L83.0 16.7L84.2 14.4L85.5 13.6L89.4 16.3L94.5 25.1L99.2 27.1L100.4 29.2L101.5 29.7L102.9 33.0L106.9 35.8L108.2 38.8L111.6 42.7L111.5 49.2L110.3 51.8L107.6 52.7L99.2 51.4L86.8 51.6L80.3 52.4L78.4 51.8L73.7 47.9L70.6 46.3L55.6 45.4L52.9 45.9L51.1 47.5L50.9 49.2L52.6 52.4ZM120.6 11.5L118.8 10.9L118.0 8.9L118.2 -1.5L123.2 -1.5L123.2 10.2ZM112.2 21.9L109.4 21.9L108.7 21.2L108.7 20.0L110.2 17.4L112.8 16.6L114.2 17.4L114.6 19.3L113.5 21.2ZM123.2 39.1L117.3 38.8L115.7 37.5L115.6 35.5L118.0 34.4L123.2 34.3ZM6.9 55.1L3.6 55.4L-1.6 54.9L-1.6 48.7L4.9 48.2L8.8 49.3L10.1 50.9L10.1 52.4L8.8 54.2Z"/><path fill-rule="evenodd" fill="#be2c8a" d="M103.7 44.7L99.8 45.1L90.1 44.2L80.3 45.0L70.6 42.5L54.9 42.1L43.9 43.5L24.4 43.5L15.3 44.5L11.4 42.7L10.6 40.8L9.7 40.1L9.4 38.7L-1.6 38.9L-1.6 34.3L4.9 33.3L10.1 35.7L11.4 33.8L12.1 34.4L13.4 32.7L15.3 31.8L15.8 31.0L15.8 21.2L16.6 19.2L18.6 17.8L23.8 17.2L27.0 17.7L29.5 23.2L31.6 24.2L33.0 21.9L33.1 20.6L34.8 18.9L35.9 19.3L37.5 18.0L39.4 15.4L39.6 12.8L38.7 5.6L39.1 -1.5L53.8 -1.5L54.5 5.6L55.6 5.8L56.9 5.2L57.4 6.3L54.3 7.6L53.6 10.2L54.5 9.5L54.4 8.9L56.2 7.8L59.5 7.7L59.6 6.9L58.3 5.6L59.5 5.1L62.1 7.2L64.7 8.2L66.4 10.2L67.2 12.1L67.0 14.8L76.4 22.0L78.4 22.7L80.3 22.6L84.2 20.2L86.2 20.3L91.5 26.5L95.7 29.7L99.2 34.1L103.3 37.5L105.4 42.1L105.0 43.7Z"/><path fill-rule="evenodd" fill="#992472" d="M45.9 36.9L37.4 36.8L28.3 37.4L23.8 37.0L20.5 35.5L19.6 34.2L19.4 32.3L20.1 31.0L22.4 29.0L22.4 27.1L23.1 26.5L25.1 28.0L27.0 28.2L30.2 28.3L33.2 27.1L35.7 23.9L40.5 19.3L44.0 13.5L45.9 12.5L48.4 16.0L49.8 16.1L56.7 21.2L57.6 22.5L58.0 24.5L56.7 27.1L51.7 30.4L49.0 35.5Z"/>
</g>
<use href="#coast" fill="none" stroke="#000" stroke-width="0.75"/>
<use href="#isl" clip-path="url(#pclip)" fill="none" stroke="#111" stroke-width="0.65"/>
<use href="#bord" fill="none" stroke="#333" stroke-width="0.5"/>
<text x="2.60" y="9.50" text-anchor="start" textLength="6.16" lengthAdjust="spacingAndGlyphs" font-family="Liberation Sans, sans-serif" font-weight="bold" font-size="9.4" fill="#000" stroke="#000" stroke-width="0.2" >p</text>
<path d="M10.5 81.3H76.3M10.5 78.7V83.89999999999999M76.3 78.7V83.89999999999999" stroke="#2a2a2a" stroke-width="1" fill="none"/>
<circle cx="49.3" cy="81.3" r="2.2" fill="#0000ff"/>
<text x="49.29" y="77.00" text-anchor="middle" textLength="14.81" lengthAdjust="spacingAndGlyphs" font-family="Liberation Sans, sans-serif" font-weight="bold" font-size="6.3" fill="#111" stroke="#111" stroke-width="0.2" >3.29</text>
<text x="10.50" y="90.70" text-anchor="middle" textLength="14.81" lengthAdjust="spacingAndGlyphs" font-family="Liberation Sans, sans-serif" font-weight="bold" font-size="6.3" fill="#111" stroke="#111" stroke-width="0.2" >2.73</text>
<text x="76.30" y="90.70" text-anchor="middle" textLength="14.81" lengthAdjust="spacingAndGlyphs" font-family="Liberation Sans, sans-serif" font-weight="bold" font-size="6.3" fill="#111" stroke="#111" stroke-width="0.2" >3.68</text>
</g>
<g transform="translate(165,339)">
<rect x="0.5" y="0.5" width="120" height="92" fill="#f8f8f8" stroke="#6a6a6a" stroke-width="1"/>
<g clip-path="url(#aus)">
<rect x="0" y="0" width="120" height="92" fill="#eecc6c"/><path fill-rule="evenodd" fill="#ecb75a" d="M123.2 93.4L-1.6 93.4L-1.6 -1.5L123.2 -1.5ZM45.8 79.1L47.0 77.8L48.6 73.9L53.7 71.6L55.7 69.3L56.0 66.1L55.4 64.8L53.8 63.5L51.1 63.0L47.2 63.5L43.8 64.8L42.6 66.1L42.7 67.4L45.0 70.7L45.2 71.9L42.6 75.2L42.1 77.8L43.2 79.2Z"/><path fill-rule="evenodd" fill="#eea44c" d="M123.2 93.4L-1.6 93.4L-1.6 -1.5L123.2 -1.5ZM46.9 81.7L48.5 80.4L51.5 75.8L56.1 72.6L57.8 70.0L58.3 67.4L57.9 64.8L56.9 63.3L54.9 62.0L50.4 61.2L43.9 62.0L39.1 63.5L37.3 65.4L37.2 67.4L38.5 71.9L38.4 77.8L39.1 79.8L40.7 81.3L42.6 82.1L45.2 82.3Z"/><path fill-rule="evenodd" fill="#ee903e" d="M123.2 93.4L-1.6 93.4L-1.6 -1.5L123.2 -1.5ZM46.7 84.3L49.2 83.0L53.0 77.5L57.6 74.4L59.4 71.9L60.3 68.1L60.1 64.8L58.6 62.2L56.2 60.7L49.8 59.8L41.9 60.8L38.7 61.8L34.0 64.8L33.7 67.4L35.0 71.9L35.3 78.4L36.2 81.1L38.1 83.0L40.7 84.1L43.9 84.6Z"/><path fill-rule="evenodd" fill="#f16a38" d="M123.2 93.4L62.5 93.4L62.6 86.2L63.5 81.1L62.4 75.8L63.0 66.8L62.6 64.2L61.1 61.6L58.9 59.9L56.0 58.9L50.4 58.6L41.9 59.8L36.8 61.3L29.6 64.8L27.7 67.4L23.8 70.3L22.8 73.9L23.0 93.4L-1.6 93.4L-1.6 -1.5L123.2 -1.5ZM29.6 75.3L28.9 74.6L29.6 73.7ZM56.2 85.7L54.3 85.8L53.5 84.9L53.6 82.3L54.3 80.4L56.9 78.5L60.2 78.6L61.2 80.4L60.6 83.0L58.9 84.6ZM51.7 93.4L32.5 93.4L32.4 88.8L32.9 88.0L34.2 87.4L50.4 87.6L51.8 88.8Z"/><path fill-rule="evenodd" fill="#e8553a" d="M18.6 93.4L-1.6 93.4L-1.6 -1.5L123.2 -1.5L123.2 86.6L116.1 86.5L112.2 85.7L110.8 84.3L108.9 78.6L106.9 77.7L97.9 79.4L89.4 78.5L86.8 78.7L84.2 80.3L80.9 85.4L72.5 88.1L71.3 86.9L70.8 84.9L70.0 75.8L70.2 72.6L70.9 70.7L70.2 70.0L70.2 69.3L71.8 68.7L72.0 68.1L70.9 67.4L71.9 65.4L71.5 64.8L69.9 64.5L67.9 65.7L66.7 63.7L62.8 59.8L58.2 58.2L49.8 57.6L41.3 58.8L33.5 60.8L25.1 64.2L19.5 68.1L18.7 73.2L19.0 93.4ZM97.2 90.1L94.6 90.1L94.0 89.5L91.9 84.9L92.0 83.4L97.2 83.6L97.9 83.0L99.8 83.0L100.5 83.7L100.7 85.6L99.7 88.2ZM89.4 93.4L87.8 93.4L86.2 91.7L85.8 90.2L86.8 88.8L90.7 88.7L93.7 90.2L93.0 91.4Z"/><path fill-rule="evenodd" fill="#e04242" d="M95.2 76.5L90.7 75.4L88.1 76.1L82.2 75.8L78.4 76.8L77.7 76.5L77.8 71.3L76.0 67.4L75.9 65.4L73.8 61.1L68.6 61.0L63.4 57.9L58.9 56.6L47.8 56.4L31.6 59.2L22.4 61.8L17.9 65.4L15.9 66.1L15.3 65.7L14.0 65.9L13.4 64.0L-1.6 63.6L-1.6 -1.5L123.2 -1.5L123.2 71.5L110.2 71.0L106.3 72.4L103.1 74.7L99.2 75.1ZM14.7 63.5L15.3 62.3L14.2 63.5ZM14.0 93.4L8.5 93.4L8.8 81.1L6.9 74.6L8.2 71.9L12.7 68.3L14.0 69.5L14.6 73.2L14.4 93.4ZM-0.9 76.5L-1.6 76.8L-1.6 72.8L-0.4 73.2L0.3 74.6ZM121.2 79.1L119.2 79.1L118.6 78.4L118.7 77.5L119.9 76.7L121.8 77.2L122.7 77.8L122.6 78.4Z"/><path fill-rule="evenodd" fill="#c92a55" d="M98.5 73.3L87.4 73.6L82.2 72.7L80.8 70.7L80.1 62.2L78.4 59.4L75.8 58.1L69.2 57.5L64.1 54.9L61.4 54.2L47.8 54.5L38.1 56.6L24.4 57.6L18.6 57.3L14.7 56.3L11.4 59.1L8.8 60.3L4.9 60.8L-1.6 60.6L-1.6 -1.5L123.2 -1.5L123.2 67.1L112.8 67.1L108.2 67.8L106.1 68.7L102.4 72.5Z"/><path fill-rule="evenodd" fill="#b82a50" d="M101.8 68.2L99.8 68.2L98.7 67.4L96.3 62.2L93.0 58.9L91.4 58.5L85.5 58.6L79.0 54.5L71.2 53.3L66.7 50.9L64.1 50.3L54.9 51.2L47.8 50.7L41.3 53.8L37.4 54.7L14.7 53.7L13.4 53.1L9.7 57.0L7.5 58.2L4.2 58.7L-1.6 58.2L-1.6 -1.5L85.8 -1.5L85.1 3.7L87.4 8.2L87.9 10.9L92.5 14.8L92.7 15.9L93.9 17.8L96.6 18.9L98.5 18.6L100.4 17.5L104.2 12.1L109.6 8.2L110.3 4.3L108.5 -1.5L123.2 -1.5L123.2 46.8L118.7 46.8L116.1 48.4L112.5 53.8L112.4 55.1L111.7 55.7L111.4 59.6L110.8 60.3L110.9 60.8L111.5 60.7L117.4 56.4L123.2 56.2L123.2 62.8L116.1 62.6L110.9 61.2L108.9 62.3L107.6 64.6L105.8 66.1ZM98.5 8.5L95.9 8.7L94.4 6.9L94.6 2.9L95.2 1.6L96.6 0.7L98.5 1.2L100.0 3.7L100.0 6.9Z"/><path fill-rule="evenodd" fill="#c02a72" d="M103.7 60.3L101.8 60.3L99.8 59.1L93.9 52.4L91.4 51.7L85.5 51.8L77.1 50.1L74.5 48.6L71.8 44.6L69.2 43.7L61.4 44.3L54.9 44.1L48.4 45.3L44.6 46.7L39.9 50.5L36.8 51.5L28.3 50.1L14.7 50.3L11.9 49.2L11.5 47.3L10.8 46.8L4.9 47.7L-1.6 47.3L-1.6 -1.5L81.3 -1.5L81.3 9.5L80.3 13.0L78.1 16.0L78.4 17.3L79.7 17.5L82.9 16.8L83.7 14.8L84.9 13.6L86.2 13.9L88.3 15.4L89.7 16.7L94.5 25.1L99.1 27.1L100.4 29.2L101.4 29.7L102.9 33.0L106.8 35.5L108.2 38.8L111.6 42.7L112.0 44.6L110.9 49.9L106.9 53.8L105.1 58.9ZM120.6 11.5L118.8 10.9L118.0 8.9L118.2 -1.5L123.2 -1.5L123.2 10.2ZM112.2 21.9L109.4 21.9L108.8 21.2L108.7 20.0L110.2 17.4L112.8 16.6L114.2 17.4L114.6 19.3L114.1 20.6ZM123.2 39.0L117.5 38.8L116.1 37.5L116.0 35.5L118.0 34.5L123.2 34.5ZM5.6 55.8L2.3 55.8L-1.6 54.6L-1.6 49.7L4.2 48.6L7.5 49.7L8.3 51.1L8.2 53.1L7.0 55.1Z"/><path fill-rule="evenodd" fill="#be2c8a" d="M32.9 44.7L25.7 45.2L22.4 44.8L20.6 43.4L19.3 39.5L17.9 37.5L15.3 36.4L12.7 37.0L11.4 36.6L11.1 35.5L12.7 35.2L12.6 33.6L13.4 32.6L14.0 32.7L16.0 31.0L12.7 29.7L13.2 27.8L15.3 26.7L18.6 26.4L20.1 27.8L20.2 29.7L21.2 29.8L21.8 29.2L23.8 29.3L25.7 28.2L28.9 27.6L31.3 24.5L31.9 20.6L33.5 18.4L38.1 17.2L43.9 12.6L45.9 12.6L48.4 15.7L49.1 15.1L51.1 15.1L51.7 15.7L52.1 15.4L51.5 14.8L51.6 13.5L54.9 8.4L56.2 7.7L59.6 7.6L59.6 6.9L58.3 5.6L58.9 5.1L60.8 5.8L62.1 7.1L65.4 7.3L66.0 7.9L69.9 7.1L70.8 7.6L70.8 3.1L71.5 -1.5L75.8 -1.5L77.6 3.7L77.7 6.6L77.1 8.3L75.1 9.8L72.5 10.0L70.5 8.9L70.4 9.5L68.4 10.9L68.5 12.8L67.9 14.1L68.3 15.4L73.2 20.4L77.7 22.7L80.3 22.7L84.9 20.1L86.7 20.6L91.5 26.5L95.7 29.7L98.7 33.6L103.1 37.0L105.3 41.4L104.8 43.4L102.4 44.4L85.5 44.4L82.8 43.4L80.8 38.1L78.4 36.0L75.1 35.7L66.0 37.1L56.9 35.3L54.3 36.1L50.4 40.0L47.8 41.5L36.8 44.2ZM55.6 7.5L53.0 7.5L52.4 6.3L53.0 5.7L55.6 5.7L56.9 5.1L57.5 6.3ZM70.6 13.2L69.4 12.8L69.9 11.7L70.9 12.8ZM5.6 40.2L2.3 40.2L-1.6 38.2L-1.6 34.6L2.9 33.4L6.9 33.9L7.8 35.5L7.7 37.5L6.9 39.3ZM11.4 34.7L11.4 34.1Z"/><path fill-rule="evenodd" fill="#992472" d="M45.2 37.6L42.6 37.8L40.0 37.2L35.8 34.2L34.5 31.6L34.1 29.0L35.1 23.9L38.7 21.0L40.7 20.4L52.4 19.7L55.6 20.4L57.9 23.2L58.1 25.1L57.5 27.1L56.2 28.4L51.1 31.5L47.4 36.2Z"/>
</g>
<use href="#coast" fill="none" stroke="#000" stroke-width="0.75"/>
<use href="#isl" clip-path="url(#pclip)" fill="none" stroke="#111" stroke-width="0.65"/>
<use href="#bord" fill="none" stroke="#333" stroke-width="0.5"/>
<text x="2.60" y="9.50" text-anchor="start" textLength="6.16" lengthAdjust="spacingAndGlyphs" font-family="Liberation Sans, sans-serif" font-weight="bold" font-size="9.4" fill="#000" stroke="#000" stroke-width="0.2" >q</text>
<path d="M10.5 81.3H76.3M10.5 78.7V83.89999999999999M76.3 78.7V83.89999999999999" stroke="#2a2a2a" stroke-width="1" fill="none"/>
<circle cx="48.5" cy="81.3" r="2.2" fill="#0000ff"/>
<text x="48.49" y="77.00" text-anchor="middle" textLength="14.81" lengthAdjust="spacingAndGlyphs" font-family="Liberation Sans, sans-serif" font-weight="bold" font-size="6.3" fill="#111" stroke="#111" stroke-width="0.2" >3.25</text>
<text x="10.50" y="90.70" text-anchor="middle" textLength="14.81" lengthAdjust="spacingAndGlyphs" font-family="Liberation Sans, sans-serif" font-weight="bold" font-size="6.3" fill="#111" stroke="#111" stroke-width="0.2" >2.69</text>
<text x="76.30" y="90.70" text-anchor="middle" textLength="14.81" lengthAdjust="spacingAndGlyphs" font-family="Liberation Sans, sans-serif" font-weight="bold" font-size="6.3" fill="#111" stroke="#111" stroke-width="0.2" >3.66</text>
</g>
<g transform="translate(295,339)">
<rect x="0.5" y="0.5" width="120" height="92" fill="#f8f8f8" stroke="#6a6a6a" stroke-width="1"/>
<g clip-path="url(#aus)">
<rect x="0" y="0" width="120" height="92" fill="#ecb75a"/><path fill-rule="evenodd" fill="#eea44c" d="M123.2 93.4L-1.6 93.4L-1.6 -1.5L123.2 -1.5ZM46.6 78.4L49.1 74.1L54.2 71.3L56.0 69.3L56.5 66.1L54.9 64.1L52.4 63.2L49.1 63.1L45.9 64.0L44.0 65.4L43.8 67.4L45.8 71.9L45.5 73.2L43.9 75.9L43.7 77.8L45.2 79.0Z"/><path fill-rule="evenodd" fill="#ee903e" d="M100.4 93.4L-1.6 93.4L-1.6 -1.5L123.2 -1.5L123.2 86.5L114.8 86.5L112.2 85.8L109.6 79.8L107.6 78.1L101.1 78.4L96.6 77.4L95.2 78.3L94.0 77.8L93.5 79.1L94.3 80.4L97.6 82.3L99.8 82.6L100.8 83.7L100.9 85.6L100.4 86.2L101.0 91.4L100.9 93.4ZM47.2 83.0L49.1 81.7L52.4 76.8L56.9 73.1L59.0 70.0L59.7 67.4L59.5 65.4L58.4 63.5L56.4 62.2L51.7 61.1L45.2 61.4L39.4 63.2L36.8 65.4L36.7 67.4L38.3 71.9L38.2 77.8L39.1 80.4L40.7 82.0L42.6 83.0L45.2 83.4Z"/><path fill-rule="evenodd" fill="#f16a38" d="M86.2 76.6L85.5 76.1L82.9 76.4L80.3 74.9L78.0 72.6L77.8 71.3L77.1 70.6L73.8 70.2L69.9 70.8L66.0 74.9L63.4 75.4L62.7 73.9L63.6 66.8L62.2 63.5L58.2 60.7L51.7 59.4L41.9 60.3L29.9 64.8L28.7 69.3L28.9 75.7L28.3 75.6L27.9 73.2L26.9 71.9L23.8 70.9L-1.6 70.3L-1.6 -1.5L123.2 -1.5L123.2 70.5L105.7 70.8L103.7 73.3L90.7 74.2L88.1 76.1ZM121.9 79.1L119.3 79.2L118.0 78.5L117.4 77.2L118.0 75.2L119.9 74.3L123.2 74.8L123.2 78.8ZM58.2 85.6L55.6 85.8L54.3 85.2L53.8 83.7L54.0 81.7L54.9 79.8L56.2 78.6L60.1 77.8L61.0 79.1L60.7 83.0L59.5 84.9ZM83.6 82.4L81.6 82.7L80.3 81.7L80.2 79.8L81.6 78.2L82.9 78.2L83.7 79.1L84.0 81.1ZM95.2 89.6L94.1 89.5L94.1 88.8L92.7 87.6L92.9 86.9L92.3 86.2L93.3 84.6L96.8 86.2L96.6 88.7ZM93.3 93.4L87.1 93.4L87.1 88.8L88.1 87.1L90.7 86.8L93.1 88.2L93.8 90.2ZM50.4 93.4L37.2 93.4L35.9 90.2L36.8 88.8L39.4 88.0L49.1 87.9L50.4 88.5L51.0 89.5Z"/><path fill-rule="evenodd" fill="#e8553a" d="M103.7 67.6L93.3 67.9L77.1 66.8L75.1 65.3L72.6 64.8L72.5 63.4L67.9 65.0L62.8 60.1L57.6 58.6L51.7 58.1L41.9 58.9L32.2 60.7L21.2 66.4L19.2 66.4L14.7 65.1L13.9 64.2L14.7 63.9L14.7 63.0L-1.6 63.4L-1.6 -1.5L85.8 -1.5L85.5 3.7L88.3 12.8L90.1 13.9L91.4 14.0L92.2 14.8L92.7 16.4L95.9 17.8L98.5 18.2L100.7 17.4L103.7 12.6L109.6 8.2L110.2 4.3L108.5 -1.5L123.2 -1.5L123.2 63.1L108.9 63.0L106.3 66.1ZM97.9 9.6L95.2 9.3L93.8 6.9L93.9 2.9L95.7 -1.5L98.2 -1.5L100.2 3.1L100.1 7.6L99.3 8.9Z"/><path fill-rule="evenodd" fill="#e04242" d="M71.2 60.3L68.6 60.4L63.4 58.1L58.2 57.0L50.4 56.6L30.9 57.5L19.9 59.8L17.9 59.1L14.7 56.2L10.8 58.7L8.2 59.7L4.2 60.1L-1.6 59.8L-1.6 -1.5L83.3 -1.5L83.3 8.2L84.8 12.8L86.8 15.2L90.1 17.5L93.9 21.4L103.1 26.0L107.6 31.4L109.7 33.0L112.2 33.4L118.0 32.5L123.2 32.4L123.2 47.0L119.3 46.8L116.7 47.9L115.5 49.9L114.7 53.8L112.8 54.8L111.5 57.1L109.6 58.8L108.2 59.3L103.7 60.0L93.3 59.6L77.1 60.2L73.2 59.7ZM121.2 11.1L119.3 11.1L118.1 8.9L118.2 -1.5L123.2 -1.5L123.2 9.9ZM113.4 23.2L110.2 23.3L108.7 21.9L108.9 18.6L110.9 16.9L113.7 16.7L115.4 18.6L115.4 21.7Z"/><path fill-rule="evenodd" fill="#c92a55" d="M33.5 53.8L25.1 54.0L17.3 52.4L13.4 50.1L12.1 48.9L11.4 47.2L4.9 48.2L-1.6 47.9L-1.6 -1.5L81.5 -1.5L81.6 6.9L80.9 14.8L81.6 17.5L82.2 18.3L83.6 17.9L86.2 18.7L93.2 23.2L94.3 25.1L97.2 27.0L100.8 30.4L102.5 33.0L105.5 35.5L106.2 37.5L111.8 42.7L112.2 44.0L111.0 50.5L110.0 51.8L108.2 52.6L99.2 51.4L79.0 52.0L76.4 51.0L72.2 46.6L68.6 45.6L62.1 46.2L55.6 46.1L53.1 46.6L50.6 48.6L49.9 52.4L48.4 53.4L45.2 53.7L38.7 53.1ZM5.6 55.2L2.3 55.3L0.9 54.4L0.7 53.8L2.3 52.5L4.9 52.3L6.6 53.8Z"/><path fill-rule="evenodd" fill="#b82a50" d="M28.9 50.6L25.1 50.4L21.8 49.4L15.9 45.0L11.5 43.4L10.1 43.1L8.8 44.0L8.2 43.4L4.2 43.9L-1.6 43.6L-1.6 -1.5L79.6 -1.5L79.8 8.2L77.7 16.0L78.4 19.3L80.3 21.4L84.9 21.7L90.7 25.2L95.9 29.7L103.1 37.3L105.7 42.1L105.0 44.1L101.1 45.0L90.7 44.3L80.9 44.8L71.9 41.9L62.1 43.6L53.7 43.7L45.9 45.6L38.1 45.9L32.2 49.6Z"/><path fill-rule="evenodd" fill="#c02a72" d="M28.9 45.4L26.4 45.9L23.8 44.9L18.9 39.5L15.9 37.5L14.0 37.3L11.4 38.5L10.1 37.8L11.0 36.9L10.6 35.5L11.4 34.9L11.3 34.2L11.4 34.9L12.7 34.9L12.7 33.6L15.3 31.6L14.5 27.8L16.3 23.2L16.7 20.6L16.4 18.6L15.2 16.7L9.7 14.1L8.4 12.8L7.7 8.9L7.7 -1.5L76.6 -1.5L77.4 6.9L76.9 8.9L74.5 12.8L74.2 16.7L75.1 20.1L77.7 22.7L82.0 25.1L82.9 26.5L82.7 29.7L80.3 34.9L77.7 36.4L71.2 36.6L66.0 39.9L62.8 41.1L36.8 42.2L33.5 43.0ZM71.4 7.6L71.4 3.1L70.6 1.1L69.9 0.8L68.3 3.1L68.0 6.3L68.1 6.9L69.9 7.2L71.2 8.0ZM4.2 22.1L2.9 21.7L2.4 20.6L2.5 19.3L3.6 18.1L4.9 18.4L5.5 20.0L5.3 21.2ZM4.9 40.2L-1.6 39.0L-1.6 33.5L4.2 32.6L7.6 33.6L8.7 35.5L8.5 37.5L7.0 39.5Z"/><path fill-rule="evenodd" fill="#be2c8a" d="M60.8 38.3L57.6 38.5L47.8 37.1L33.5 36.3L25.7 37.4L23.8 37.0L21.8 35.8L19.9 33.6L19.5 32.3L21.8 29.5L23.6 29.0L23.7 24.5L19.3 14.1L14.0 10.2L12.6 8.2L12.2 4.3L13.3 -1.5L53.9 -1.5L53.9 5.6L55.6 5.8L56.9 5.2L57.4 5.6L56.9 6.8L53.9 7.6L53.9 9.5L56.2 7.8L59.5 7.6L59.5 6.9L58.3 5.6L58.9 5.0L60.8 5.7L62.1 7.3L64.3 8.2L66.1 10.2L66.9 12.1L67.0 14.8L71.2 18.0L73.5 21.9L74.6 25.1L74.5 26.5L73.8 27.4L69.2 29.0L67.3 30.2L64.0 36.2L62.7 37.5Z"/><path fill-rule="evenodd" fill="#992472" d="M44.6 29.1L35.3 28.4L33.7 27.8L33.0 26.5L34.2 21.2L34.8 20.2L36.1 21.2L36.6 19.3L38.3 18.0L41.0 13.5L41.4 10.2L41.5 -1.5L44.8 -1.5L44.7 12.1L45.9 12.3L48.1 16.0L49.8 16.8L51.0 20.0L50.6 23.9L49.5 26.5L47.8 28.0ZM33.5 7.7L32.2 7.2L31.5 5.6L32.2 3.3L33.5 2.7L34.9 3.7L35.3 5.6L34.9 6.9Z"/>
</g>
<use href="#coast" fill="none" stroke="#000" stroke-width="0.75"/>
<use href="#isl" clip-path="url(#pclip)" fill="none" stroke="#111" stroke-width="0.65"/>
<use href="#bord" fill="none" stroke="#333" stroke-width="0.5"/>
<text x="2.60" y="9.50" text-anchor="start" textLength="4.24" lengthAdjust="spacingAndGlyphs" font-family="Liberation Sans, sans-serif" font-weight="bold" font-size="9.4" fill="#000" stroke="#000" stroke-width="0.2" >r</text>
<path d="M10.5 81.3H76.3M10.5 78.7V83.89999999999999M76.3 78.7V83.89999999999999" stroke="#2a2a2a" stroke-width="1" fill="none"/>
<circle cx="39.9" cy="81.3" r="2.2" fill="#0000ff"/>
<text x="39.92" y="77.00" text-anchor="middle" textLength="14.81" lengthAdjust="spacingAndGlyphs" font-family="Liberation Sans, sans-serif" font-weight="bold" font-size="6.3" fill="#111" stroke="#111" stroke-width="0.2" >3.13</text>
<text x="10.50" y="90.70" text-anchor="middle" textLength="14.81" lengthAdjust="spacingAndGlyphs" font-family="Liberation Sans, sans-serif" font-weight="bold" font-size="6.3" fill="#111" stroke="#111" stroke-width="0.2" >2.75</text>
<text x="76.30" y="90.70" text-anchor="middle" textLength="14.81" lengthAdjust="spacingAndGlyphs" font-family="Liberation Sans, sans-serif" font-weight="bold" font-size="6.3" fill="#111" stroke="#111" stroke-width="0.2" >3.60</text>
</g>
<g transform="translate(425,339)">
<rect x="0.5" y="0.5" width="120" height="92" fill="#f8f8f8" stroke="#6a6a6a" stroke-width="1"/>
<g clip-path="url(#aus)">
<rect x="0" y="0" width="120" height="92" fill="#eecc6c"/><path fill-rule="evenodd" fill="#ecb75a" d="M92.0 93.4L-1.6 93.4L-1.6 -1.5L123.2 -1.5L123.2 86.5L104.4 86.8L100.4 86.3L99.2 88.3L95.2 89.3L92.7 87.6Z"/><path fill-rule="evenodd" fill="#eea44c" d="M75.8 93.4L-1.6 93.4L-1.6 -1.5L123.2 -1.5L123.2 70.2L105.7 70.6L104.9 73.9L103.7 74.6L103.7 75.2L104.6 75.8L104.2 76.5L97.7 77.2L97.9 76.5L101.4 75.2L99.2 75.2L95.2 78.3L93.9 77.1L92.0 77.1L91.4 76.5L87.4 77.6L84.8 79.8L82.6 84.9L78.4 86.4L76.9 87.6L76.1 89.5L76.4 93.4ZM45.2 80.4L47.0 78.4L48.4 73.7L53.7 71.8L55.9 70.0L56.4 66.8L55.6 64.9L54.3 63.7L51.7 63.0L46.5 63.4L41.3 62.9L39.4 63.4L37.9 64.8L37.3 67.4L38.3 72.6L37.9 76.5L38.2 78.4L39.4 80.0L41.3 80.9L43.2 81.0Z"/><path fill-rule="evenodd" fill="#ee903e" d="M84.9 74.6L80.3 74.8L77.9 72.6L77.8 71.3L77.1 70.3L64.1 71.8L62.5 70.7L58.1 62.9L54.9 60.7L51.7 60.0L41.9 60.5L38.1 61.5L34.0 64.8L31.6 69.7L28.3 72.2L26.4 72.1L21.2 70.0L13.4 70.4L5.6 69.3L-1.6 69.6L-1.6 -1.5L123.2 -1.5L123.2 63.3L108.9 63.3L104.4 66.0L95.2 65.6L92.3 67.4L88.1 73.3ZM75.1 79.1L73.8 79.4L73.2 79.1L73.4 78.4L75.1 76.9L76.4 76.7L76.5 77.8ZM28.3 83.0L26.4 82.4L25.7 81.1L26.0 79.1L27.7 77.9L28.9 79.0L29.3 80.4L29.1 82.3ZM56.2 84.3L54.9 84.0L54.5 83.0L54.9 80.6L56.9 79.0L59.1 79.1L60.0 80.4L59.7 82.3L58.4 83.7ZM67.9 93.4L64.1 93.4L64.5 86.2L65.8 84.3L67.3 83.5L68.0 83.7L68.5 84.9L68.4 93.4ZM47.8 93.4L36.8 93.4L35.3 90.2L36.2 88.8L38.4 88.2L47.8 88.4L49.0 88.8L49.8 90.2L49.1 92.3L48.4 93.4Z"/><path fill-rule="evenodd" fill="#f16a38" d="M84.9 67.0L82.9 67.3L74.4 65.7L71.9 67.2L71.2 66.5L66.7 66.7L64.3 65.4L57.6 59.3L52.4 58.2L38.1 59.4L35.9 60.3L31.0 64.2L23.8 65.4L19.9 65.7L14.7 64.9L13.9 64.2L14.7 63.4L-1.6 63.5L-1.6 -1.5L123.2 -1.5L123.2 59.6L111.5 58.8L110.9 59.7L104.4 62.2L93.3 61.6L90.7 62.8Z"/><path fill-rule="evenodd" fill="#e8553a" d="M69.2 64.2L67.9 64.7L67.3 64.4L62.8 60.1L58.2 58.0L52.4 56.6L34.2 57.4L32.1 58.3L28.9 61.1L26.4 61.7L18.6 61.5L16.6 60.7L15.3 59.5L7.5 60.9L-1.6 60.9L-1.6 -1.5L86.0 -1.5L85.3 3.7L86.1 6.9L87.9 10.9L90.1 11.7L92.3 10.9L93.7 8.2L94.0 4.3L93.4 -1.5L123.2 -1.5L123.2 55.3L112.8 54.9L107.6 58.1L102.4 59.6L92.7 57.8L85.5 61.4L72.5 62.4ZM73.4 61.6L73.2 61.9Z"/><path fill-rule="evenodd" fill="#e04242" d="M69.9 60.5L67.3 60.4L58.9 56.0L54.3 54.5L40.7 54.5L32.9 53.6L29.6 54.3L25.1 57.2L22.4 57.9L18.6 57.8L14.0 55.9L7.5 58.5L-1.6 58.5L-1.6 -1.5L83.4 -1.5L83.3 8.2L85.1 10.9L87.6 13.5L91.4 14.8L92.7 16.6L98.5 18.7L99.8 18.5L101.1 17.4L102.7 12.1L103.6 10.9L108.2 9.4L110.0 7.6L110.3 3.7L108.2 -1.5L123.2 -1.5L123.2 46.9L119.9 46.7L117.4 47.3L113.4 50.1L112.2 52.5L103.1 56.8L99.8 56.8L94.6 54.3L92.0 54.0L84.9 57.9L74.4 58.4Z"/><path fill-rule="evenodd" fill="#c92a55" d="M104.4 52.5L101.1 53.0L96.3 50.5L92.7 49.9L88.1 50.4L83.6 52.5L80.9 53.0L71.2 51.8L63.4 52.8L53.7 50.7L40.7 50.6L32.2 49.9L28.3 50.3L22.4 52.7L19.9 53.0L15.9 52.4L12.7 50.5L11.8 49.2L11.4 47.4L-1.6 47.4L-1.6 -1.5L81.5 -1.5L81.6 11.5L82.9 15.2L84.9 14.9L89.4 16.8L94.5 21.9L98.7 23.9L106.1 25.8L108.0 27.8L108.7 31.6L108.3 38.8L111.8 42.7L112.2 45.1L111.5 47.7L110.2 49.9ZM121.2 11.7L119.3 11.7L118.1 9.5L118.1 -1.5L123.2 -1.5L123.2 10.5ZM112.2 23.3L109.8 22.5L108.9 19.9L110.1 17.4L112.8 16.6L114.5 17.4L115.1 20.0L114.1 22.4ZM123.2 39.0L119.3 39.1L116.9 38.1L116.6 36.2L118.0 33.6L119.9 32.6L123.2 33.3ZM6.2 55.3L2.9 55.5L-1.6 54.6L-1.6 49.9L4.2 49.1L7.5 49.9L8.6 51.1L8.7 53.1L7.8 54.4Z"/><path fill-rule="evenodd" fill="#b82a50" d="M92.7 46.0L84.2 45.8L75.1 43.3L66.7 44.1L54.9 43.4L45.9 44.3L32.9 44.6L22.4 43.7L15.3 44.1L11.7 42.7L9.4 39.2L4.2 38.3L-1.6 38.9L-1.6 33.6L1.7 35.8L4.2 36.6L6.2 35.6L7.8 32.3L7.9 -1.5L79.6 -1.5L79.7 8.2L77.6 16.0L78.1 18.0L81.8 19.3L84.2 18.2L88.1 19.3L93.1 23.2L94.6 25.2L101.8 28.5L104.1 31.6L104.3 34.2L105.1 36.2L104.6 40.1L103.7 41.9L98.2 44.6Z"/><path fill-rule="evenodd" fill="#c02a72" d="M89.4 42.7L84.2 41.8L79.0 37.2L76.4 36.5L69.9 36.6L64.1 35.9L58.2 37.7L54.3 38.2L50.4 37.7L43.2 35.2L32.2 36.6L17.9 37.3L14.7 36.8L13.5 34.2L14.7 32.1L15.9 31.0L15.6 27.8L17.3 20.6L16.9 14.1L17.0 -1.5L20.3 -1.5L20.2 20.6L23.8 29.1L25.7 28.0L28.9 27.3L31.0 25.1L32.9 19.8L38.1 17.2L39.7 15.4L40.0 12.8L38.6 5.6L39.2 -1.5L54.9 -1.5L53.2 5.0L53.2 5.6L55.4 6.3L55.6 6.8L53.5 7.6L54.3 8.9L56.2 8.1L59.5 8.1L60.0 7.6L60.0 6.3L60.8 6.2L62.1 7.4L65.4 7.4L66.0 8.0L70.3 6.9L70.5 -1.5L76.7 -1.5L77.6 5.6L76.6 9.5L75.2 10.9L73.8 11.3L71.9 11.2L70.6 9.6L68.5 10.9L69.5 16.0L70.6 17.8L73.2 20.8L76.4 22.4L78.4 22.9L84.2 21.6L86.2 22.0L93.3 26.4L99.2 29.2L100.7 30.4L101.9 33.0L102.0 36.2L100.0 38.8L94.6 41.6ZM70.6 13.2L69.3 12.8L69.9 11.6L71.0 12.8Z"/><path fill-rule="evenodd" fill="#be2c8a" d="M54.9 34.4L51.5 33.6L46.5 29.1L38.1 29.5L36.1 29.0L34.9 27.8L34.7 25.1L35.4 23.2L41.5 18.0L44.3 13.5L45.2 12.8L46.5 13.2L48.4 15.5L49.1 14.9L51.1 15.0L51.7 15.7L51.7 13.9L53.7 12.9L62.1 12.6L64.1 13.6L66.8 18.0L67.0 21.9L65.4 25.8L57.9 33.0ZM93.9 37.6L90.7 37.8L89.4 37.2L88.8 36.2L89.2 31.6L91.0 29.7L95.2 29.9L97.4 31.0L98.6 32.3L98.8 34.2L98.0 35.5Z"/>
</g>
<use href="#coast" fill="none" stroke="#000" stroke-width="0.75"/>
<use href="#isl" clip-path="url(#pclip)" fill="none" stroke="#111" stroke-width="0.65"/>
<use href="#bord" fill="none" stroke="#333" stroke-width="0.5"/>
<text x="2.60" y="9.50" text-anchor="start" textLength="5.12" lengthAdjust="spacingAndGlyphs" font-family="Liberation Sans, sans-serif" font-weight="bold" font-size="9.4" fill="#000" stroke="#000" stroke-width="0.2" >s</text>
<path d="M10.5 81.3H76.3M10.5 78.7V83.89999999999999M76.3 78.7V83.89999999999999" stroke="#2a2a2a" stroke-width="1" fill="none"/>
<circle cx="47.5" cy="81.3" r="2.2" fill="#0000ff"/>
<text x="47.48" y="77.00" text-anchor="middle" textLength="14.81" lengthAdjust="spacingAndGlyphs" font-family="Liberation Sans, sans-serif" font-weight="bold" font-size="6.3" fill="#111" stroke="#111" stroke-width="0.2" >3.07</text>
<text x="10.50" y="90.70" text-anchor="middle" textLength="14.81" lengthAdjust="spacingAndGlyphs" font-family="Liberation Sans, sans-serif" font-weight="bold" font-size="6.3" fill="#111" stroke="#111" stroke-width="0.2" >2.39</text>
<text x="76.30" y="90.70" text-anchor="middle" textLength="14.81" lengthAdjust="spacingAndGlyphs" font-family="Liberation Sans, sans-serif" font-weight="bold" font-size="6.3" fill="#111" stroke="#111" stroke-width="0.2" >3.60</text>
</g>
<g transform="translate(555,339)">
<rect x="0.5" y="0.5" width="120" height="92" fill="#f8f8f8" stroke="#6a6a6a" stroke-width="1"/>
<g clip-path="url(#aus)">
<rect x="0" y="0" width="120" height="92" fill="#f0de8c"/><path fill-rule="evenodd" fill="#eecc6c" d="M92.0 93.4L-1.6 93.4L-1.6 -1.5L123.2 -1.5L123.2 87.1L113.4 87.0L106.9 86.4L100.4 86.6L99.2 88.1L95.2 89.2L93.3 88.0L92.6 88.8L92.6 93.4Z"/><path fill-rule="evenodd" fill="#ecb75a" d="M76.4 93.4L-1.6 93.4L-1.6 -1.5L123.2 -1.5L123.2 85.8L114.1 85.2L111.5 84.0L106.9 80.7L105.0 80.7L100.4 82.1L97.2 81.8L94.6 80.3L92.5 77.2L90.7 75.6L86.1 77.2L85.1 83.7L84.2 85.2L79.7 86.3L77.5 87.6L76.6 89.5L76.9 93.4Z"/><path fill-rule="evenodd" fill="#eea44c" d="M75.1 93.4L-1.6 93.4L-1.6 -1.5L123.2 -1.5L123.2 84.7L118.0 84.7L114.8 84.0L112.8 83.0L107.6 78.7L105.7 78.3L99.2 78.6L96.9 77.2L95.2 77.0L91.5 73.9L88.8 73.5L86.2 74.4L84.2 76.5L83.4 80.4L82.2 82.6L75.9 86.9L75.0 89.5Z"/><path fill-rule="evenodd" fill="#ee903e" d="M73.2 93.4L-1.6 93.4L-1.6 -1.5L123.2 -1.5L123.2 83.7L116.1 83.3L113.4 81.9L110.1 78.4L108.1 77.2L97.2 74.8L91.5 71.9L87.4 71.8L85.5 72.6L84.2 74.0L82.7 76.5L82.0 79.8L80.8 81.7L75.8 84.9L74.6 86.2L73.7 88.8L73.8 93.4Z"/><path fill-rule="evenodd" fill="#f16a38" d="M71.9 93.4L-1.6 93.4L-1.6 -1.5L123.2 -1.5L123.2 82.8L118.7 82.8L115.4 81.9L110.2 76.8L107.6 75.4L101.1 74.1L92.7 70.7L86.8 70.5L84.6 71.3L82.9 73.0L81.4 75.8L80.8 79.1L79.7 80.9L75.1 83.7L73.3 85.6L72.5 88.8L72.5 93.4Z"/><path fill-rule="evenodd" fill="#e8553a" d="M70.6 93.4L-1.6 93.4L-1.6 -1.5L123.2 -1.5L123.2 81.8L119.3 81.9L116.7 81.4L114.8 80.1L111.5 76.1L109.6 74.7L105.0 73.1L102.4 72.9L95.9 70.0L90.7 69.1L86.0 69.3L83.6 70.2L81.6 71.9L79.9 75.2L79.7 77.8L78.7 79.8L73.8 82.6L72.2 84.3L71.2 87.6L71.1 93.4Z"/><path fill-rule="evenodd" fill="#e04242" d="M69.2 93.4L-1.6 93.4L-1.6 -1.5L86.5 -1.5L84.4 3.7L84.2 6.2L84.4 5.6L85.3 5.6L88.1 10.1L90.1 10.4L92.7 9.5L93.9 6.9L94.0 3.7L92.8 -1.5L123.2 -1.5L123.2 80.7L119.3 80.9L116.7 80.1L114.9 78.4L112.3 74.6L110.1 73.2L105.7 71.7L103.1 71.4L96.6 68.8L90.1 67.9L84.2 68.5L79.0 71.3L77.4 71.3L76.8 72.6L77.7 75.8L77.5 77.8L75.8 79.4L73.2 79.6L72.1 79.1L71.9 77.8L74.1 72.6L72.5 71.4L70.6 71.5L69.1 72.6L68.5 74.6L68.6 76.5L70.2 80.4L69.6 93.4Z"/><path fill-rule="evenodd" fill="#c92a55" d="M67.3 93.4L-1.6 93.4L-1.6 -1.5L82.2 -1.5L80.7 5.0L81.8 8.9L82.9 10.2L85.5 10.4L88.8 12.9L92.0 13.5L95.2 12.7L96.8 10.2L97.3 6.3L97.0 -1.5L123.2 -1.5L123.2 79.3L119.3 79.5L116.9 78.4L115.8 76.5L115.5 72.6L114.9 71.9L103.7 69.7L97.2 67.5L88.1 66.8L84.2 67.2L78.4 68.8L74.4 68.8L73.8 68.2L69.2 68.5L67.4 69.3L66.3 70.7L65.3 74.6L65.4 79.1L67.3 86.9ZM45.1 80.4L47.1 78.4L48.5 74.6L53.7 71.9L56.1 69.3L57.3 66.8L57.1 65.4L56.2 64.5L52.4 63.4L40.7 63.4L37.4 64.2L36.1 65.4L36.0 67.4L38.4 72.6L38.0 77.2L38.6 79.1L41.3 80.8ZM121.3 71.3L122.7 70.7L118.5 70.7L119.3 71.3Z"/><path fill-rule="evenodd" fill="#b82a50" d="M27.7 81.5L26.4 81.1L26.0 80.4L26.3 73.2L25.7 71.9L24.4 71.1L20.5 70.5L-1.6 70.5L-1.6 -1.5L57.2 -1.5L54.3 0.5L52.7 3.7L52.5 5.6L54.4 6.3L54.8 6.9L53.0 7.6L54.3 8.9L56.2 8.1L59.5 8.1L60.8 6.7L62.1 7.5L65.4 7.5L66.0 8.0L69.9 7.4L71.2 8.6L75.1 7.7L82.9 13.1L85.5 13.1L91.4 15.3L92.7 16.7L99.2 18.3L101.0 17.4L101.9 14.8L102.4 -1.5L123.2 -1.5L123.2 66.2L117.4 66.3L109.6 68.3L106.9 67.7L104.4 67.9L98.5 66.2L92.7 65.6L85.5 65.7L77.1 66.9L74.4 66.0L72.5 66.6L71.2 65.9L67.3 66.3L64.1 65.1L60.8 62.5L57.6 61.3L52.4 60.6L41.9 60.7L38.1 61.5L29.8 64.8L28.7 68.7L30.0 73.2L30.0 75.8L28.9 80.0ZM75.1 2.7L73.8 2.6L68.6 -0.2L62.1 -0.0L57.7 -1.5L77.8 -1.5L77.1 0.7ZM109.0 8.9L110.4 6.9L110.5 4.3L109.6 1.3L107.6 -0.7L106.3 0.0L105.2 1.8L104.4 6.3L104.7 7.6L106.0 8.9L107.6 9.3ZM59.5 86.9L57.6 86.8L55.5 85.6L54.4 83.7L54.3 81.7L55.1 79.1L56.8 76.5L59.5 73.4L60.8 73.0L61.5 75.2L61.3 81.7L60.8 85.0ZM47.2 93.4L36.7 93.4L35.3 91.4L35.0 90.2L36.1 88.8L38.3 88.2L46.6 88.2L48.3 88.8L49.1 90.2L47.8 93.4Z"/><path fill-rule="evenodd" fill="#c02a72" d="M21.2 66.2L19.2 66.3L14.7 65.1L13.9 64.2L14.7 63.9L14.7 63.1L-1.6 63.3L-1.6 -1.5L31.6 -1.5L29.8 4.3L30.1 7.6L31.6 9.4L35.4 11.8L38.7 16.6L43.2 14.6L44.6 13.2L45.9 13.3L48.4 15.2L53.0 12.1L57.6 11.2L65.4 11.2L67.3 12.1L68.6 13.4L69.9 12.5L71.2 13.1L76.4 13.1L82.9 15.8L84.9 15.4L89.4 16.9L93.3 20.5L97.2 22.8L105.1 25.8L106.5 27.1L108.6 31.6L110.2 32.9L112.8 33.2L118.7 32.0L123.2 32.1L123.2 63.1L108.9 63.0L107.6 64.4L105.0 65.4L93.9 64.2L77.1 64.7L73.8 64.4L72.5 63.3L67.9 64.2L62.8 60.0L57.6 58.8L50.4 58.6L38.1 59.6L33.5 60.5ZM120.6 11.7L118.7 10.9L118.0 9.4L118.0 -1.5L123.2 -1.5L123.2 10.5ZM44.6 9.1L42.6 9.4L40.7 8.9L39.0 6.9L39.4 2.4L40.7 0.4L42.6 -1.0L44.6 -0.1L46.0 3.1L46.1 6.9ZM114.8 23.3L110.9 23.8L108.9 22.8L108.4 20.0L109.6 17.6L112.8 16.5L115.4 17.8L116.7 21.2L116.2 22.5Z"/><path fill-rule="evenodd" fill="#be2c8a" d="M99.2 61.6L89.4 62.0L77.7 61.5L73.2 60.3L69.9 61.2L63.4 58.0L57.6 57.1L50.4 56.9L32.9 57.6L23.1 60.3L19.9 60.7L17.9 60.0L14.0 55.7L10.3 57.6L7.5 58.5L-1.6 58.5L-1.6 -1.5L25.8 -1.5L25.4 6.3L26.3 10.9L27.7 12.4L32.2 15.3L36.1 19.8L36.8 19.2L45.9 18.8L52.4 16.4L54.3 15.0L56.9 14.5L64.1 14.9L70.6 17.0L77.1 17.0L82.2 19.2L83.6 18.2L84.9 18.3L90.9 21.2L93.3 23.2L95.2 25.8L102.2 29.0L106.3 34.7L108.2 36.1L111.5 36.7L123.2 36.0L123.2 47.1L119.3 47.0L116.7 47.9L115.1 49.9L113.8 53.8L111.9 55.7L111.5 57.2L109.6 58.9L103.7 60.9Z"/><path fill-rule="evenodd" fill="#992472" d="M4.9 8.9L4.2 9.4L3.1 8.9L2.2 6.3L2.9 0.7L4.2 -1.2L5.6 4.1ZM13.4 20.3L11.4 19.5L11.4 18.0L13.4 18.0L14.0 19.3ZM108.2 52.5L94.6 51.6L76.4 51.7L72.5 50.1L66.0 45.0L62.8 43.9L58.9 43.4L53.7 43.7L49.5 45.3L46.8 47.9L46.5 51.5L44.6 52.2L39.6 51.8L38.5 51.1L37.4 48.8L35.4 48.2L23.8 48.1L15.9 48.7L14.2 47.9L11.4 45.3L11.8 44.0L10.2 42.7L10.6 42.1L10.4 40.8L9.7 40.1L9.5 37.5L10.8 34.2L11.4 33.7L12.1 34.3L13.4 32.5L15.3 31.8L16.6 30.5L17.9 29.8L21.2 29.8L21.8 29.1L23.8 29.2L25.7 28.2L29.6 28.1L32.2 26.2L34.8 22.9L47.2 22.1L56.2 18.6L70.6 19.7L75.8 21.1L78.4 22.6L83.6 23.0L100.4 30.5L105.6 38.1L113.1 42.1L112.4 43.4L112.6 44.0L111.1 49.9L110.2 51.3ZM21.2 27.8L20.5 27.9L19.5 27.1L19.4 25.8L19.9 25.5L21.2 25.9Z"/>
</g>
<use href="#coast" fill="none" stroke="#000" stroke-width="0.75"/>
<use href="#isl" clip-path="url(#pclip)" fill="none" stroke="#111" stroke-width="0.65"/>
<use href="#bord" fill="none" stroke="#333" stroke-width="0.5"/>
<text x="2.60" y="9.50" text-anchor="start" textLength="4.11" lengthAdjust="spacingAndGlyphs" font-family="Liberation Sans, sans-serif" font-weight="bold" font-size="9.4" fill="#000" stroke="#000" stroke-width="0.2" >t</text>
<path d="M10.5 81.3H76.3M10.5 78.7V83.89999999999999M76.3 78.7V83.89999999999999" stroke="#2a2a2a" stroke-width="1" fill="none"/>
<circle cx="50.2" cy="81.3" r="2.2" fill="#0000ff"/>
<text x="50.24" y="77.00" text-anchor="middle" textLength="14.81" lengthAdjust="spacingAndGlyphs" font-family="Liberation Sans, sans-serif" font-weight="bold" font-size="6.3" fill="#111" stroke="#111" stroke-width="0.2" >3.70</text>
<text x="10.50" y="90.70" text-anchor="middle" textLength="14.81" lengthAdjust="spacingAndGlyphs" font-family="Liberation Sans, sans-serif" font-weight="bold" font-size="6.3" fill="#111" stroke="#111" stroke-width="0.2" >3.09</text>
<text x="76.30" y="90.70" text-anchor="middle" textLength="14.81" lengthAdjust="spacingAndGlyphs" font-family="Liberation Sans, sans-serif" font-weight="bold" font-size="6.3" fill="#111" stroke="#111" stroke-width="0.2" >4.10</text>
</g>
<g transform="translate(35,448)">
<rect x="0.5" y="0.5" width="120" height="92" fill="#f8f8f8" stroke="#6a6a6a" stroke-width="1"/>
<g clip-path="url(#aus)">
<rect x="0" y="0" width="120" height="92" fill="#f0de8c"/><path fill-rule="evenodd" fill="#eecc6c" d="M92.0 93.4L-1.6 93.4L-1.6 -1.5L123.2 -1.5L123.2 86.5L104.4 86.7L100.4 86.2L99.2 88.3L97.2 89.2L95.2 89.4L92.7 87.5L92.0 89.5ZM45.2 80.4L47.1 78.4L48.7 73.9L53.7 71.9L55.5 70.0L55.9 68.1L55.6 65.8L54.7 64.2L53.0 62.9L51.1 62.6L45.9 63.4L40.0 63.3L38.1 63.9L37.2 64.8L36.8 66.8L38.2 71.9L37.9 76.5L38.2 78.4L39.1 79.8L40.7 80.6L43.2 80.9Z"/><path fill-rule="evenodd" fill="#ecb75a" d="M82.9 88.6L79.2 86.9L73.2 85.6L71.2 84.6L70.1 81.7L70.8 73.9L69.9 71.3L68.6 70.7L64.1 71.1L62.1 70.5L60.8 68.9L57.2 61.6L55.6 60.1L53.0 59.2L50.4 59.0L46.5 59.9L38.1 60.7L30.2 64.8L29.4 69.3L29.3 78.4L28.8 80.4L27.7 81.7L26.4 81.3L25.9 80.4L26.5 73.2L25.7 71.9L24.4 71.1L21.2 70.6L-1.6 70.9L-1.6 -1.5L85.9 -1.5L84.3 3.7L84.1 6.3L85.5 4.1L87.6 8.2L88.1 10.7L92.5 14.8L93.3 16.8L98.0 20.0L100.9 24.5L102.4 25.7L105.7 26.3L108.2 25.3L109.6 23.9L111.6 19.3L113.4 17.8L116.7 17.1L123.2 17.0L123.2 71.2L119.3 71.4L113.4 69.9L110.6 70.0L108.6 71.9L107.9 77.2L104.4 78.4L95.2 78.4L93.9 77.1L92.0 76.8L90.7 75.0L88.1 76.9L87.4 76.4L84.9 76.5L85.1 83.0L84.2 86.6ZM57.6 85.0L54.9 84.4L54.3 83.0L54.4 81.7L56.2 79.1L58.9 78.5L60.6 79.8L60.9 82.3L59.6 84.3ZM47.8 93.4L36.8 93.4L35.4 91.4L35.1 90.2L36.1 88.8L38.4 88.2L47.2 88.3L48.6 88.8L49.4 90.2L49.1 91.7Z"/><path fill-rule="evenodd" fill="#eea44c" d="M15.9 -1.2L13.0 -1.5L16.6 -1.5ZM74.4 10.9L73.1 10.2L72.1 7.6L72.6 -1.5L76.0 -1.5L76.3 7.6L75.8 10.0ZM55.6 7.4L53.0 7.4L52.5 6.3L56.9 5.2L57.4 6.3ZM101.8 73.9L97.2 73.3L94.1 68.1L92.0 67.0L89.4 66.8L86.8 67.1L84.9 68.1L83.6 69.6L81.9 73.2L80.3 74.4L78.0 72.6L77.4 70.0L75.2 68.1L75.0 66.1L74.4 65.5L72.8 65.4L72.5 62.6L71.9 63.7L67.3 65.9L66.4 65.4L66.0 64.4L63.4 63.7L62.1 60.3L60.1 59.6L57.6 57.9L54.3 57.3L33.5 57.9L31.6 58.9L27.7 62.8L22.4 65.8L19.2 66.4L14.0 65.0L13.8 64.2L15.4 62.9L15.4 57.6L13.4 53.9L9.0 51.1L7.9 47.3L7.8 16.7L8.8 11.4L10.1 10.1L12.7 9.5L16.6 9.4L19.2 10.1L20.5 11.4L23.1 16.8L26.6 20.0L29.6 23.8L30.9 24.4L32.3 23.2L33.0 20.6L34.8 17.9L38.7 16.8L43.9 12.7L45.9 12.6L48.4 15.7L49.1 15.1L51.1 15.0L51.7 15.6L51.3 13.5L54.5 9.5L54.5 8.9L56.2 7.8L59.7 7.6L59.7 6.9L58.4 5.6L58.9 5.2L60.8 5.8L62.1 7.1L65.4 7.2L66.0 7.9L69.9 7.1L71.1 8.2L69.2 10.7L68.4 10.9L68.4 12.8L67.1 14.1L67.1 14.8L72.5 18.9L75.8 20.2L78.4 22.1L80.3 22.0L81.0 21.2L79.9 19.3L80.3 17.1L81.6 16.5L82.9 16.6L84.2 13.4L85.5 12.9L86.2 13.3L89.5 16.7L95.2 26.3L101.8 31.0L103.7 33.6L108.2 33.8L110.6 34.9L110.1 36.9L107.6 38.1L112.6 44.0L113.2 53.1L112.0 55.7L112.2 57.6L123.2 58.0L123.2 62.0L108.9 62.2L104.8 69.3L103.6 72.6ZM70.6 13.3L69.4 12.8L69.9 11.7L71.0 12.8ZM77.7 19.8L76.6 19.3L77.7 18.8L78.2 19.3ZM123.2 30.7L119.3 30.8L117.4 30.2L116.4 28.4L117.4 25.6L119.3 24.4L123.2 24.8ZM6.2 62.2L-1.6 61.8L-1.6 58.5L2.9 56.6L5.6 56.8L7.4 58.3L8.4 60.3L8.1 61.6Z"/><path fill-rule="evenodd" fill="#ee903e" d="M23.1 60.3L21.2 60.4L19.9 59.5L17.7 54.4L13.0 48.6L11.8 45.3L12.1 36.2L13.4 33.6L16.6 30.4L15.8 20.0L16.6 19.9L21.8 24.3L23.0 26.5L23.2 29.0L23.8 29.2L25.7 28.4L29.6 28.8L32.2 28.0L34.1 26.5L35.7 23.9L38.7 20.9L40.7 20.0L43.9 19.8L47.8 20.9L49.8 23.1L50.5 26.5L50.5 49.9L50.1 51.8L47.8 53.1L43.2 53.6L34.2 52.3L30.9 52.7L28.9 54.0L25.1 59.2Z"/>
</g>
<use href="#coast" fill="none" stroke="#000" stroke-width="0.75"/>
<use href="#isl" clip-path="url(#pclip)" fill="none" stroke="#111" stroke-width="0.65"/>
<use href="#bord" fill="none" stroke="#333" stroke-width="0.5"/>
<text x="2.60" y="9.50" text-anchor="start" textLength="6.12" lengthAdjust="spacingAndGlyphs" font-family="Liberation Sans, sans-serif" font-weight="bold" font-size="9.4" fill="#000" stroke="#000" stroke-width="0.2" >u</text>
<path d="M10.5 81.3H76.3M10.5 78.7V83.89999999999999M76.3 78.7V83.89999999999999" stroke="#2a2a2a" stroke-width="1" fill="none"/>
<circle cx="36.6" cy="81.3" r="2.2" fill="#0000ff"/>
<text x="36.61" y="77.00" text-anchor="middle" textLength="14.81" lengthAdjust="spacingAndGlyphs" font-family="Liberation Sans, sans-serif" font-weight="bold" font-size="6.3" fill="#111" stroke="#111" stroke-width="0.2" >2.06</text>
<text x="10.50" y="90.70" text-anchor="middle" textLength="14.81" lengthAdjust="spacingAndGlyphs" font-family="Liberation Sans, sans-serif" font-weight="bold" font-size="6.3" fill="#111" stroke="#111" stroke-width="0.2" >1.81</text>
<text x="76.30" y="90.70" text-anchor="middle" textLength="14.81" lengthAdjust="spacingAndGlyphs" font-family="Liberation Sans, sans-serif" font-weight="bold" font-size="6.3" fill="#111" stroke="#111" stroke-width="0.2" >2.44</text>
</g>
<g transform="translate(165,448)">
<rect x="0.5" y="0.5" width="120" height="92" fill="#f8f8f8" stroke="#6a6a6a" stroke-width="1"/>
<g clip-path="url(#aus)">
<rect x="0" y="0" width="120" height="92" fill="#f0de8c"/><path fill-rule="evenodd" fill="#eecc6c" d="M123.2 93.4L-1.6 93.4L-1.6 -1.5L123.2 -1.5ZM44.4 80.4L46.8 78.4L48.8 73.9L53.7 71.6L55.2 70.0L55.9 68.1L55.8 66.1L54.9 64.3L53.7 63.2L51.1 62.6L45.9 63.4L40.0 63.2L38.1 63.9L36.8 65.2L36.6 67.4L38.2 71.9L38.0 76.5L38.6 79.1L40.7 80.7Z"/><path fill-rule="evenodd" fill="#ecb75a" d="M92.0 93.4L38.1 93.4L37.6 90.2L38.8 87.6L41.3 85.6L47.9 82.3L52.4 76.8L57.1 73.2L58.7 70.7L59.3 66.1L58.2 62.7L54.9 59.6L51.1 58.9L48.4 59.6L41.9 59.9L38.1 60.8L34.8 62.8L29.7 64.8L27.7 68.9L23.0 71.3L21.9 74.6L22.9 81.7L22.6 93.4L-1.6 93.4L-1.6 -1.5L85.9 -1.5L84.3 3.7L84.2 6.3L85.5 4.1L87.6 8.2L88.1 10.7L90.1 12.0L92.5 14.8L92.7 16.1L93.8 17.4L97.2 18.5L100.6 17.4L104.0 12.1L109.6 8.2L110.3 4.3L108.5 -1.5L123.2 -1.5L123.2 86.5L104.4 86.7L100.4 86.2L99.2 88.4L97.2 89.4L94.6 89.6L94.5 88.8L92.7 87.7L92.4 93.4ZM99.2 7.6L96.6 8.2L94.6 6.9L94.4 4.3L95.9 2.1L97.9 1.9L99.4 3.1L100.0 5.6Z"/><path fill-rule="evenodd" fill="#eea44c" d="M105.0 78.5L87.4 78.7L82.9 78.2L80.5 76.5L77.1 70.6L74.4 69.8L70.4 70.7L66.0 74.6L64.1 75.1L63.1 73.9L62.9 65.4L61.4 61.6L60.5 60.3L57.6 58.3L53.7 57.1L38.7 57.8L21.2 66.6L19.2 67.0L14.0 65.7L13.6 64.2L14.8 63.5L14.7 62.9L-1.6 63.1L-1.6 -1.5L15.7 -1.5L13.9 4.3L14.6 8.2L19.8 12.1L23.1 16.8L27.8 20.0L30.9 24.6L31.7 24.5L32.7 23.2L33.5 21.9L33.4 20.6L34.8 19.1L36.1 21.2L36.6 20.6L36.5 19.3L37.4 19.0L39.5 16.0L43.9 12.3L45.9 12.3L48.4 15.5L49.1 14.9L50.4 14.8L51.7 15.5L51.1 13.5L51.8 12.1L54.5 9.5L54.9 8.4L56.2 7.8L59.5 7.7L59.6 6.9L58.3 5.6L59.5 5.1L62.1 7.1L65.4 7.1L66.0 7.8L69.9 7.0L71.1 8.2L70.4 9.5L68.2 10.9L68.1 12.8L66.8 14.1L66.9 14.8L70.6 17.2L75.1 18.9L78.4 22.0L80.3 22.1L81.0 21.2L80.0 19.3L80.3 17.4L81.3 16.7L82.9 16.7L83.7 14.1L85.5 13.0L89.4 16.4L91.2 20.0L93.9 23.1L94.4 25.1L95.2 25.9L96.6 26.5L101.8 25.9L104.4 26.8L105.0 27.8L105.1 29.0L104.4 30.0L102.4 30.5L102.3 31.6L104.4 34.8L105.7 35.5L105.7 37.5L110.2 40.5L113.1 41.4L115.5 46.6L117.4 48.4L119.9 49.0L123.2 48.8L123.2 63.4L118.7 63.4L110.9 62.5L108.7 63.5L107.7 66.8L108.3 70.7L110.2 74.2L112.2 75.0L118.7 72.3L123.2 72.4L123.2 77.9L111.5 77.4ZM75.1 10.0L72.6 8.9L71.1 6.3L71.3 3.7L73.3 -1.5L75.8 -1.5L76.4 6.9L76.0 8.9ZM120.6 11.6L118.7 10.9L118.0 8.9L118.2 -1.5L123.2 -1.5L123.2 10.2ZM55.6 7.4L53.0 7.4L52.6 6.3L56.9 5.2L57.4 6.3ZM70.6 13.0L69.7 12.8L69.9 11.9ZM112.8 22.0L110.2 22.2L108.9 20.9L109.5 18.0L111.5 16.7L113.4 16.7L114.6 18.0L114.2 20.6ZM77.7 19.9L76.5 19.3L77.7 18.8L78.3 19.3ZM13.4 93.4L9.7 93.4L10.0 81.7L8.6 75.2L9.4 71.9L10.8 70.7L12.1 70.3L13.7 71.3L14.3 73.9L13.6 82.3L13.8 93.4ZM55.6 85.6L53.4 84.9L53.5 82.3L54.4 80.4L56.9 78.5L60.2 78.5L61.0 80.4L60.4 83.7L58.9 85.0ZM84.2 93.4L79.8 93.4L79.9 88.2L80.9 85.9L82.9 86.0L84.2 87.6L84.6 90.2ZM51.7 93.4L45.7 93.4L45.1 90.8L45.5 88.8L48.4 87.1L51.7 87.0L52.4 90.2L52.3 93.4Z"/><path fill-rule="evenodd" fill="#ee903e" d="M4.2 11.6L2.3 10.9L1.4 8.9L1.1 5.0L1.6 -1.5L6.1 -1.5L6.2 8.7L5.6 10.8ZM15.9 22.7L12.7 22.3L10.5 21.2L9.5 19.3L10.1 17.0L12.1 16.5L14.7 17.8L16.5 21.2L16.6 22.3ZM95.9 75.3L92.7 75.2L90.7 74.5L88.1 75.2L84.2 74.1L81.7 71.9L79.0 68.1L75.1 65.4L73.2 65.4L72.5 65.0L72.9 64.2L72.5 62.8L71.9 63.9L69.9 64.3L67.9 65.5L63.4 59.3L56.9 54.7L53.7 53.3L39.4 53.2L37.4 53.9L31.6 57.6L28.3 58.8L23.1 60.0L18.6 59.5L14.0 55.2L7.8 54.4L5.6 53.1L7.9 47.9L8.0 38.8L8.7 35.5L10.1 33.9L15.3 31.9L17.9 30.1L21.2 29.9L21.8 29.3L23.8 29.3L25.7 28.4L29.6 28.7L41.3 28.1L53.7 28.4L56.4 27.1L60.1 21.9L62.1 20.4L66.0 19.7L69.9 20.5L72.1 21.9L73.7 23.9L74.1 25.8L74.0 32.3L74.8 34.2L76.3 35.5L80.3 36.5L88.8 35.8L92.7 36.2L95.9 38.1L99.8 43.0L102.4 43.8L108.2 43.9L109.6 44.6L110.9 46.2L112.8 51.2L113.1 53.1L112.6 55.1L111.5 57.0L106.9 60.3L105.5 62.2L104.0 71.3L103.1 73.2ZM20.5 26.5L18.6 24.4L19.2 24.1L21.2 25.1L21.2 26.4ZM1.0 53.8L-1.6 54.3L-1.6 49.6L1.8 52.4L2.1 53.1Z"/><path fill-rule="evenodd" fill="#f16a38" d="M21.8 52.5L16.6 52.6L14.6 51.1L12.9 48.6L11.9 45.3L12.2 38.8L13.4 37.3L15.3 36.1L18.6 35.6L23.0 36.2L25.4 37.5L26.6 39.5L27.1 44.0L26.5 49.9L25.1 51.6Z"/>
</g>
<use href="#coast" fill="none" stroke="#000" stroke-width="0.75"/>
<use href="#isl" clip-path="url(#pclip)" fill="none" stroke="#111" stroke-width="0.65"/>
<use href="#bord" fill="none" stroke="#333" stroke-width="0.5"/>
<text x="2.60" y="9.50" text-anchor="start" textLength="5.61" lengthAdjust="spacingAndGlyphs" font-family="Liberation Sans, sans-serif" font-weight="bold" font-size="9.4" fill="#000" stroke="#000" stroke-width="0.2" >v</text>
<path d="M10.5 81.3H76.3M10.5 78.7V83.89999999999999M76.3 78.7V83.89999999999999" stroke="#2a2a2a" stroke-width="1" fill="none"/>
<circle cx="43.4" cy="81.3" r="2.2" fill="#0000ff"/>
<text x="43.40" y="77.00" text-anchor="middle" textLength="14.81" lengthAdjust="spacingAndGlyphs" font-family="Liberation Sans, sans-serif" font-weight="bold" font-size="6.3" fill="#111" stroke="#111" stroke-width="0.2" >2.09</text>
<text x="10.50" y="90.70" text-anchor="middle" textLength="14.81" lengthAdjust="spacingAndGlyphs" font-family="Liberation Sans, sans-serif" font-weight="bold" font-size="6.3" fill="#111" stroke="#111" stroke-width="0.2" >1.74</text>
<text x="76.30" y="90.70" text-anchor="middle" textLength="14.81" lengthAdjust="spacingAndGlyphs" font-family="Liberation Sans, sans-serif" font-weight="bold" font-size="6.3" fill="#111" stroke="#111" stroke-width="0.2" >2.44</text>
</g>
<g transform="translate(295,448)">
<rect x="0.5" y="0.5" width="120" height="92" fill="#f8f8f8" stroke="#6a6a6a" stroke-width="1"/>
<g clip-path="url(#aus)">
<rect x="0" y="0" width="120" height="92" fill="#f2f3a3"/><path fill-rule="evenodd" fill="#f0de8c" d="M92.0 93.4L-1.6 93.4L-1.6 -1.5L123.2 -1.5L123.2 86.5L104.4 86.8L100.4 86.3L99.2 88.3L95.2 89.3L92.7 87.6Z"/><path fill-rule="evenodd" fill="#eecc6c" d="M76.4 93.4L-1.6 93.4L-1.6 -1.5L123.2 -1.5L123.2 55.3L112.8 55.3L112.0 55.7L111.1 59.6L108.6 62.2L107.4 66.8L105.4 70.0L105.0 73.9L103.7 74.6L111.5 73.9L123.2 74.1L123.2 77.4L103.7 77.1L95.2 78.4L93.3 77.2L92.0 77.0L90.7 75.6L88.1 77.4L87.4 76.8L85.1 76.5L84.8 81.7L83.9 84.9L82.9 85.8L79.0 86.2L77.1 87.4L76.2 89.5ZM45.2 80.4L47.0 78.4L48.8 73.9L53.7 71.9L55.6 70.0L56.0 66.1L54.3 63.4L52.4 62.9L47.2 63.4L41.3 62.7L39.4 63.3L38.0 64.8L37.4 67.4L38.2 71.9L37.8 76.5L38.2 78.4L39.4 80.0L41.3 80.9Z"/><path fill-rule="evenodd" fill="#ecb75a" d="M80.9 73.5L79.0 73.4L77.9 72.6L78.0 71.3L77.2 70.7L77.3 70.0L76.4 69.2L74.4 69.3L73.9 68.7L74.5 68.1L74.4 66.1L73.7 66.1L73.7 66.8L72.5 67.9L70.7 67.4L72.6 64.2L72.5 62.8L71.9 64.0L69.9 64.6L68.6 66.6L67.1 66.8L66.7 70.4L66.0 71.4L64.7 71.8L64.1 71.1L63.7 69.3L64.1 62.2L62.8 60.1L59.5 59.6L57.6 58.2L50.4 58.7L46.5 60.1L41.9 60.0L38.1 61.2L36.0 63.5L33.9 64.8L30.9 70.3L28.3 72.1L25.7 71.8L19.2 69.5L16.6 66.6L13.9 65.4L13.7 64.2L14.8 63.5L14.0 62.7L11.4 62.4L4.2 63.4L-1.6 63.0L-1.6 -1.5L85.9 -1.5L84.3 5.0L84.9 5.2L85.1 4.3L85.7 4.3L86.3 6.3L87.6 8.2L88.1 10.7L90.1 11.9L92.5 14.8L93.3 16.8L97.9 20.2L101.0 24.5L106.7 27.1L107.9 28.4L108.4 31.0L108.3 33.6L107.7 35.5L106.3 37.5L106.9 37.6L110.9 41.4L113.4 41.4L118.7 42.8L123.2 42.8L123.2 46.3L112.8 46.6L112.5 47.9L113.0 48.6L112.2 50.4L110.9 51.6L108.9 52.1L100.4 52.0L89.4 50.8L85.8 51.1L83.6 52.1L82.2 53.7L81.8 55.7L82.0 71.3ZM72.5 70.6L70.6 70.5L70.1 69.3L70.6 68.9L73.8 68.8L74.4 69.3ZM75.1 79.2L72.5 79.1L71.5 77.2L72.1 73.2L74.4 70.5L76.4 71.9L77.6 75.2L77.2 77.8ZM28.3 83.3L26.4 83.2L25.2 81.7L25.6 79.8L27.7 78.3L28.9 79.0L29.4 80.4L29.1 82.3ZM56.9 84.4L54.9 84.3L54.3 83.4L54.3 81.7L56.2 79.3L58.9 79.0L59.7 79.8L59.8 81.7L58.9 83.3ZM68.6 93.4L64.0 93.4L64.2 87.6L65.4 85.7L66.7 85.1L67.9 85.7L68.4 86.9ZM47.8 93.4L36.8 93.4L35.3 90.2L36.2 88.8L38.4 88.2L47.8 88.4L48.9 88.8L49.7 90.2L49.1 92.1L48.3 93.4Z"/><path fill-rule="evenodd" fill="#eea44c" d="M25.1 65.6L22.4 65.9L20.1 64.8L16.3 57.6L13.4 54.6L4.9 54.0L-1.6 54.2L-1.6 50.4L4.2 49.5L10.1 51.2L12.7 51.4L11.7 49.2L11.9 47.3L8.5 44.0L8.5 42.7L8.8 42.4L10.1 44.5L11.3 44.0L9.9 42.7L10.6 42.1L10.5 40.8L9.8 40.1L9.8 37.5L10.5 36.9L11.2 34.2L12.1 34.7L13.4 32.7L15.4 31.6L15.3 27.1L16.7 20.6L16.0 18.0L15.0 16.7L9.3 14.1L8.2 12.8L7.6 8.9L7.6 -1.5L70.6 -1.5L68.8 3.1L68.5 5.6L68.6 6.9L69.9 7.2L70.9 8.2L70.6 9.4L74.2 10.9L76.4 15.4L79.0 17.3L82.2 17.4L83.1 16.7L84.2 13.7L85.5 13.0L86.2 13.3L89.6 16.7L91.1 20.0L93.7 23.2L94.2 25.1L101.7 31.0L102.4 35.5L98.5 38.8L95.9 42.7L93.9 44.3L88.8 45.0L74.4 44.0L65.4 42.7L53.4 45.9L51.9 46.6L50.9 47.9L51.2 54.4L49.6 56.4L46.5 57.6L41.3 57.6L38.7 58.2L31.6 63.9ZM4.9 20.6L3.6 21.0L2.7 20.0L2.8 18.0L3.6 17.3L5.1 18.0Z"/><path fill-rule="evenodd" fill="#ee903e" d="M29.6 61.0L28.3 61.2L27.0 60.5L25.6 54.4L23.9 52.4L20.3 49.9L19.2 47.9L18.8 44.6L19.1 33.0L19.9 31.6L24.5 28.4L23.3 24.5L18.6 15.4L13.0 10.9L11.7 8.9L11.1 5.0L11.9 -1.5L55.7 -1.5L53.2 2.4L52.5 5.6L55.6 6.2L56.9 5.5L57.1 6.3L53.0 7.6L53.5 8.2L54.3 8.9L56.2 8.0L59.5 7.8L59.7 6.9L58.5 5.6L59.5 5.2L62.1 7.3L64.7 8.2L66.3 10.2L67.0 12.1L66.8 14.8L72.5 19.2L80.7 23.9L81.2 25.8L79.8 27.8L74.9 31.0L71.4 36.2L69.2 36.8L62.8 36.8L56.2 41.6L53.7 41.9L51.7 41.2L47.2 36.1L45.2 35.9L43.9 36.6L40.7 42.2L35.1 46.6L34.6 48.6L35.7 53.1L35.5 55.1L32.9 58.5Z"/><path fill-rule="evenodd" fill="#f16a38" d="M21.2 9.8L17.2 9.2L15.8 8.2L15.0 6.9L15.2 3.1L17.8 -1.5L21.7 -1.5L22.0 7.6L21.8 9.1ZM43.9 10.3L41.9 9.9L40.5 6.9L40.5 3.7L41.6 -1.5L44.7 -1.5L45.3 6.9L44.9 8.9ZM45.9 29.1L31.6 28.3L30.9 27.1L31.8 24.5L31.6 23.2L29.0 20.0L26.4 18.7L24.4 17.0L23.2 14.1L23.4 11.5L25.7 11.2L28.0 12.1L28.9 13.6L30.2 18.2L30.9 18.9L32.9 19.4L34.2 19.3L34.8 18.7L36.1 19.2L37.4 18.7L38.2 17.4L43.9 12.3L45.9 12.4L48.4 15.5L49.8 14.9L51.1 15.0L51.7 15.5L51.3 14.8L51.7 13.5L53.7 12.6L56.9 13.3L58.2 16.0L57.2 19.3L51.7 23.3L47.8 28.2Z"/>
</g>
<use href="#coast" fill="none" stroke="#000" stroke-width="0.75"/>
<use href="#isl" clip-path="url(#pclip)" fill="none" stroke="#111" stroke-width="0.65"/>
<use href="#bord" fill="none" stroke="#333" stroke-width="0.5"/>
<text x="2.60" y="9.50" text-anchor="start" textLength="7.95" lengthAdjust="spacingAndGlyphs" font-family="Liberation Sans, sans-serif" font-weight="bold" font-size="9.4" fill="#000" stroke="#000" stroke-width="0.2" >w</text>
<path d="M10.5 81.3H76.3M10.5 78.7V83.89999999999999M76.3 78.7V83.89999999999999" stroke="#2a2a2a" stroke-width="1" fill="none"/>
<circle cx="35.8" cy="81.3" r="2.2" fill="#0000ff"/>
<text x="35.81" y="77.00" text-anchor="middle" textLength="14.81" lengthAdjust="spacingAndGlyphs" font-family="Liberation Sans, sans-serif" font-weight="bold" font-size="6.3" fill="#111" stroke="#111" stroke-width="0.2" >1.93</text>
<text x="10.50" y="90.70" text-anchor="middle" textLength="14.81" lengthAdjust="spacingAndGlyphs" font-family="Liberation Sans, sans-serif" font-weight="bold" font-size="6.3" fill="#111" stroke="#111" stroke-width="0.2" >1.58</text>
<text x="76.30" y="90.70" text-anchor="middle" textLength="14.81" lengthAdjust="spacingAndGlyphs" font-family="Liberation Sans, sans-serif" font-weight="bold" font-size="6.3" fill="#111" stroke="#111" stroke-width="0.2" >2.49</text>
</g>
<g transform="translate(425,448)">
<rect x="0.5" y="0.5" width="120" height="92" fill="#f8f8f8" stroke="#6a6a6a" stroke-width="1"/>
<g clip-path="url(#aus)">
<rect x="0" y="0" width="120" height="92" fill="#f0de8c"/><path fill-rule="evenodd" fill="#eecc6c" d="M76.4 93.4L62.4 93.4L62.3 81.1L63.7 73.9L63.4 72.4L62.1 71.5L60.8 72.0L54.3 78.9L51.1 84.2L45.9 87.5L45.1 89.5L45.3 93.4L-1.6 93.4L-1.6 -1.5L123.2 -1.5L123.2 71.2L118.7 71.2L113.4 70.0L110.8 70.0L108.4 71.9L106.1 77.2L104.4 78.2L102.4 78.6L97.9 78.6L95.9 77.8L95.2 78.4L93.9 76.9L92.0 76.6L90.7 74.9L88.1 77.0L87.4 76.4L84.6 76.5L85.1 80.4L84.8 82.3L83.7 83.7L79.2 85.6L77.6 86.9L76.7 88.8L76.8 93.4ZM97.2 90.0L94.6 89.9L94.2 89.5L90.8 83.7L91.4 81.8L93.9 83.1L97.2 83.3L97.9 82.7L99.8 82.8L100.7 83.7L100.8 85.6L99.6 88.2Z"/><path fill-rule="evenodd" fill="#ecb75a" d="M73.8 80.6L72.5 80.9L71.5 80.4L70.5 76.5L70.4 73.2L71.1 70.7L70.2 70.0L70.2 69.3L74.5 68.1L74.4 65.9L73.6 66.1L73.6 66.8L72.5 67.9L70.9 67.4L72.7 64.2L72.5 63.0L71.9 64.0L69.9 64.5L68.6 66.0L67.9 66.0L66.9 65.4L66.4 64.2L64.7 62.8L61.5 61.6L61.3 60.3L59.5 60.1L57.6 58.6L50.4 58.8L46.5 60.7L41.9 60.6L40.0 62.0L38.7 62.0L36.8 64.6L27.0 64.5L21.8 67.6L18.6 67.7L15.3 65.9L14.0 65.9L13.5 64.2L15.5 62.9L15.4 57.6L13.7 54.4L13.7 52.4L11.6 49.2L11.6 47.3L8.3 44.0L8.8 42.2L10.1 44.2L10.9 44.0L9.6 42.7L10.3 42.1L10.3 40.8L9.6 40.1L9.6 37.5L10.3 36.9L10.9 34.2L11.4 33.8L12.1 34.4L13.4 32.5L15.3 31.8L17.9 29.9L21.2 29.9L21.8 29.3L23.8 29.3L27.7 27.3L28.9 27.3L31.7 24.5L33.0 21.9L33.0 20.6L34.8 18.8L36.1 20.8L36.3 19.3L37.4 18.8L41.9 13.6L42.6 13.6L43.9 12.3L45.9 12.3L48.4 15.6L49.1 14.9L51.1 14.9L51.7 15.6L51.2 13.5L54.5 9.5L54.5 8.9L56.2 7.8L59.7 7.6L59.7 6.9L58.4 5.6L58.9 5.2L60.8 5.8L62.1 7.1L65.4 7.1L66.0 7.8L69.9 7.1L71.0 8.2L70.4 9.5L68.4 10.9L68.4 12.8L67.1 14.1L67.1 14.8L72.5 18.9L75.8 20.3L77.1 21.5L78.3 21.2L79.7 18.5L83.0 16.7L83.1 8.9L85.5 3.8L87.9 8.2L87.8 10.9L88.4 11.5L88.4 12.8L90.1 13.7L91.4 13.7L92.5 14.8L92.4 19.3L94.1 22.5L94.6 25.2L96.6 25.8L102.4 24.9L104.5 25.1L105.7 26.1L108.2 31.6L110.9 33.2L123.2 32.4L123.2 47.6L112.8 47.9L113.3 48.6L113.0 53.1L112.0 55.7L112.2 57.1L123.2 57.2L123.2 62.2L108.9 62.2L103.5 72.6L101.8 73.7L97.2 72.8L94.4 68.7L91.4 67.2L87.4 67.1L84.9 67.9L83.2 69.3L81.4 72.6L80.3 73.4L79.0 73.4L77.9 72.6L78.0 71.3L77.2 70.7L77.2 70.0L75.9 69.3L77.2 72.6L77.7 76.5L76.4 79.1ZM55.6 7.4L53.0 7.4L52.5 6.3L56.9 5.2L57.4 6.3ZM70.6 13.3L69.4 12.8L69.9 11.7L71.0 12.8ZM77.7 19.8L76.6 19.3L77.7 18.8L78.3 19.3ZM51.1 72.1L49.8 72.4L48.6 71.9L48.9 68.7L50.4 66.3L53.0 65.6L54.3 66.7L54.3 68.7L53.0 70.9ZM43.2 79.2L41.3 78.4L41.0 77.2L41.5 75.8L43.2 74.4L46.5 74.0L47.0 75.2L46.3 77.2L45.2 78.4ZM36.8 93.4L32.9 93.4L33.1 87.6L34.1 85.6L35.4 84.9L36.8 85.7L37.3 87.6L37.4 93.4Z"/><path fill-rule="evenodd" fill="#eea44c" d="M94.6 51.3L92.7 51.4L90.7 50.4L87.4 45.9L82.9 42.1L81.7 40.1L80.7 25.8L82.2 22.9L84.9 20.7L86.7 20.6L88.1 21.3L91.4 26.5L93.3 28.1L100.7 30.4L102.5 33.0L105.4 35.5L105.9 37.5L106.9 38.0L110.9 42.1L110.9 43.6L109.6 44.7L103.1 43.9L100.4 44.4L98.8 45.9L96.6 49.9ZM30.9 60.4L25.1 60.8L21.2 59.6L19.9 58.3L19.2 56.4L19.9 53.2L21.8 51.7L25.1 50.8L28.9 50.9L32.2 51.8L34.1 53.8L34.7 56.4L33.6 58.9ZM69.2 60.3L67.3 59.9L66.1 58.9L65.2 57.0L65.3 55.1L66.3 53.1L67.9 51.8L69.9 51.3L71.9 51.6L73.2 52.3L74.2 53.8L74.3 57.0L72.5 58.9Z"/>
</g>
<use href="#coast" fill="none" stroke="#000" stroke-width="0.75"/>
<use href="#isl" clip-path="url(#pclip)" fill="none" stroke="#111" stroke-width="0.65"/>
<use href="#bord" fill="none" stroke="#333" stroke-width="0.5"/>
<text x="2.60" y="9.50" text-anchor="start" textLength="5.55" lengthAdjust="spacingAndGlyphs" font-family="Liberation Sans, sans-serif" font-weight="bold" font-size="9.4" fill="#000" stroke="#000" stroke-width="0.2" >x</text>
<path d="M10.5 81.3H76.3M10.5 78.7V83.89999999999999M76.3 78.7V83.89999999999999" stroke="#2a2a2a" stroke-width="1" fill="none"/>
<circle cx="44.2" cy="81.3" r="2.2" fill="#0000ff"/>
<text x="44.20" y="77.00" text-anchor="middle" textLength="14.81" lengthAdjust="spacingAndGlyphs" font-family="Liberation Sans, sans-serif" font-weight="bold" font-size="6.3" fill="#111" stroke="#111" stroke-width="0.2" >1.85</text>
<text x="10.50" y="90.70" text-anchor="middle" textLength="14.81" lengthAdjust="spacingAndGlyphs" font-family="Liberation Sans, sans-serif" font-weight="bold" font-size="6.3" fill="#111" stroke="#111" stroke-width="0.2" >1.64</text>
<text x="76.30" y="90.70" text-anchor="middle" textLength="14.81" lengthAdjust="spacingAndGlyphs" font-family="Liberation Sans, sans-serif" font-weight="bold" font-size="6.3" fill="#111" stroke="#111" stroke-width="0.2" >2.05</text>
</g>
<g transform="translate(555,448)">
<rect x="0.5" y="0.5" width="120" height="92" fill="#f8f8f8" stroke="#6a6a6a" stroke-width="1"/>
<g clip-path="url(#aus)">
<rect x="0" y="0" width="120" height="92" fill="#f2f3a3"/><path fill-rule="evenodd" fill="#f0de8c" d="M92.7 93.4L-1.6 93.4L-1.6 -1.5L123.2 -1.5L123.2 87.0L104.4 87.3L100.4 86.8L93.9 87.7L92.8 88.2L92.6 88.8Z"/><path fill-rule="evenodd" fill="#eecc6c" d="M90.7 93.4L-1.6 93.4L-1.6 -1.5L123.2 -1.5L123.2 84.7L101.1 84.7L92.0 85.7L90.7 88.8Z"/><path fill-rule="evenodd" fill="#ecb75a" d="M88.8 93.4L-1.6 93.4L-1.6 -1.5L84.7 -1.5L85.6 3.7L87.7 8.2L87.5 10.9L88.1 13.3L90.1 14.1L91.4 14.0L92.2 14.8L92.7 17.6L97.2 18.5L100.6 17.4L104.2 12.1L109.6 8.2L110.2 4.3L108.5 -1.5L123.2 -1.5L123.2 82.9L100.4 82.9L99.8 83.3L97.2 82.6L93.9 82.7L92.7 83.8L90.7 84.2L89.8 85.6L89.1 88.8L89.1 93.4ZM97.9 7.7L96.6 7.6L95.6 5.6L95.9 3.7L97.2 2.5L98.5 3.0L99.4 5.0L99.2 6.6ZM43.1 81.1L45.2 80.5L46.6 79.1L48.5 73.2L53.7 71.8L56.3 70.0L57.4 66.8L56.2 64.6L53.0 63.4L41.3 63.3L38.7 63.7L37.1 64.8L36.4 66.8L38.2 71.9L38.3 78.4L40.0 80.4Z"/><path fill-rule="evenodd" fill="#eea44c" d="M86.8 93.4L62.4 93.4L62.9 80.4L62.3 73.9L63.7 66.1L62.3 63.5L58.9 61.4L53.7 60.4L41.9 60.6L38.1 61.4L31.9 64.2L27.0 64.6L21.2 66.9L19.2 67.0L15.3 65.5L14.0 65.5L13.6 64.2L14.7 63.4L-1.6 63.4L-1.6 -1.5L54.5 -1.5L53.1 5.6L55.6 6.2L56.9 5.6L57.0 6.3L53.4 7.6L54.3 9.2L56.2 8.0L59.5 7.9L59.8 6.9L58.9 5.4L60.8 5.8L62.1 7.0L65.4 7.0L66.0 7.7L69.9 7.1L71.1 8.2L70.4 9.5L68.2 10.9L68.0 12.8L66.5 14.1L66.7 14.9L69.9 16.8L71.1 16.7L74.4 13.6L76.7 16.7L79.1 18.6L81.6 19.8L84.9 18.8L88.8 19.7L92.2 21.9L94.6 24.9L103.1 25.0L105.0 25.5L105.9 26.5L108.0 31.6L110.2 33.3L123.2 32.5L123.2 81.1L95.2 80.9L90.7 81.5L89.2 82.3L88.0 84.3L87.4 93.4ZM74.4 11.9L73.2 10.1L72.1 6.3L72.9 -1.5L75.8 -1.5L76.4 3.4L76.3 7.6ZM121.2 11.1L119.3 11.1L118.0 8.9L118.2 -1.5L123.2 -1.5L123.2 10.0ZM64.7 6.6L63.2 6.3L62.9 5.0L63.4 4.2L64.7 4.1L65.6 5.0L65.4 6.1ZM70.6 13.2L69.6 12.8L69.9 11.8L71.0 12.8ZM113.4 22.6L110.2 22.9L108.6 21.9L108.9 18.7L110.9 16.8L113.4 16.5L115.1 18.0L115.2 21.2ZM27.7 80.5L25.1 78.5L22.2 74.6L23.7 72.6L27.7 70.9L29.6 71.8L30.3 74.6L29.6 78.4L28.9 79.7ZM56.2 82.4L55.6 82.8L54.8 82.3L55.3 81.1L56.2 80.6L56.7 81.1ZM49.8 93.4L36.5 93.4L34.9 90.2L35.9 88.8L38.3 88.2L49.1 88.4L50.2 88.8L50.8 90.2Z"/><path fill-rule="evenodd" fill="#ee903e" d="M84.9 93.4L78.9 93.4L79.1 89.5L78.4 87.4L76.4 86.2L72.5 86.1L71.2 85.1L69.9 74.6L70.6 70.7L70.2 69.3L71.2 68.7L70.8 67.4L71.3 65.4L71.0 64.8L69.9 64.4L67.9 64.7L62.8 59.8L57.6 58.5L50.4 58.5L37.4 59.5L28.9 61.8L23.8 62.2L18.6 61.7L16.6 60.7L15.3 59.2L14.0 59.0L-1.6 59.4L-1.6 -1.5L15.7 -1.5L13.9 4.3L13.9 6.3L14.6 8.2L18.6 11.6L22.2 16.0L27.7 18.8L30.1 23.2L31.6 24.3L34.8 18.8L35.8 19.3L36.6 18.0L38.1 17.4L43.9 12.5L45.9 12.6L48.4 15.6L49.1 15.1L51.1 15.2L51.7 15.7L52.4 13.9L54.9 13.7L59.5 17.3L62.3 18.6L77.7 22.8L85.5 22.5L93.3 26.7L99.1 29.0L100.9 30.4L106.3 37.9L110.2 40.8L114.4 42.7L115.6 46.6L116.6 47.9L119.3 48.9L123.2 48.7L123.2 63.4L118.0 63.4L112.2 62.3L109.6 62.9L108.2 63.9L107.2 66.8L105.2 70.0L105.4 71.9L104.9 72.6L110.9 71.5L123.2 71.8L123.2 78.5L86.4 78.4L85.0 79.8L84.5 81.7ZM44.6 9.1L43.2 9.5L41.4 8.9L39.8 6.3L40.4 2.4L43.1 -1.5L44.6 0.1L45.6 3.7L45.6 6.9ZM26.4 7.2L25.1 7.3L23.8 6.2L23.9 4.3L25.1 3.2L26.4 3.3L27.2 4.3L27.2 6.3Z"/><path fill-rule="evenodd" fill="#f16a38" d="M4.9 11.3L2.9 11.2L1.4 8.9L1.1 5.0L1.6 -1.5L6.0 -1.5L6.3 8.2L5.8 10.2ZM95.9 75.9L95.2 76.4L92.7 76.0L90.7 75.0L88.8 75.3L85.5 74.8L80.3 74.9L77.8 72.6L77.5 70.0L75.8 68.1L75.6 65.4L74.3 64.2L73.6 61.6L73.2 61.1L69.9 61.4L61.4 57.3L57.6 56.7L34.2 57.0L26.4 59.4L23.1 59.7L18.6 58.8L14.0 55.0L12.7 54.6L4.2 55.1L-1.6 54.8L-1.6 48.6L1.7 49.9L4.2 50.3L6.2 49.8L7.5 48.6L8.2 45.9L8.0 38.8L8.6 36.2L11.4 33.7L12.1 34.1L13.4 32.6L15.3 31.8L16.2 30.4L15.9 26.7L14.7 22.0L10.7 19.3L10.1 17.3L10.8 16.6L12.7 16.7L16.6 19.2L23.8 21.3L25.7 22.9L28.9 27.2L33.5 26.2L39.0 21.2L40.7 20.4L53.0 19.5L63.4 22.9L70.6 27.6L73.8 27.9L82.9 26.7L97.2 31.7L103.8 39.5L110.0 44.6L111.9 49.2L112.8 53.1L111.2 57.0L109.6 58.9L103.7 64.9L98.5 68.3L97.8 70.0L97.3 74.6ZM77.7 76.2L77.4 75.2L78.4 73.9L78.5 75.2Z"/><path fill-rule="evenodd" fill="#e8553a" d="M99.2 60.9L90.7 59.3L77.7 59.8L69.9 57.8L63.4 54.3L60.2 53.5L53.0 54.0L40.7 53.8L32.9 52.9L30.9 53.3L25.1 56.8L21.2 56.8L18.7 55.7L16.4 53.8L12.8 48.6L11.8 45.3L12.2 38.8L13.4 37.3L17.8 34.2L20.1 31.0L22.4 29.0L21.7 27.1L22.4 26.0L23.2 26.5L24.1 28.4L25.7 28.3L30.2 29.9L33.5 29.7L38.7 27.8L40.7 27.7L41.8 29.0L43.9 34.3L48.8 38.1L52.5 42.7L55.6 44.0L63.4 43.6L72.5 44.7L77.1 44.4L80.0 42.7L82.9 38.0L84.9 36.2L88.8 34.8L92.7 34.8L95.2 36.5L98.9 41.4L104.8 46.6L106.6 49.9L106.5 53.1L104.4 57.0L101.8 59.9Z"/>
</g>
<use href="#coast" fill="none" stroke="#000" stroke-width="0.75"/>
<use href="#isl" clip-path="url(#pclip)" fill="none" stroke="#111" stroke-width="0.65"/>
<use href="#bord" fill="none" stroke="#333" stroke-width="0.5"/>
<text x="2.60" y="9.50" text-anchor="start" textLength="5.61" lengthAdjust="spacingAndGlyphs" font-family="Liberation Sans, sans-serif" font-weight="bold" font-size="9.4" fill="#000" stroke="#000" stroke-width="0.2" >y</text>
<path d="M10.5 81.3H76.3M10.5 78.7V83.89999999999999M76.3 78.7V83.89999999999999" stroke="#2a2a2a" stroke-width="1" fill="none"/>
<circle cx="39.2" cy="81.3" r="2.2" fill="#0000ff"/>
<text x="39.18" y="77.00" text-anchor="middle" textLength="14.81" lengthAdjust="spacingAndGlyphs" font-family="Liberation Sans, sans-serif" font-weight="bold" font-size="6.3" fill="#111" stroke="#111" stroke-width="0.2" >2.36</text>
<text x="10.50" y="90.70" text-anchor="middle" textLength="14.81" lengthAdjust="spacingAndGlyphs" font-family="Liberation Sans, sans-serif" font-weight="bold" font-size="6.3" fill="#111" stroke="#111" stroke-width="0.2" >2.02</text>
<text x="76.30" y="90.70" text-anchor="middle" textLength="14.81" lengthAdjust="spacingAndGlyphs" font-family="Liberation Sans, sans-serif" font-weight="bold" font-size="6.3" fill="#111" stroke="#111" stroke-width="0.2" >2.80</text>
</g>
<g transform="translate(35,557)">
<rect x="0.5" y="0.5" width="120" height="92" fill="#f8f8f8" stroke="#6a6a6a" stroke-width="1"/>
<g clip-path="url(#aus)">
<rect x="0" y="0" width="120" height="92" fill="#f0de8c"/><path fill-rule="evenodd" fill="#eecc6c" d="M123.2 93.4L-1.6 93.4L-1.6 -1.5L123.2 -1.5ZM47.1 78.4L49.0 74.6L54.3 71.6L55.6 70.0L55.9 68.1L55.3 65.4L54.3 63.7L53.0 62.8L51.1 62.4L48.4 62.9L45.6 64.2L44.4 65.4L44.2 67.4L45.9 72.6L44.7 77.8L45.9 78.9Z"/><path fill-rule="evenodd" fill="#ecb75a" d="M76.4 93.4L62.4 93.4L62.1 82.3L63.2 76.5L63.1 73.2L57.0 60.9L55.2 59.6L53.0 59.3L41.3 61.9L38.6 63.5L37.4 65.4L38.5 79.1L40.1 81.7L47.3 88.8L47.7 90.8L47.2 93.4L-1.6 93.4L-1.6 -1.5L123.2 -1.5L123.2 86.6L116.1 86.4L112.9 85.6L111.7 84.3L109.6 79.7L106.9 78.0L104.4 77.9L97.2 79.2L88.1 77.9L85.5 78.9L82.2 83.5L77.6 86.9L76.7 88.8L76.8 93.4ZM55.6 83.7L54.7 83.0L54.9 81.1L55.6 80.3L56.9 80.1L57.8 81.7L57.0 83.0ZM97.2 90.0L94.6 90.0L94.1 89.5L91.2 83.7L91.4 82.2L93.9 83.4L99.8 82.8L100.7 83.7L100.8 85.6L99.6 88.2ZM89.4 93.4L88.1 93.4L87.2 91.4L87.2 89.5L88.1 88.6L90.1 88.8L91.0 90.2L90.7 91.4Z"/><path fill-rule="evenodd" fill="#eea44c" d="M22.4 93.4L-1.6 93.4L-1.6 -1.5L85.9 -1.5L84.3 3.7L84.1 6.3L85.5 4.1L87.6 8.2L88.1 10.7L92.5 14.8L93.3 16.9L97.9 20.2L101.1 24.6L105.8 27.8L108.9 32.5L110.2 33.2L112.2 33.5L118.0 32.4L123.2 32.4L123.2 47.0L118.0 47.1L116.6 47.9L115.1 49.9L112.0 55.7L111.1 59.6L108.6 62.2L108.1 63.5L108.2 65.1L110.2 65.7L111.4 66.8L111.7 68.1L110.9 69.3L105.7 70.1L105.2 71.9L103.9 73.2L102.4 73.8L98.5 74.0L95.2 75.0L90.7 74.1L88.1 74.7L80.3 74.7L77.8 72.6L77.9 71.3L76.4 69.1L74.4 69.2L74.0 68.7L74.7 68.1L74.4 65.8L73.5 66.1L72.5 67.8L70.8 67.4L72.8 64.2L72.5 62.6L72.2 63.5L69.9 64.6L68.6 66.6L67.3 66.6L63.4 63.7L62.8 60.2L60.2 59.2L57.6 57.5L53.0 57.4L41.3 59.8L37.7 60.9L34.8 62.9L30.0 64.8L28.3 68.6L23.8 70.5L22.5 71.9L22.0 74.6L22.9 81.7ZM73.4 61.6L72.9 61.6ZM72.5 70.6L70.6 70.5L70.1 69.3L70.6 68.9L73.8 68.9L74.3 69.3ZM73.2 81.2L71.9 81.3L71.2 80.6L70.7 77.2L71.3 72.6L71.9 71.5L73.2 71.0L76.8 72.6L77.9 75.2L77.0 78.4ZM121.9 79.1L119.3 79.2L117.4 78.1L116.5 75.2L117.4 73.3L119.3 72.7L123.2 72.9L123.2 78.9ZM38.1 93.4L32.2 93.4L32.2 88.2L33.3 86.2L36.1 86.4L38.4 88.2L39.0 90.8L38.6 93.4Z"/><path fill-rule="evenodd" fill="#ee903e" d="M19.9 66.8L17.2 66.8L15.3 65.7L14.0 65.7L13.6 64.2L14.7 63.7L14.7 62.9L-1.6 63.4L-1.6 -1.5L31.1 -1.5L29.8 4.3L30.2 8.0L38.1 16.4L39.4 16.0L39.9 14.1L38.8 6.9L39.1 -1.5L53.8 -1.5L54.3 5.6L57.1 5.6L56.9 6.5L54.2 7.6L53.8 9.5L54.3 9.7L54.4 8.9L56.2 8.0L59.5 8.0L59.9 6.9L58.9 5.4L60.8 5.9L62.1 7.2L65.4 7.1L66.0 7.8L69.9 7.1L71.1 8.2L69.2 10.7L68.4 10.9L68.5 12.8L67.2 14.1L67.2 14.8L72.5 18.9L75.8 20.2L78.4 22.0L80.3 22.0L81.0 21.2L79.8 19.3L80.3 17.0L82.9 16.6L83.6 14.1L85.5 12.9L89.5 16.7L91.1 20.0L93.7 23.2L94.2 25.1L100.9 30.4L105.0 35.8L105.7 37.6L110.8 41.4L112.4 44.0L110.6 50.5L108.9 51.9L106.3 52.4L97.9 51.7L86.2 51.9L83.3 50.5L80.2 45.9L78.4 44.4L75.1 43.5L70.6 43.9L68.0 45.3L65.4 49.5L63.4 51.2L56.2 52.1L51.5 55.1L46.4 57.0L33.5 58.1L24.4 64.9ZM74.4 10.3L73.2 9.5L72.5 8.2L72.2 3.7L73.1 -1.5L75.8 -1.5L76.2 7.6L75.8 9.5ZM70.6 13.3L69.4 12.8L69.9 11.7L71.0 12.8ZM77.7 19.8L76.6 19.3L77.7 18.8L78.2 19.3ZM13.4 93.4L9.8 93.4L10.3 81.7L7.8 74.6L9.3 71.9L12.1 70.6L13.7 71.3L14.4 73.9L13.6 82.3L13.8 93.4Z"/><path fill-rule="evenodd" fill="#f16a38" d="M23.1 60.5L21.2 60.9L19.2 60.4L15.0 56.4L14.0 56.1L7.5 59.3L-1.6 59.3L-1.6 -1.5L16.0 -1.5L13.9 3.7L14.2 7.6L15.9 9.4L19.9 11.1L21.8 15.4L23.1 16.8L25.1 17.3L28.9 17.0L30.2 17.8L31.1 19.3L31.4 21.2L30.0 25.8L31.8 24.5L33.5 20.5L34.8 20.4L35.4 21.4L36.8 21.7L40.7 19.7L44.1 13.5L45.9 12.6L48.4 16.0L49.9 16.0L56.5 21.9L57.9 23.9L58.6 27.8L57.8 41.4L56.3 43.4L51.2 46.6L48.2 52.4L46.3 53.8L43.2 54.2L34.2 51.8L30.2 51.9L28.3 53.4L25.3 58.9Z"/><path fill-rule="evenodd" fill="#e8553a" d="M4.9 11.6L2.9 11.5L1.5 9.5L1.0 5.6L1.4 -1.5L6.2 -1.5L6.3 8.2L5.9 10.2ZM14.7 22.0L12.1 21.9L10.1 20.7L9.4 18.6L10.1 16.7L12.7 16.5L14.7 17.9L15.5 20.6ZM4.2 55.7L-1.6 54.6L-1.6 49.0L6.2 49.1L9.4 48.4L10.3 46.6L8.4 44.0L8.4 42.7L8.8 42.2L10.0 43.4L10.0 44.0L10.8 44.0L9.6 42.7L10.2 42.1L9.6 37.5L10.3 36.9L10.3 35.5L11.4 33.8L12.1 34.5L13.4 32.5L17.3 30.4L17.3 26.5L17.9 24.6L19.2 24.2L21.2 24.6L22.7 26.5L22.6 29.0L23.8 29.4L24.4 29.0L25.7 29.7L28.5 33.6L33.9 38.1L34.7 40.8L34.4 42.7L33.3 44.0L31.6 44.8L24.4 44.0L21.8 44.6L20.0 46.6L18.3 50.5L16.6 51.9L14.0 51.5L12.4 50.5L11.4 48.9L10.3 49.9L7.8 54.4Z"/>
</g>
<use href="#coast" fill="none" stroke="#000" stroke-width="0.75"/>
<use href="#isl" clip-path="url(#pclip)" fill="none" stroke="#111" stroke-width="0.65"/>
<use href="#bord" fill="none" stroke="#333" stroke-width="0.5"/>
<text x="2.60" y="9.50" text-anchor="start" textLength="5.01" lengthAdjust="spacingAndGlyphs" font-family="Liberation Sans, sans-serif" font-weight="bold" font-size="9.4" fill="#000" stroke="#000" stroke-width="0.2" >z</text>
<path d="M10.5 81.3H76.3M10.5 78.7V83.89999999999999M76.3 78.7V83.89999999999999" stroke="#6a6a6a" stroke-width="1" fill="none"/>
<circle cx="45.6" cy="81.3" r="2.2" fill="#0000ff"/>
<text x="45.64" y="77.00" text-anchor="middle" textLength="14.81" lengthAdjust="spacingAndGlyphs" font-family="Liberation Sans, sans-serif" font-weight="bold" font-size="6.3" fill="#111" stroke="#111" stroke-width="0.2" >2.25</text>
<text x="10.50" y="90.70" text-anchor="middle" textLength="14.81" lengthAdjust="spacingAndGlyphs" font-family="Liberation Sans, sans-serif" font-weight="bold" font-size="6.3" fill="#111" stroke="#111" stroke-width="0.2" >1.78</text>
<text x="76.30" y="90.70" text-anchor="middle" textLength="14.81" lengthAdjust="spacingAndGlyphs" font-family="Liberation Sans, sans-serif" font-weight="bold" font-size="6.3" fill="#111" stroke="#111" stroke-width="0.2" >2.66</text>
</g>
<g transform="translate(165,557)">
<rect x="0.5" y="0.5" width="120" height="92" fill="#f8f8f8" stroke="#6a6a6a" stroke-width="1"/>
<g clip-path="url(#aus)">
<rect x="0" y="0" width="120" height="92" fill="#eecc6c"/><path fill-rule="evenodd" fill="#ecb75a" d="M92.0 93.4L-1.6 93.4L-1.6 -1.5L123.2 -1.5L123.2 86.9L104.4 87.1L100.4 86.6L99.2 87.7L96.6 88.6L95.2 88.8L93.3 87.9L92.5 88.8L92.6 93.4Z"/><path fill-rule="evenodd" fill="#eea44c" d="M88.8 93.4L39.0 93.4L39.1 86.9L40.1 83.7L41.3 82.3L46.0 79.8L49.1 74.2L54.3 71.5L56.2 69.0L56.6 66.8L55.9 64.8L54.1 63.5L51.1 63.0L43.2 63.7L38.1 63.3L36.8 64.3L29.0 64.8L23.5 70.7L22.2 72.6L21.9 74.6L22.9 81.7L22.6 93.4L-1.6 93.4L-1.6 -1.5L123.2 -1.5L123.2 82.9L100.4 82.4L99.2 83.6L97.8 83.0L99.0 82.3L93.9 82.4L92.7 84.3L90.7 83.7L89.8 84.9L89.1 87.6ZM35.4 78.1L33.5 77.8L32.4 76.5L31.9 74.6L32.9 73.1L35.4 73.0L37.3 73.9L37.4 75.9Z"/><path fill-rule="evenodd" fill="#ee903e" d="M84.2 93.4L79.8 93.4L80.1 89.5L79.2 87.6L77.1 86.3L72.5 85.0L71.1 83.7L70.4 81.1L70.0 75.2L70.5 70.7L70.1 69.3L71.0 68.1L70.8 64.8L69.9 64.6L68.6 66.3L67.3 66.3L65.4 63.4L62.8 63.1L55.6 59.9L50.4 59.4L46.5 60.2L41.9 60.2L29.6 61.6L26.4 63.0L21.2 67.0L17.9 67.9L12.7 72.4L11.4 72.4L5.6 70.4L-1.6 70.8L-1.6 -1.5L16.8 -1.5L13.9 3.7L13.7 5.6L14.3 7.6L15.7 8.9L19.9 10.9L23.1 16.3L28.3 19.8L31.6 24.4L32.7 23.2L33.4 21.9L33.3 20.6L34.4 19.3L34.8 18.8L35.6 19.3L35.6 17.4L38.1 17.3L43.9 12.6L45.9 12.6L48.4 15.7L49.8 15.1L51.1 15.1L51.7 15.7L52.0 15.4L51.5 14.8L51.5 13.5L54.9 8.4L56.2 7.7L59.6 7.6L59.6 6.9L58.3 5.6L58.9 5.1L60.8 5.8L62.1 7.1L65.4 7.1L66.0 7.8L69.9 7.1L71.0 8.2L70.3 9.5L68.3 10.9L68.2 12.8L66.9 14.1L67.9 15.7L70.6 17.3L82.9 16.8L83.4 14.1L83.1 8.9L85.5 3.8L87.9 8.2L87.8 10.9L88.5 11.5L88.5 12.8L90.1 13.6L91.4 13.6L92.6 14.8L92.2 19.3L94.6 24.8L104.4 25.4L105.7 26.8L107.6 31.3L110.2 33.0L123.2 32.4L123.2 46.6L118.7 46.6L117.3 47.3L116.9 48.6L118.7 50.0L123.2 50.0L123.2 71.1L119.9 71.4L114.1 69.9L111.5 69.8L109.4 70.7L108.6 72.6L109.6 74.8L111.5 75.8L113.4 75.7L119.3 73.4L123.2 73.7L123.2 78.0L111.5 77.6L97.2 78.9L86.8 78.1L85.4 79.1L84.4 81.7L84.8 90.8L84.8 93.4ZM27.0 8.3L24.4 8.0L23.2 6.3L23.6 3.1L25.7 1.5L27.7 2.0L28.8 4.3L28.7 6.9ZM55.6 7.5L53.0 7.5L52.4 6.3L53.0 5.7L55.6 5.7L56.9 5.1L57.5 6.3ZM35.4 17.2L32.2 15.8L31.6 14.1L32.2 12.1L33.5 11.8L34.8 12.8L35.6 15.4ZM70.6 13.1L69.6 12.8L69.9 11.8L70.8 12.8ZM95.2 13.5L95.6 13.5ZM13.4 93.4L9.9 93.4L9.1 81.7L10.1 79.0L12.1 77.4L13.4 78.4L14.1 81.1ZM56.9 84.3L55.5 84.3L54.5 83.7L54.6 81.1L56.2 78.9L59.5 78.0L60.5 79.8L60.0 82.3L58.9 83.7ZM51.7 93.4L46.7 93.4L46.3 89.5L47.8 87.3L49.8 86.6L51.7 86.9L52.4 90.8L52.3 93.4Z"/><path fill-rule="evenodd" fill="#f16a38" d="M95.9 75.9L92.7 75.3L90.7 74.3L81.6 75.3L79.0 74.4L77.8 72.6L77.4 70.0L75.7 68.1L75.6 65.4L74.6 64.2L74.5 61.6L73.8 60.3L71.9 59.6L66.0 59.4L60.2 58.5L57.6 57.6L50.4 57.3L45.2 57.9L27.0 58.0L24.4 59.1L19.3 64.2L16.6 65.0L14.0 64.8L13.7 64.2L14.0 63.6L14.7 63.8L14.7 63.2L12.1 63.6L4.9 63.0L-1.6 63.1L-1.6 -1.5L11.7 -1.5L10.5 5.0L11.3 8.9L12.7 10.4L18.0 13.5L21.8 18.3L26.0 21.9L28.9 26.6L29.6 26.8L33.5 26.5L39.0 21.2L41.9 20.0L53.7 20.0L60.8 20.9L69.9 21.0L78.4 22.6L80.3 22.5L84.9 20.5L86.8 21.1L91.6 25.8L97.2 28.0L100.4 29.9L103.6 34.9L105.1 36.2L105.7 37.8L108.5 39.5L111.9 42.7L112.2 44.0L111.6 47.9L112.4 52.4L112.2 56.8L123.2 56.5L123.2 62.7L108.9 62.2L104.5 69.3L103.1 73.2L102.4 73.9L99.2 74.5Z"/><path fill-rule="evenodd" fill="#e8553a" d="M5.6 11.5L2.3 11.5L0.9 10.2L0.3 6.3L0.6 -1.5L6.7 -1.5L6.7 8.9L6.3 10.9ZM17.9 57.7L17.2 57.9L15.2 57.0L14.0 55.0L12.1 55.8L10.1 55.3L6.3 52.4L6.5 51.8L9.4 51.2L12.1 51.7L13.4 52.7L11.5 49.2L11.5 47.3L8.3 44.0L7.8 36.9L8.3 27.1L7.6 17.4L7.9 14.8L9.3 13.5L13.4 13.6L16.6 15.1L20.5 19.9L24.4 23.2L26.8 27.8L29.6 29.4L33.5 30.0L39.4 27.6L41.1 27.8L43.7 33.6L46.5 35.6L50.4 36.3L54.3 35.6L56.9 33.8L59.7 29.7L61.2 28.4L64.1 27.4L67.9 27.3L70.1 27.8L71.9 28.8L74.9 33.6L79.9 37.5L81.2 39.5L81.2 41.4L80.4 42.7L76.0 45.9L72.5 51.1L70.6 52.3L68.6 52.3L66.8 51.1L64.7 45.9L62.5 44.0L60.2 43.6L54.3 44.3L47.8 44.2L45.8 44.6L43.8 45.9L41.6 51.1L40.0 52.8L34.2 53.6L25.7 51.7L23.1 51.8L21.2 53.0ZM96.6 37.0L93.3 37.1L90.7 36.0L89.1 33.6L89.4 30.9L90.7 30.0L92.7 29.7L95.2 30.2L97.2 31.2L98.2 32.3L98.8 34.2L97.9 36.2ZM-0.3 53.2L-1.6 53.5L-1.6 51.4L0.9 51.8L1.2 52.4Z"/><path fill-rule="evenodd" fill="#e04242" d="M22.4 44.8L18.6 44.9L15.3 44.2L12.9 42.1L11.8 39.5L12.1 35.8L13.4 33.4L16.4 30.4L15.7 24.5L12.8 19.3L13.0 18.0L14.0 17.5L15.3 18.0L18.4 21.9L22.4 24.8L23.4 26.5L23.6 29.0L24.4 28.9L25.3 29.7L27.4 33.6L27.6 36.9L26.4 41.5L25.1 43.4Z"/>
</g>
<use href="#coast" fill="none" stroke="#000" stroke-width="0.75"/>
<use href="#isl" clip-path="url(#pclip)" fill="none" stroke="#111" stroke-width="0.65"/>
<use href="#bord" fill="none" stroke="#333" stroke-width="0.5"/>
<text x="2.60" y="9.50" text-anchor="start" textLength="11.61" lengthAdjust="spacingAndGlyphs" font-family="Liberation Sans, sans-serif" font-weight="bold" font-size="9.4" fill="#000" stroke="#000" stroke-width="0.2" >aa</text>
<path d="M10.5 81.3H76.3M10.5 78.7V83.89999999999999M76.3 78.7V83.89999999999999" stroke="#6a6a6a" stroke-width="1" fill="none"/>
<circle cx="48.3" cy="81.3" r="2.2" fill="#0000ff"/>
<text x="48.32" y="77.00" text-anchor="middle" textLength="14.81" lengthAdjust="spacingAndGlyphs" font-family="Liberation Sans, sans-serif" font-weight="bold" font-size="6.3" fill="#111" stroke="#111" stroke-width="0.2" >2.45</text>
<text x="10.50" y="90.70" text-anchor="middle" textLength="14.81" lengthAdjust="spacingAndGlyphs" font-family="Liberation Sans, sans-serif" font-weight="bold" font-size="6.3" fill="#111" stroke="#111" stroke-width="0.2" >1.95</text>
<text x="76.30" y="90.70" text-anchor="middle" textLength="14.81" lengthAdjust="spacingAndGlyphs" font-family="Liberation Sans, sans-serif" font-weight="bold" font-size="6.3" fill="#111" stroke="#111" stroke-width="0.2" >2.82</text>
</g>
<g transform="translate(295,557)">
<rect x="0.5" y="0.5" width="120" height="92" fill="#f8f8f8" stroke="#6a6a6a" stroke-width="1"/>
<g clip-path="url(#aus)">
<rect x="0" y="0" width="120" height="92" fill="#f0de8c"/><path fill-rule="evenodd" fill="#eecc6c" d="M45.9 93.4L-1.6 93.4L-1.6 -1.5L123.2 -1.5L123.2 71.0L119.3 71.1L113.4 69.7L110.9 69.8L108.9 71.0L106.5 76.5L104.4 78.2L99.8 78.8L84.9 78.7L82.2 78.2L80.5 77.2L77.9 72.6L77.7 71.3L76.4 70.1L67.3 70.4L66.2 69.3L63.7 64.8L61.4 63.3L58.2 62.9L51.1 63.7L43.2 63.2L38.7 63.7L36.6 64.8L36.0 66.1L38.4 72.6L38.1 77.8L39.4 79.9L43.9 82.3L45.2 83.7L46.2 88.2ZM49.8 76.6L48.4 76.0L47.9 74.6L48.4 73.6L49.8 73.2L51.1 73.5L51.9 74.6L51.4 75.8ZM97.2 90.1L94.6 90.1L94.0 89.5L91.1 83.7L91.4 82.2L93.9 83.4L97.2 83.5L97.9 82.8L99.8 82.8L100.7 83.7L100.8 85.6L99.7 88.2Z"/><path fill-rule="evenodd" fill="#ecb75a" d="M22.4 93.4L-1.6 93.4L-1.6 -1.5L123.2 -1.5L123.2 63.1L108.9 63.1L106.7 65.4L103.3 72.6L102.4 73.5L95.2 75.2L90.7 74.4L88.1 75.1L84.2 74.2L82.9 73.3L80.2 68.7L78.4 67.1L75.1 65.3L73.2 65.3L72.5 64.8L72.5 63.6L67.9 64.5L62.8 60.0L57.6 59.1L50.4 58.9L38.1 61.5L29.8 64.8L27.7 68.1L24.0 70.0L22.8 71.3L22.2 74.6L22.8 81.7ZM38.1 93.4L32.1 93.4L32.0 88.8L32.9 86.8L35.4 86.4L38.1 87.8L39.0 90.2L38.6 93.4Z"/><path fill-rule="evenodd" fill="#eea44c" d="M21.2 66.1L19.2 66.6L14.0 65.5L13.7 64.2L14.7 63.4L-1.6 63.6L-1.6 -1.5L85.9 -1.5L84.3 3.7L84.1 6.3L85.5 4.1L87.6 8.2L88.1 10.7L92.5 14.8L93.3 16.9L97.9 20.2L101.1 24.6L105.4 27.8L108.2 31.8L111.5 33.2L118.7 32.4L123.2 32.4L123.2 47.8L118.7 47.9L112.8 46.9L112.5 47.9L113.0 48.6L113.1 53.1L112.5 53.8L112.6 55.1L111.9 55.7L111.6 57.6L109.1 59.6L105.7 60.1L99.2 58.8L87.4 58.7L76.4 60.8L73.2 59.9L69.9 60.5L63.4 57.9L49.8 56.9L32.9 60.6ZM13.4 93.4L9.7 93.4L10.5 81.7L6.7 74.6L8.1 72.6L12.1 70.9L14.0 71.7L14.7 73.9L13.4 81.7L13.9 90.8L13.8 93.4ZM-0.9 76.1L-1.6 76.3L-1.6 73.1L0.3 73.9L0.6 74.6Z"/><path fill-rule="evenodd" fill="#ee903e" d="M23.8 61.6L21.2 62.1L18.6 61.7L15.3 59.2L6.9 60.6L-1.6 60.6L-1.6 -1.5L15.7 -1.5L13.9 4.3L14.6 8.2L19.7 12.1L22.4 16.2L26.5 19.3L29.6 23.7L30.9 24.3L32.3 23.2L33.0 20.6L34.8 18.0L38.7 16.8L43.9 12.6L45.9 12.6L48.4 15.7L49.1 15.0L51.1 15.0L51.7 15.6L51.3 13.5L54.5 9.5L54.5 8.9L56.2 7.8L59.7 7.6L59.7 6.9L58.4 5.6L58.9 5.2L60.8 5.8L62.1 7.1L65.4 7.2L66.0 7.9L69.9 7.1L71.1 8.2L69.2 10.7L68.4 10.9L68.4 12.8L67.1 14.1L67.1 14.8L72.5 18.9L75.8 20.2L78.4 22.0L80.3 22.0L81.0 21.2L79.8 19.3L80.1 17.4L80.9 16.6L82.9 16.6L83.7 14.1L85.5 12.9L89.5 16.7L91.1 20.0L93.7 23.2L94.2 25.1L100.8 30.4L102.5 33.0L105.1 35.5L105.8 37.5L108.5 39.5L110.7 42.1L110.2 43.8L106.3 46.6L103.1 51.5L99.2 52.7L87.4 52.7L84.9 52.2L82.9 50.6L80.3 45.7L77.7 44.0L62.8 43.6L60.8 44.4L59.1 45.9L57.6 51.6L56.2 52.9L47.2 53.4L39.8 57.0L31.6 57.6ZM75.1 10.7L73.2 10.2L72.2 8.2L71.9 4.3L72.6 -1.5L75.9 -1.5L76.4 6.9L75.9 9.5ZM55.6 7.4L53.0 7.4L52.5 6.3L56.9 5.2L57.4 6.3ZM70.6 13.3L69.4 12.8L69.9 11.7L71.0 12.8ZM77.7 19.8L76.6 19.3L77.7 18.8L78.2 19.3Z"/><path fill-rule="evenodd" fill="#f16a38" d="M4.2 11.7L2.3 10.9L1.4 8.9L1.5 -1.5L6.1 -1.5L6.2 8.7L5.6 10.9ZM20.5 26.5L18.9 25.8L16.4 23.2L10.8 21.1L9.7 19.3L10.1 17.0L12.1 16.5L14.7 17.8L17.2 21.9L21.2 24.5L21.5 25.8ZM22.4 58.3L19.2 58.1L14.0 55.9L6.9 58.3L-1.6 58.2L-1.6 40.4L2.9 41.8L6.2 41.4L8.2 39.5L10.1 35.1L11.4 33.6L17.9 30.1L21.2 30.0L21.8 29.3L23.8 29.4L25.7 28.6L29.6 28.8L32.2 28.0L34.2 26.6L36.3 23.2L40.0 20.2L43.9 19.8L48.1 21.2L49.8 23.3L50.9 27.1L50.8 30.4L49.8 33.2L44.6 37.5L41.3 41.8L36.3 45.3L35.3 47.3L34.2 51.8L28.9 54.1L25.1 57.2Z"/><path fill-rule="evenodd" fill="#e8553a" d="M6.9 55.2L3.6 55.6L-1.6 55.0L-1.6 48.4L6.9 48.5L11.4 47.5L10.2 45.3L11.4 44.0L11.2 42.7L12.4 38.8L13.4 37.4L15.9 35.8L21.8 35.2L24.4 35.9L25.6 36.9L26.6 39.5L25.9 42.1L20.4 46.6L17.5 51.8L15.3 52.4L13.3 51.8L12.1 50.6L9.5 53.8Z"/>
</g>
<use href="#coast" fill="none" stroke="#000" stroke-width="0.75"/>
<use href="#isl" clip-path="url(#pclip)" fill="none" stroke="#111" stroke-width="0.65"/>
<use href="#bord" fill="none" stroke="#333" stroke-width="0.5"/>
<text x="2.60" y="9.50" text-anchor="start" textLength="11.96" lengthAdjust="spacingAndGlyphs" font-family="Liberation Sans, sans-serif" font-weight="bold" font-size="9.4" fill="#000" stroke="#000" stroke-width="0.2" >ab</text>
<path d="M10.5 81.3H76.3M10.5 78.7V83.89999999999999M76.3 78.7V83.89999999999999" stroke="#6a6a6a" stroke-width="1" fill="none"/>
<circle cx="43.4" cy="81.3" r="2.2" fill="#0000ff"/>
<text x="43.40" y="77.00" text-anchor="middle" textLength="14.81" lengthAdjust="spacingAndGlyphs" font-family="Liberation Sans, sans-serif" font-weight="bold" font-size="6.3" fill="#111" stroke="#111" stroke-width="0.2" >2.15</text>
<text x="10.50" y="90.70" text-anchor="middle" textLength="14.81" lengthAdjust="spacingAndGlyphs" font-family="Liberation Sans, sans-serif" font-weight="bold" font-size="6.3" fill="#111" stroke="#111" stroke-width="0.2" >1.66</text>
<text x="76.30" y="90.70" text-anchor="middle" textLength="14.81" lengthAdjust="spacingAndGlyphs" font-family="Liberation Sans, sans-serif" font-weight="bold" font-size="6.3" fill="#111" stroke="#111" stroke-width="0.2" >2.64</text>
</g>
<g transform="translate(425,557)">
<rect x="0.5" y="0.5" width="120" height="92" fill="#f8f8f8" stroke="#6a6a6a" stroke-width="1"/>
<g clip-path="url(#aus)">
<rect x="0" y="0" width="120" height="92" fill="#f3fabf"/><path fill-rule="evenodd" fill="#f2f3a3" d="M123.2 93.4L-1.6 93.4L-1.6 -1.5L123.2 -1.5L123.2 56.0L112.2 56.4L112.1 57.0L112.2 57.6L117.4 58.2L123.2 58.3Z"/><path fill-rule="evenodd" fill="#f0de8c" d="M45.9 93.4L-1.6 93.4L-1.6 -1.5L123.2 -1.5L123.2 52.4L113.4 52.4L109.6 54.0L101.8 54.1L98.9 55.1L93.3 58.4L87.4 58.4L85.2 58.9L82.9 60.9L81.2 64.2L81.0 68.1L82.5 73.9L80.3 74.5L78.0 72.6L78.1 71.3L76.4 69.3L76.0 71.9L75.1 72.9L69.9 71.0L61.4 70.8L58.9 70.3L56.9 68.7L54.9 64.1L53.0 62.7L46.5 63.3L41.3 63.0L38.7 63.6L37.5 64.8L37.1 66.1L38.2 71.9L37.9 77.8L39.2 79.8L43.9 82.1L45.2 83.7L46.2 88.2ZM106.9 66.9L105.7 67.2L104.5 65.4L105.3 63.5L106.3 63.0L106.9 63.0L108.0 64.8L107.1 65.4ZM113.4 72.1L112.2 72.4L110.9 71.9L108.9 69.3L108.3 66.1L109.6 64.2L112.2 63.6L118.7 64.7L123.2 64.7L123.2 69.4L118.7 69.4ZM50.4 76.6L49.1 76.7L48.1 75.8L47.7 74.6L48.4 73.4L50.4 73.2L51.4 73.9L51.6 75.2ZM95.2 77.1L95.2 76.1ZM95.2 77.8L95.2 77.4ZM97.2 89.9L94.6 89.9L91.4 84.6L85.2 84.3L83.3 83.0L83.4 81.7L84.9 80.9L87.4 80.6L99.8 80.5L103.4 81.1L104.3 81.7L104.4 83.0L103.1 84.1L101.1 84.6L99.6 88.2Z"/><path fill-rule="evenodd" fill="#eecc6c" d="M21.8 67.6L18.6 67.7L15.3 65.8L14.0 65.7L13.6 64.2L15.3 62.7L10.8 63.5L-1.6 63.6L-1.6 -1.5L123.2 -1.5L123.2 50.1L113.4 50.1L110.2 51.4L101.8 51.6L92.7 53.7L84.9 54.0L81.6 55.7L75.8 60.9L72.9 60.9L71.3 63.5L67.9 65.9L66.4 65.4L66.0 64.2L63.4 63.2L62.8 60.2L59.9 59.6L57.6 57.9L54.9 57.8L50.4 58.5L46.5 60.0L41.9 60.1L38.1 60.8L32.9 63.8L27.0 64.8ZM28.3 80.8L27.0 80.8L25.9 79.8L24.5 75.2L25.2 71.9L27.7 70.0L28.9 70.8L29.9 73.9L29.6 78.1ZM8.2 75.9L-1.6 76.0L-1.6 73.3L8.2 73.4L9.8 74.6ZM38.1 93.4L32.5 93.4L32.4 88.8L33.5 87.1L36.1 86.8L38.3 88.2L39.0 90.8L38.6 93.4Z"/><path fill-rule="evenodd" fill="#ecb75a" d="M8.8 60.3L4.9 60.9L-1.6 60.6L-1.6 -1.5L123.2 -1.5L123.2 47.5L112.8 47.5L111.5 48.7L109.6 49.2L84.9 50.1L75.8 52.2L69.9 51.3L63.4 51.4L56.9 50.5L54.3 51.6L50.4 55.7L45.7 57.6L36.1 58.0L28.9 60.0L26.4 60.2L23.1 59.6L14.7 56.3L11.4 59.1Z"/><path fill-rule="evenodd" fill="#eea44c" d="M6.9 58.4L3.6 58.7L-1.6 58.2L-1.6 -1.5L116.3 -1.5L116.4 8.2L115.4 12.6L108.9 16.6L105.7 21.6L101.0 24.5L100.0 27.1L100.0 28.4L101.4 29.7L102.7 33.0L106.0 35.5L106.1 37.5L106.9 37.7L111.7 42.7L111.6 44.6L110.9 45.4L108.9 46.1L106.3 46.1L92.0 44.5L77.7 43.8L64.1 43.9L52.4 46.8L49.9 48.6L46.9 52.4L44.6 53.6L23.8 51.1L15.9 53.3L14.7 53.5L13.4 53.0L9.7 57.0Z"/><path fill-rule="evenodd" fill="#ee903e" d="M15.3 49.9L13.4 49.9L11.8 49.2L11.4 48.2L8.8 48.1L4.9 46.7L-1.6 47.5L-1.6 -1.5L69.5 -1.5L69.5 6.9L70.8 8.2L69.5 10.9L69.5 11.5L70.8 12.8L69.5 13.5L69.5 16.0L72.5 19.3L78.4 22.0L79.2 21.9L78.4 19.4L77.7 19.8L76.8 19.3L78.2 18.6L78.1 -1.5L100.8 -1.5L100.4 6.3L101.4 12.1L101.2 14.1L99.8 15.6L95.2 15.7L92.7 17.4L92.4 19.3L94.0 22.5L94.2 25.1L96.6 28.3L97.4 31.0L97.2 33.6L95.2 35.8L90.1 36.9L72.5 36.8L62.8 36.0L60.5 36.9L57.3 40.8L54.3 42.4L44.6 43.8L32.2 43.6L23.1 46.1ZM107.6 7.8L106.3 7.5L105.6 6.3L105.8 3.7L106.9 2.4L108.2 3.0L109.1 5.0L108.9 6.6ZM5.6 55.8L2.3 55.8L-1.6 54.6L-1.6 49.6L4.2 49.1L7.5 49.6L8.3 51.1L8.2 53.1L7.0 55.1Z"/><path fill-rule="evenodd" fill="#f16a38" d="M14.7 45.3L13.4 45.0L11.0 42.7L10.5 40.8L9.7 40.1L9.4 38.2L5.6 39.0L-1.6 38.8L-1.6 34.3L6.2 34.1L10.1 35.4L11.4 33.7L12.1 34.3L13.4 32.5L15.3 31.8L17.9 30.0L21.2 30.0L21.8 29.4L23.8 29.3L27.7 27.2L28.9 27.2L31.7 24.5L33.1 21.9L33.1 20.6L34.8 18.9L36.1 20.8L36.3 19.3L37.4 18.9L40.8 14.8L43.9 12.3L45.9 12.3L48.4 15.6L49.1 15.0L51.1 15.0L51.7 15.7L51.3 13.5L52.0 12.1L54.5 9.5L54.9 8.4L56.6 7.6L56.2 6.9L55.6 7.5L53.0 7.4L52.6 6.3L53.0 5.8L55.6 5.7L56.4 5.0L57.2 -1.5L60.3 -1.5L60.7 5.6L62.1 7.2L64.7 8.2L66.0 10.2L65.5 14.8L66.5 18.6L66.5 21.9L65.8 25.8L64.7 27.7L62.1 28.8L56.2 28.2L53.7 28.4L51.3 30.4L49.6 34.9L48.2 36.2L43.2 37.0L34.8 36.3L31.6 36.7L24.4 41.7ZM87.4 20.1L86.2 20.5L84.9 20.2L83.6 18.4L83.7 9.5L85.2 4.3L85.5 4.0L86.0 5.0L86.6 5.0L86.3 -1.5L91.5 -1.5L93.3 3.7L93.4 6.3L92.1 8.9L88.8 11.3L88.5 12.8L89.4 13.5L90.1 16.0L88.8 18.8Z"/>
</g>
<use href="#coast" fill="none" stroke="#000" stroke-width="0.75"/>
<use href="#isl" clip-path="url(#pclip)" fill="none" stroke="#111" stroke-width="0.65"/>
<use href="#bord" fill="none" stroke="#333" stroke-width="0.5"/>
<text x="2.60" y="9.50" text-anchor="start" textLength="10.90" lengthAdjust="spacingAndGlyphs" font-family="Liberation Sans, sans-serif" font-weight="bold" font-size="9.4" fill="#000" stroke="#000" stroke-width="0.2" >ac</text>
<path d="M10.5 81.3H76.3M10.5 78.7V83.89999999999999M76.3 78.7V83.89999999999999" stroke="#6a6a6a" stroke-width="1" fill="none"/>
<circle cx="60.7" cy="81.3" r="2.2" fill="#0000ff"/>
<text x="60.66" y="77.00" text-anchor="middle" textLength="14.81" lengthAdjust="spacingAndGlyphs" font-family="Liberation Sans, sans-serif" font-weight="bold" font-size="6.3" fill="#111" stroke="#111" stroke-width="0.2" >1.97</text>
<text x="10.50" y="90.70" text-anchor="middle" textLength="14.81" lengthAdjust="spacingAndGlyphs" font-family="Liberation Sans, sans-serif" font-weight="bold" font-size="6.3" fill="#111" stroke="#111" stroke-width="0.2" >0.43</text>
<text x="76.30" y="90.70" text-anchor="middle" textLength="14.81" lengthAdjust="spacingAndGlyphs" font-family="Liberation Sans, sans-serif" font-weight="bold" font-size="6.3" fill="#111" stroke="#111" stroke-width="0.2" >2.45</text>
</g>
<g transform="translate(555,557)">
<rect x="0.5" y="0.5" width="120" height="92" fill="#f8f8f8" stroke="#6a6a6a" stroke-width="1"/>
<g clip-path="url(#aus)">
<rect x="0" y="0" width="120" height="92" fill="#eecc6c"/><path fill-rule="evenodd" fill="#ecb75a" d="M92.0 93.4L-1.6 93.4L-1.6 -1.5L123.2 -1.5L123.2 86.8L104.4 87.1L100.4 86.6L96.6 88.5L93.3 87.9L92.4 88.8L92.5 93.4ZM45.8 79.1L47.2 77.9L49.1 74.2L53.7 71.7L55.2 70.0L55.6 66.1L54.7 64.2L53.1 62.9L51.1 62.5L48.4 62.9L45.2 64.2L43.6 65.4L43.3 66.8L45.2 70.7L45.3 71.9L43.1 75.2L42.6 77.2L43.9 79.0Z"/><path fill-rule="evenodd" fill="#eea44c" d="M88.8 93.4L-1.6 93.4L-1.6 -1.5L123.2 -1.5L123.2 82.8L100.4 82.8L100.3 83.7L99.2 84.2L97.2 82.6L93.9 82.7L93.4 84.3L90.7 84.3L89.8 85.6L89.0 88.2ZM47.2 83.0L49.1 81.7L52.4 76.9L57.0 73.2L58.5 70.7L58.9 67.4L58.3 63.5L57.0 60.9L54.9 59.5L51.1 59.3L42.7 61.6L39.7 62.9L38.0 64.8L37.7 66.8L38.5 71.9L38.1 76.5L38.7 79.1L40.3 81.1L42.6 82.4L45.2 83.1Z"/><path fill-rule="evenodd" fill="#ee903e" d="M47.8 93.4L-1.6 93.4L-1.6 -1.5L86.0 -1.5L84.3 3.7L84.2 6.3L85.5 4.1L87.6 8.2L88.1 10.5L91.0 11.5L92.4 12.8L92.9 14.8L92.6 19.3L94.1 22.5L94.5 25.1L96.6 25.6L104.4 24.9L106.3 25.5L108.0 27.1L108.6 30.4L107.7 38.1L110.2 40.8L115.3 43.4L116.0 45.3L116.2 48.6L115.6 51.8L114.6 53.1L112.8 53.9L110.8 58.3L110.7 59.6L108.8 62.2L108.1 66.8L105.6 70.0L105.0 73.7L110.2 72.4L123.2 72.5L123.2 78.2L101.8 77.9L95.2 78.4L88.1 77.8L85.5 76.4L82.9 76.3L80.3 75.0L77.9 72.6L77.9 71.3L76.4 69.1L74.1 68.7L74.7 68.1L74.4 65.8L73.8 65.8L72.5 67.7L70.8 67.4L72.8 64.2L72.5 62.5L71.9 63.8L69.2 65.4L68.7 71.3L67.9 73.7L66.7 74.8L64.7 75.0L63.4 73.9L63.1 72.6L62.8 60.3L60.2 59.3L57.6 57.5L54.3 57.2L50.4 57.7L38.2 61.6L34.6 64.8L34.4 66.1L34.8 77.2L35.7 80.4L38.1 83.0L48.3 88.8L48.8 90.8ZM120.6 61.2L119.9 61.2L119.2 60.3L119.3 59.0L119.9 58.4L120.6 58.4L121.4 59.6ZM73.6 61.6L73.2 61.1L72.8 61.6L73.2 62.0ZM72.5 70.3L70.6 70.4L70.1 69.3L70.6 68.9L73.8 69.0L74.1 69.3ZM57.6 86.3L55.6 86.1L54.3 85.3L53.7 83.7L53.9 81.7L55.6 79.1L57.6 78.2L59.5 78.1L60.3 78.4L61.1 79.8L61.0 83.0L60.2 85.0ZM84.2 93.4L78.7 93.4L79.2 84.9L80.3 83.0L81.6 82.2L83.1 82.3L84.2 83.9L84.7 90.2L84.7 93.4Z"/><path fill-rule="evenodd" fill="#f16a38" d="M15.3 70.7L-1.6 70.7L-1.6 -1.5L15.7 -1.5L13.9 4.3L14.6 8.2L19.8 12.1L23.1 16.8L28.1 20.0L30.9 24.7L31.8 24.5L32.7 23.2L33.4 21.9L33.4 20.6L34.8 19.0L36.1 21.2L36.6 20.6L36.5 19.3L37.4 19.0L39.5 16.0L43.9 12.3L45.9 12.3L48.4 15.6L49.1 14.9L51.1 14.9L51.7 15.6L51.2 13.5L54.9 8.4L56.2 7.8L59.7 7.6L59.7 6.9L58.4 5.6L58.9 5.2L60.8 5.8L62.1 7.1L65.4 7.2L66.0 7.9L69.9 7.1L71.1 8.2L69.2 10.7L68.4 10.9L68.4 12.8L67.1 14.1L67.1 14.8L72.5 18.9L75.8 20.2L78.4 22.0L79.4 21.9L79.2 19.3L79.8 17.4L80.9 16.6L82.9 16.6L83.7 14.1L85.5 12.9L89.4 16.7L89.8 23.9L90.8 26.5L93.3 28.2L98.5 29.3L100.8 30.4L104.3 36.2L105.0 39.9L106.8 42.1L110.3 44.6L111.2 46.6L111.5 49.2L110.9 51.0L106.9 53.9L105.6 55.7L105.4 63.5L104.4 65.8L102.4 67.1L100.4 67.2L98.6 66.1L95.2 61.5L93.3 59.9L91.4 59.4L86.2 59.6L84.1 58.9L79.7 53.4L75.1 49.8L71.2 44.8L68.6 43.7L65.4 43.6L61.4 44.2L59.5 45.2L58.2 46.8L56.0 51.8L52.6 54.4L45.2 57.5L37.4 60.0L31.6 64.1L25.7 65.1L21.8 67.5L18.9 68.1L17.2 69.9ZM75.1 10.9L73.2 10.3L72.2 8.2L72.0 4.3L72.6 -1.5L76.0 -1.5L76.3 6.9L75.9 9.5ZM55.6 7.4L53.0 7.4L52.5 6.3L56.9 5.2L57.4 6.3ZM70.6 13.3L69.4 12.8L69.9 11.7L71.0 12.8ZM77.7 19.8L76.6 19.3L77.7 18.8L78.2 19.3ZM28.3 82.4L27.0 82.4L25.5 81.1L24.0 77.8L23.2 74.6L23.7 72.6L24.7 71.3L28.3 68.7L29.6 70.2L30.2 74.6L29.6 80.6ZM39.4 93.4L32.3 93.4L32.1 89.5L32.8 87.6L35.4 86.9L39.4 88.3L40.4 90.2Z"/><path fill-rule="evenodd" fill="#e8553a" d="M4.2 11.7L2.3 10.9L1.4 8.9L1.5 -1.5L6.1 -1.5L6.2 8.7L5.6 10.9ZM15.9 22.3L13.4 22.3L10.8 21.1L9.7 19.3L10.1 17.0L12.1 16.5L14.1 17.4L15.9 20.0ZM21.2 26.7L19.2 26.1L18.6 24.2L19.9 24.2L21.2 25.0L21.5 25.8ZM16.6 65.0L14.0 65.0L13.6 64.2L15.3 62.8L12.1 63.7L5.6 62.9L-1.6 63.1L-1.6 40.3L3.6 41.9L6.2 41.3L8.2 39.5L11.4 33.7L12.1 33.8L13.4 32.4L15.3 31.8L17.9 30.0L21.2 29.9L21.8 29.2L23.8 29.4L25.7 28.6L30.2 29.1L37.4 28.2L40.0 28.9L44.0 34.2L49.1 38.1L50.5 40.1L51.5 45.3L50.2 49.9L47.3 53.1L43.3 55.7L39.6 57.0L33.0 58.3L28.3 60.7L21.8 62.1Z"/><path fill-rule="evenodd" fill="#e04242" d="M21.2 58.4L17.2 58.5L14.0 55.2L4.9 54.4L-1.6 54.6L-1.6 48.6L2.9 50.8L5.6 50.5L9.4 45.9L9.4 44.3L10.8 44.0L10.6 42.7L12.4 38.8L15.9 36.5L28.9 35.5L32.9 36.1L34.2 37.5L34.6 39.5L34.9 47.9L34.4 50.5L29.6 53.1L25.2 57.0Z"/><path fill-rule="evenodd" fill="#c92a55" d="M18.6 52.7L16.6 52.8L15.3 52.0L14.0 51.0L12.5 48.6L12.7 45.3L15.3 42.9L17.9 43.2L19.3 45.3L19.9 50.5L19.6 51.8Z"/>
</g>
<use href="#coast" fill="none" stroke="#000" stroke-width="0.75"/>
<use href="#isl" clip-path="url(#pclip)" fill="none" stroke="#111" stroke-width="0.65"/>
<use href="#bord" fill="none" stroke="#333" stroke-width="0.5"/>
<text x="2.60" y="9.50" text-anchor="start" textLength="11.96" lengthAdjust="spacingAndGlyphs" font-family="Liberation Sans, sans-serif" font-weight="bold" font-size="9.4" fill="#000" stroke="#000" stroke-width="0.2" >ad</text>
<path d="M10.5 81.3H76.3M10.5 78.7V83.89999999999999M76.3 78.7V83.89999999999999" stroke="#6a6a6a" stroke-width="1" fill="none"/>
<circle cx="38.1" cy="81.3" r="2.2" fill="#0000ff"/>
<text x="38.06" y="77.00" text-anchor="middle" textLength="14.81" lengthAdjust="spacingAndGlyphs" font-family="Liberation Sans, sans-serif" font-weight="bold" font-size="6.3" fill="#111" stroke="#111" stroke-width="0.2" >2.44</text>
<text x="10.50" y="90.70" text-anchor="middle" textLength="14.81" lengthAdjust="spacingAndGlyphs" font-family="Liberation Sans, sans-serif" font-weight="bold" font-size="6.3" fill="#111" stroke="#111" stroke-width="0.2" >2.13</text>
<text x="76.30" y="90.70" text-anchor="middle" textLength="14.81" lengthAdjust="spacingAndGlyphs" font-family="Liberation Sans, sans-serif" font-weight="bold" font-size="6.3" fill="#111" stroke="#111" stroke-width="0.2" >2.87</text>
</g>
<text x="95.5" y="8.8" text-rendering="geometricPrecision" text-anchor="middle" textLength="34.80" lengthAdjust="spacingAndGlyphs" font-family="Liberation Sans, sans-serif" font-weight="bold" font-size="9.8" fill="#000" stroke="#000" stroke-width="0.25">Annual</text>
<text x="225.5" y="8.8" text-rendering="geometricPrecision" text-anchor="middle" textLength="16.70" lengthAdjust="spacingAndGlyphs" font-family="Liberation Sans, sans-serif" font-weight="bold" font-size="9.8" fill="#000" stroke="#000" stroke-width="0.25">DJF</text>
<text x="355.5" y="8.8" text-rendering="geometricPrecision" text-anchor="middle" textLength="24.49" lengthAdjust="spacingAndGlyphs" font-family="Liberation Sans, sans-serif" font-weight="bold" font-size="9.8" fill="#000" stroke="#000" stroke-width="0.25">MAM</text>
<text x="485.5" y="8.8" text-rendering="geometricPrecision" text-anchor="middle" textLength="13.45" lengthAdjust="spacingAndGlyphs" font-family="Liberation Sans, sans-serif" font-weight="bold" font-size="9.8" fill="#000" stroke="#000" stroke-width="0.45">JJA</text>
<text x="615.5" y="8.8" text-rendering="geometricPrecision" text-anchor="middle" textLength="21.33" lengthAdjust="spacingAndGlyphs" font-family="Liberation Sans, sans-serif" font-weight="bold" font-size="9.8" fill="#000" stroke="#000" stroke-width="0.25">SON</text>
<text transform="translate(8.5,54) rotate(-90)" text-rendering="geometricPrecision" text-anchor="middle" textLength="72.12" lengthAdjust="spacingAndGlyphs" font-family="Liberation Sans, sans-serif" font-weight="bold" font-size="10.3" fill="#3a7fc0" stroke="#3a7fc0" stroke-width="0.25">N2.0 SSP3-7.0</text>
<text x="31.60" y="16.80" text-anchor="end" textLength="17.11" lengthAdjust="spacingAndGlyphs" font-family="Liberation Sans, sans-serif" font-weight="bold" font-size="6.7" fill="#111" stroke="#111" stroke-width="0.2" >10<tspan font-size="5.03" dy="-0.9">°</tspan><tspan dy="0.9">S</tspan></text>
<text x="31.60" y="42.80" text-anchor="end" textLength="17.11" lengthAdjust="spacingAndGlyphs" font-family="Liberation Sans, sans-serif" font-weight="bold" font-size="6.7" fill="#111" stroke="#111" stroke-width="0.2" >20<tspan font-size="5.03" dy="-0.9">°</tspan><tspan dy="0.9">S</tspan></text>
<text x="31.60" y="68.80" text-anchor="end" textLength="17.11" lengthAdjust="spacingAndGlyphs" font-family="Liberation Sans, sans-serif" font-weight="bold" font-size="6.7" fill="#111" stroke="#111" stroke-width="0.2" >30<tspan font-size="5.03" dy="-0.9">°</tspan><tspan dy="0.9">S</tspan></text>
<text x="31.60" y="94.80" text-anchor="end" textLength="17.11" lengthAdjust="spacingAndGlyphs" font-family="Liberation Sans, sans-serif" font-weight="bold" font-size="6.7" fill="#111" stroke="#111" stroke-width="0.2" >40<tspan font-size="5.03" dy="-0.9">°</tspan><tspan dy="0.9">S</tspan></text>
<text transform="translate(8.5,163) rotate(-90)" text-rendering="geometricPrecision" text-anchor="middle" textLength="72.12" lengthAdjust="spacingAndGlyphs" font-family="Liberation Sans, sans-serif" font-weight="bold" font-size="10.3" fill="#3a7fc0" stroke="#3a7fc0" stroke-width="0.25">N2.0 SSP2-4.5</text>
<text x="31.60" y="125.80" text-anchor="end" textLength="17.11" lengthAdjust="spacingAndGlyphs" font-family="Liberation Sans, sans-serif" font-weight="bold" font-size="6.7" fill="#111" stroke="#111" stroke-width="0.2" >10<tspan font-size="5.03" dy="-0.9">°</tspan><tspan dy="0.9">S</tspan></text>
<text x="31.60" y="151.80" text-anchor="end" textLength="17.11" lengthAdjust="spacingAndGlyphs" font-family="Liberation Sans, sans-serif" font-weight="bold" font-size="6.7" fill="#111" stroke="#111" stroke-width="0.2" >20<tspan font-size="5.03" dy="-0.9">°</tspan><tspan dy="0.9">S</tspan></text>
<text x="31.60" y="177.80" text-anchor="end" textLength="17.11" lengthAdjust="spacingAndGlyphs" font-family="Liberation Sans, sans-serif" font-weight="bold" font-size="6.7" fill="#111" stroke="#111" stroke-width="0.2" >30<tspan font-size="5.03" dy="-0.9">°</tspan><tspan dy="0.9">S</tspan></text>
<text x="31.60" y="203.80" text-anchor="end" textLength="17.11" lengthAdjust="spacingAndGlyphs" font-family="Liberation Sans, sans-serif" font-weight="bold" font-size="6.7" fill="#111" stroke="#111" stroke-width="0.2" >40<tspan font-size="5.03" dy="-0.9">°</tspan><tspan dy="0.9">S</tspan></text>
<text transform="translate(8.5,272) rotate(-90)" text-rendering="geometricPrecision" text-anchor="middle" textLength="72.12" lengthAdjust="spacingAndGlyphs" font-family="Liberation Sans, sans-serif" font-weight="bold" font-size="10.3" fill="#3a7fc0" stroke="#3a7fc0" stroke-width="0.25">N2.0 SSP1-2.6</text>
<text x="31.60" y="234.80" text-anchor="end" textLength="17.11" lengthAdjust="spacingAndGlyphs" font-family="Liberation Sans, sans-serif" font-weight="bold" font-size="6.7" fill="#111" stroke="#111" stroke-width="0.2" >10<tspan font-size="5.03" dy="-0.9">°</tspan><tspan dy="0.9">S</tspan></text>
<text x="31.60" y="260.80" text-anchor="end" textLength="17.11" lengthAdjust="spacingAndGlyphs" font-family="Liberation Sans, sans-serif" font-weight="bold" font-size="6.7" fill="#111" stroke="#111" stroke-width="0.2" >20<tspan font-size="5.03" dy="-0.9">°</tspan><tspan dy="0.9">S</tspan></text>
<text x="31.60" y="286.80" text-anchor="end" textLength="17.11" lengthAdjust="spacingAndGlyphs" font-family="Liberation Sans, sans-serif" font-weight="bold" font-size="6.7" fill="#111" stroke="#111" stroke-width="0.2" >30<tspan font-size="5.03" dy="-0.9">°</tspan><tspan dy="0.9">S</tspan></text>
<text x="31.60" y="312.80" text-anchor="end" textLength="17.11" lengthAdjust="spacingAndGlyphs" font-family="Liberation Sans, sans-serif" font-weight="bold" font-size="6.7" fill="#111" stroke="#111" stroke-width="0.2" >40<tspan font-size="5.03" dy="-0.9">°</tspan><tspan dy="0.9">S</tspan></text>
<text transform="translate(8.5,381) rotate(-90)" text-rendering="geometricPrecision" text-anchor="middle" textLength="62.69" lengthAdjust="spacingAndGlyphs" font-family="Liberation Sans, sans-serif" font-weight="bold" font-size="10.3" fill="#d9302c" stroke="#d9302c" stroke-width="0.25">N1.5 RCP8.5</text>
<text x="31.60" y="343.80" text-anchor="end" textLength="17.11" lengthAdjust="spacingAndGlyphs" font-family="Liberation Sans, sans-serif" font-weight="bold" font-size="6.7" fill="#111" stroke="#111" stroke-width="0.2" >10<tspan font-size="5.03" dy="-0.9">°</tspan><tspan dy="0.9">S</tspan></text>
<text x="31.60" y="369.80" text-anchor="end" textLength="17.11" lengthAdjust="spacingAndGlyphs" font-family="Liberation Sans, sans-serif" font-weight="bold" font-size="6.7" fill="#111" stroke="#111" stroke-width="0.2" >20<tspan font-size="5.03" dy="-0.9">°</tspan><tspan dy="0.9">S</tspan></text>
<text x="31.60" y="395.80" text-anchor="end" textLength="17.11" lengthAdjust="spacingAndGlyphs" font-family="Liberation Sans, sans-serif" font-weight="bold" font-size="6.7" fill="#111" stroke="#111" stroke-width="0.2" >30<tspan font-size="5.03" dy="-0.9">°</tspan><tspan dy="0.9">S</tspan></text>
<text x="31.60" y="421.80" text-anchor="end" textLength="17.11" lengthAdjust="spacingAndGlyphs" font-family="Liberation Sans, sans-serif" font-weight="bold" font-size="6.7" fill="#111" stroke="#111" stroke-width="0.2" >40<tspan font-size="5.03" dy="-0.9">°</tspan><tspan dy="0.9">S</tspan></text>
<text transform="translate(8.5,490) rotate(-90)" text-rendering="geometricPrecision" text-anchor="middle" textLength="62.69" lengthAdjust="spacingAndGlyphs" font-family="Liberation Sans, sans-serif" font-weight="bold" font-size="10.3" fill="#d9302c" stroke="#d9302c" stroke-width="0.25">N1.5 RCP4.5</text>
<text x="31.60" y="452.80" text-anchor="end" textLength="17.11" lengthAdjust="spacingAndGlyphs" font-family="Liberation Sans, sans-serif" font-weight="bold" font-size="6.7" fill="#111" stroke="#111" stroke-width="0.2" >10<tspan font-size="5.03" dy="-0.9">°</tspan><tspan dy="0.9">S</tspan></text>
<text x="31.60" y="478.80" text-anchor="end" textLength="17.11" lengthAdjust="spacingAndGlyphs" font-family="Liberation Sans, sans-serif" font-weight="bold" font-size="6.7" fill="#111" stroke="#111" stroke-width="0.2" >20<tspan font-size="5.03" dy="-0.9">°</tspan><tspan dy="0.9">S</tspan></text>
<text x="31.60" y="504.80" text-anchor="end" textLength="17.11" lengthAdjust="spacingAndGlyphs" font-family="Liberation Sans, sans-serif" font-weight="bold" font-size="6.7" fill="#111" stroke="#111" stroke-width="0.2" >30<tspan font-size="5.03" dy="-0.9">°</tspan><tspan dy="0.9">S</tspan></text>
<text x="31.60" y="530.80" text-anchor="end" textLength="17.11" lengthAdjust="spacingAndGlyphs" font-family="Liberation Sans, sans-serif" font-weight="bold" font-size="6.7" fill="#111" stroke="#111" stroke-width="0.2" >40<tspan font-size="5.03" dy="-0.9">°</tspan><tspan dy="0.9">S</tspan></text>
<text transform="translate(8.5,599) rotate(-90)" text-rendering="geometricPrecision" text-anchor="middle" textLength="69.01" lengthAdjust="spacingAndGlyphs" font-family="Liberation Sans, sans-serif" font-weight="bold" font-size="10.3" fill="#3fae3f" stroke="#3fae3f" stroke-width="0.25">N1.0 SRES A2</text>
<text x="31.60" y="561.80" text-anchor="end" textLength="17.11" lengthAdjust="spacingAndGlyphs" font-family="Liberation Sans, sans-serif" font-weight="bold" font-size="6.7" fill="#111" stroke="#111" stroke-width="0.2" >10<tspan font-size="5.03" dy="-0.9">°</tspan><tspan dy="0.9">S</tspan></text>
<text x="31.60" y="587.80" text-anchor="end" textLength="17.11" lengthAdjust="spacingAndGlyphs" font-family="Liberation Sans, sans-serif" font-weight="bold" font-size="6.7" fill="#111" stroke="#111" stroke-width="0.2" >20<tspan font-size="5.03" dy="-0.9">°</tspan><tspan dy="0.9">S</tspan></text>
<text x="31.60" y="613.80" text-anchor="end" textLength="17.11" lengthAdjust="spacingAndGlyphs" font-family="Liberation Sans, sans-serif" font-weight="bold" font-size="6.7" fill="#111" stroke="#111" stroke-width="0.2" >30<tspan font-size="5.03" dy="-0.9">°</tspan><tspan dy="0.9">S</tspan></text>
<text x="31.60" y="639.80" text-anchor="end" textLength="17.11" lengthAdjust="spacingAndGlyphs" font-family="Liberation Sans, sans-serif" font-weight="bold" font-size="6.7" fill="#111" stroke="#111" stroke-width="0.2" >40<tspan font-size="5.03" dy="-0.9">°</tspan><tspan dy="0.9">S</tspan></text>
<text x="48.60" y="657.20" text-anchor="middle" textLength="21.10" lengthAdjust="spacingAndGlyphs" font-family="Liberation Sans, sans-serif" font-weight="bold" font-size="6.7" fill="#111" stroke="#111" stroke-width="0.2" >115<tspan font-size="5.03" dy="-0.9">°</tspan><tspan dy="0.9">E</tspan></text>
<text x="74.55" y="657.20" text-anchor="middle" textLength="21.10" lengthAdjust="spacingAndGlyphs" font-family="Liberation Sans, sans-serif" font-weight="bold" font-size="6.7" fill="#111" stroke="#111" stroke-width="0.2" >125<tspan font-size="5.03" dy="-0.9">°</tspan><tspan dy="0.9">E</tspan></text>
<text x="100.50" y="657.20" text-anchor="middle" textLength="21.10" lengthAdjust="spacingAndGlyphs" font-family="Liberation Sans, sans-serif" font-weight="bold" font-size="6.7" fill="#111" stroke="#111" stroke-width="0.2" >135<tspan font-size="5.03" dy="-0.9">°</tspan><tspan dy="0.9">E</tspan></text>
<text x="126.45" y="657.20" text-anchor="middle" textLength="21.10" lengthAdjust="spacingAndGlyphs" font-family="Liberation Sans, sans-serif" font-weight="bold" font-size="6.7" fill="#111" stroke="#111" stroke-width="0.2" >145<tspan font-size="5.03" dy="-0.9">°</tspan><tspan dy="0.9">E</tspan></text>
<text x="152.40" y="657.20" text-anchor="middle" textLength="21.10" lengthAdjust="spacingAndGlyphs" font-family="Liberation Sans, sans-serif" font-weight="bold" font-size="6.7" fill="#111" stroke="#111" stroke-width="0.2" >155<tspan font-size="5.03" dy="-0.9">°</tspan><tspan dy="0.9">E</tspan></text>
<text x="178.60" y="657.20" text-anchor="middle" textLength="21.10" lengthAdjust="spacingAndGlyphs" font-family="Liberation Sans, sans-serif" font-weight="bold" font-size="6.7" fill="#111" stroke="#111" stroke-width="0.2" >115<tspan font-size="5.03" dy="-0.9">°</tspan><tspan dy="0.9">E</tspan></text>
<text x="204.55" y="657.20" text-anchor="middle" textLength="21.10" lengthAdjust="spacingAndGlyphs" font-family="Liberation Sans, sans-serif" font-weight="bold" font-size="6.7" fill="#111" stroke="#111" stroke-width="0.2" >125<tspan font-size="5.03" dy="-0.9">°</tspan><tspan dy="0.9">E</tspan></text>
<text x="230.50" y="657.20" text-anchor="middle" textLength="21.10" lengthAdjust="spacingAndGlyphs" font-family="Liberation Sans, sans-serif" font-weight="bold" font-size="6.7" fill="#111" stroke="#111" stroke-width="0.2" >135<tspan font-size="5.03" dy="-0.9">°</tspan><tspan dy="0.9">E</tspan></text>
<text x="256.45" y="657.20" text-anchor="middle" textLength="21.10" lengthAdjust="spacingAndGlyphs" font-family="Liberation Sans, sans-serif" font-weight="bold" font-size="6.7" fill="#111" stroke="#111" stroke-width="0.2" >145<tspan font-size="5.03" dy="-0.9">°</tspan><tspan dy="0.9">E</tspan></text>
<text x="282.40" y="657.20" text-anchor="middle" textLength="21.10" lengthAdjust="spacingAndGlyphs" font-family="Liberation Sans, sans-serif" font-weight="bold" font-size="6.7" fill="#111" stroke="#111" stroke-width="0.2" >155<tspan font-size="5.03" dy="-0.9">°</tspan><tspan dy="0.9">E</tspan></text>
<text x="308.60" y="657.20" text-anchor="middle" textLength="21.10" lengthAdjust="spacingAndGlyphs" font-family="Liberation Sans, sans-serif" font-weight="bold" font-size="6.7" fill="#111" stroke="#111" stroke-width="0.2" >115<tspan font-size="5.03" dy="-0.9">°</tspan><tspan dy="0.9">E</tspan></text>
<text x="334.55" y="657.20" text-anchor="middle" textLength="21.10" lengthAdjust="spacingAndGlyphs" font-family="Liberation Sans, sans-serif" font-weight="bold" font-size="6.7" fill="#111" stroke="#111" stroke-width="0.2" >125<tspan font-size="5.03" dy="-0.9">°</tspan><tspan dy="0.9">E</tspan></text>
<text x="360.50" y="657.20" text-anchor="middle" textLength="21.10" lengthAdjust="spacingAndGlyphs" font-family="Liberation Sans, sans-serif" font-weight="bold" font-size="6.7" fill="#111" stroke="#111" stroke-width="0.2" >135<tspan font-size="5.03" dy="-0.9">°</tspan><tspan dy="0.9">E</tspan></text>
<text x="386.45" y="657.20" text-anchor="middle" textLength="21.10" lengthAdjust="spacingAndGlyphs" font-family="Liberation Sans, sans-serif" font-weight="bold" font-size="6.7" fill="#111" stroke="#111" stroke-width="0.2" >145<tspan font-size="5.03" dy="-0.9">°</tspan><tspan dy="0.9">E</tspan></text>
<text x="412.40" y="657.20" text-anchor="middle" textLength="21.10" lengthAdjust="spacingAndGlyphs" font-family="Liberation Sans, sans-serif" font-weight="bold" font-size="6.7" fill="#111" stroke="#111" stroke-width="0.2" >155<tspan font-size="5.03" dy="-0.9">°</tspan><tspan dy="0.9">E</tspan></text>
<text x="438.60" y="657.20" text-anchor="middle" textLength="21.10" lengthAdjust="spacingAndGlyphs" font-family="Liberation Sans, sans-serif" font-weight="bold" font-size="6.7" fill="#111" stroke="#111" stroke-width="0.2" >115<tspan font-size="5.03" dy="-0.9">°</tspan><tspan dy="0.9">E</tspan></text>
<text x="464.55" y="657.20" text-anchor="middle" textLength="21.10" lengthAdjust="spacingAndGlyphs" font-family="Liberation Sans, sans-serif" font-weight="bold" font-size="6.7" fill="#111" stroke="#111" stroke-width="0.2" >125<tspan font-size="5.03" dy="-0.9">°</tspan><tspan dy="0.9">E</tspan></text>
<text x="490.50" y="657.20" text-anchor="middle" textLength="21.10" lengthAdjust="spacingAndGlyphs" font-family="Liberation Sans, sans-serif" font-weight="bold" font-size="6.7" fill="#111" stroke="#111" stroke-width="0.2" >135<tspan font-size="5.03" dy="-0.9">°</tspan><tspan dy="0.9">E</tspan></text>
<text x="516.45" y="657.20" text-anchor="middle" textLength="21.10" lengthAdjust="spacingAndGlyphs" font-family="Liberation Sans, sans-serif" font-weight="bold" font-size="6.7" fill="#111" stroke="#111" stroke-width="0.2" >145<tspan font-size="5.03" dy="-0.9">°</tspan><tspan dy="0.9">E</tspan></text>
<text x="542.40" y="657.20" text-anchor="middle" textLength="21.10" lengthAdjust="spacingAndGlyphs" font-family="Liberation Sans, sans-serif" font-weight="bold" font-size="6.7" fill="#111" stroke="#111" stroke-width="0.2" >155<tspan font-size="5.03" dy="-0.9">°</tspan><tspan dy="0.9">E</tspan></text>
<text x="568.60" y="657.20" text-anchor="middle" textLength="21.10" lengthAdjust="spacingAndGlyphs" font-family="Liberation Sans, sans-serif" font-weight="bold" font-size="6.7" fill="#111" stroke="#111" stroke-width="0.2" >115<tspan font-size="5.03" dy="-0.9">°</tspan><tspan dy="0.9">E</tspan></text>
<text x="594.55" y="657.20" text-anchor="middle" textLength="21.10" lengthAdjust="spacingAndGlyphs" font-family="Liberation Sans, sans-serif" font-weight="bold" font-size="6.7" fill="#111" stroke="#111" stroke-width="0.2" >125<tspan font-size="5.03" dy="-0.9">°</tspan><tspan dy="0.9">E</tspan></text>
<text x="620.50" y="657.20" text-anchor="middle" textLength="21.10" lengthAdjust="spacingAndGlyphs" font-family="Liberation Sans, sans-serif" font-weight="bold" font-size="6.7" fill="#111" stroke="#111" stroke-width="0.2" >135<tspan font-size="5.03" dy="-0.9">°</tspan><tspan dy="0.9">E</tspan></text>
<text x="646.45" y="657.20" text-anchor="middle" textLength="21.10" lengthAdjust="spacingAndGlyphs" font-family="Liberation Sans, sans-serif" font-weight="bold" font-size="6.7" fill="#111" stroke="#111" stroke-width="0.2" >145<tspan font-size="5.03" dy="-0.9">°</tspan><tspan dy="0.9">E</tspan></text>
<text x="672.40" y="657.20" text-anchor="middle" textLength="21.10" lengthAdjust="spacingAndGlyphs" font-family="Liberation Sans, sans-serif" font-weight="bold" font-size="6.7" fill="#111" stroke="#111" stroke-width="0.2" >155<tspan font-size="5.03" dy="-0.9">°</tspan><tspan dy="0.9">E</tspan></text>
<rect x="39.20" y="682" width="37.67" height="10" fill="#f8fddc"/>
<rect x="76.58" y="682" width="37.67" height="10" fill="#f3fabf"/>
<rect x="113.95" y="682" width="37.67" height="10" fill="#f2f3a3"/>
<rect x="151.32" y="682" width="37.67" height="10" fill="#f0de8c"/>
<rect x="188.70" y="682" width="37.67" height="10" fill="#eecc6c"/>
<rect x="226.07" y="682" width="37.67" height="10" fill="#ecb75a"/>
<rect x="263.45" y="682" width="37.67" height="10" fill="#eea44c"/>
<rect x="300.82" y="682" width="37.67" height="10" fill="#ee903e"/>
<rect x="338.20" y="682" width="37.67" height="10" fill="#f16a38"/>
<rect x="375.57" y="682" width="37.67" height="10" fill="#e8553a"/>
<rect x="412.95" y="682" width="37.67" height="10" fill="#e04242"/>
<rect x="450.32" y="682" width="37.67" height="10" fill="#c92a55"/>
<rect x="487.70" y="682" width="37.67" height="10" fill="#b82a50"/>
<rect x="525.08" y="682" width="37.67" height="10" fill="#c02a72"/>
<rect x="562.45" y="682" width="37.67" height="10" fill="#be2c8a"/>
<rect x="599.83" y="682" width="37.67" height="10" fill="#992472"/>
<path d="M637.20 682L667 687L637.20 692Z" fill="#8f2172"/>
<path d="M39.2 682H637.20L667 687L637.20 692H39.2Z" fill="none" stroke="#888" stroke-width="0.6"/>
<path d="M39.20 692V694" stroke="#444" stroke-width="0.6"/>
<text x="39.20" y="702.70" text-anchor="middle" textLength="12.58" lengthAdjust="spacingAndGlyphs" font-family="Liberation Sans, sans-serif" font-weight="bold" font-size="7.2" fill="#111" stroke="#111" stroke-width="0.2" >0.8</text>
<path d="M76.58 692V694" stroke="#444" stroke-width="0.6"/>
<text x="76.58" y="702.70" text-anchor="middle" textLength="12.58" lengthAdjust="spacingAndGlyphs" font-family="Liberation Sans, sans-serif" font-weight="bold" font-size="7.2" fill="#111" stroke="#111" stroke-width="0.2" >1.0</text>
<path d="M113.95 692V694" stroke="#444" stroke-width="0.6"/>
<text x="113.95" y="702.70" text-anchor="middle" textLength="12.58" lengthAdjust="spacingAndGlyphs" font-family="Liberation Sans, sans-serif" font-weight="bold" font-size="7.2" fill="#111" stroke="#111" stroke-width="0.2" >1.2</text>
<path d="M151.32 692V694" stroke="#444" stroke-width="0.6"/>
<text x="151.32" y="702.70" text-anchor="middle" textLength="12.58" lengthAdjust="spacingAndGlyphs" font-family="Liberation Sans, sans-serif" font-weight="bold" font-size="7.2" fill="#111" stroke="#111" stroke-width="0.2" >1.4</text>
<path d="M188.70 692V694" stroke="#444" stroke-width="0.6"/>
<text x="188.70" y="702.70" text-anchor="middle" textLength="12.58" lengthAdjust="spacingAndGlyphs" font-family="Liberation Sans, sans-serif" font-weight="bold" font-size="7.2" fill="#111" stroke="#111" stroke-width="0.2" >1.6</text>
<path d="M226.07 692V694" stroke="#444" stroke-width="0.6"/>
<text x="226.07" y="702.70" text-anchor="middle" textLength="12.58" lengthAdjust="spacingAndGlyphs" font-family="Liberation Sans, sans-serif" font-weight="bold" font-size="7.2" fill="#111" stroke="#111" stroke-width="0.2" >1.8</text>
<path d="M263.45 692V694" stroke="#444" stroke-width="0.6"/>
<text x="263.45" y="702.70" text-anchor="middle" textLength="12.58" lengthAdjust="spacingAndGlyphs" font-family="Liberation Sans, sans-serif" font-weight="bold" font-size="7.2" fill="#111" stroke="#111" stroke-width="0.2" >2.0</text>
<path d="M300.82 692V694" stroke="#444" stroke-width="0.6"/>
<text x="300.82" y="702.70" text-anchor="middle" textLength="12.58" lengthAdjust="spacingAndGlyphs" font-family="Liberation Sans, sans-serif" font-weight="bold" font-size="7.2" fill="#111" stroke="#111" stroke-width="0.2" >2.2</text>
<path d="M338.20 692V694" stroke="#444" stroke-width="0.6"/>
<text x="338.20" y="702.70" text-anchor="middle" textLength="12.58" lengthAdjust="spacingAndGlyphs" font-family="Liberation Sans, sans-serif" font-weight="bold" font-size="7.2" fill="#111" stroke="#111" stroke-width="0.2" >2.4</text>
<path d="M375.57 692V694" stroke="#444" stroke-width="0.6"/>
<text x="375.57" y="702.70" text-anchor="middle" textLength="12.58" lengthAdjust="spacingAndGlyphs" font-family="Liberation Sans, sans-serif" font-weight="bold" font-size="7.2" fill="#111" stroke="#111" stroke-width="0.2" >2.6</text>
<path d="M412.95 692V694" stroke="#444" stroke-width="0.6"/>
<text x="412.95" y="702.70" text-anchor="middle" textLength="12.58" lengthAdjust="spacingAndGlyphs" font-family="Liberation Sans, sans-serif" font-weight="bold" font-size="7.2" fill="#111" stroke="#111" stroke-width="0.2" >2.8</text>
<path d="M450.32 692V694" stroke="#444" stroke-width="0.6"/>
<text x="450.32" y="702.70" text-anchor="middle" textLength="12.58" lengthAdjust="spacingAndGlyphs" font-family="Liberation Sans, sans-serif" font-weight="bold" font-size="7.2" fill="#111" stroke="#111" stroke-width="0.2" >3.0</text>
<path d="M487.70 692V694" stroke="#444" stroke-width="0.6"/>
<text x="487.70" y="702.70" text-anchor="middle" textLength="12.58" lengthAdjust="spacingAndGlyphs" font-family="Liberation Sans, sans-serif" font-weight="bold" font-size="7.2" fill="#111" stroke="#111" stroke-width="0.2" >3.2</text>
<path d="M525.08 692V694" stroke="#444" stroke-width="0.6"/>
<text x="525.08" y="702.70" text-anchor="middle" textLength="12.58" lengthAdjust="spacingAndGlyphs" font-family="Liberation Sans, sans-serif" font-weight="bold" font-size="7.2" fill="#111" stroke="#111" stroke-width="0.2" >3.4</text>
<path d="M562.45 692V694" stroke="#444" stroke-width="0.6"/>
<text x="562.45" y="702.70" text-anchor="middle" textLength="12.58" lengthAdjust="spacingAndGlyphs" font-family="Liberation Sans, sans-serif" font-weight="bold" font-size="7.2" fill="#111" stroke="#111" stroke-width="0.2" >3.6</text>
<path d="M599.83 692V694" stroke="#444" stroke-width="0.6"/>
<text x="599.83" y="702.70" text-anchor="middle" textLength="12.58" lengthAdjust="spacingAndGlyphs" font-family="Liberation Sans, sans-serif" font-weight="bold" font-size="7.2" fill="#111" stroke="#111" stroke-width="0.2" >3.8</text>
<path d="M637.20 692V694" stroke="#444" stroke-width="0.6"/>
<text x="637.20" y="702.70" text-anchor="middle" textLength="12.58" lengthAdjust="spacingAndGlyphs" font-family="Liberation Sans, sans-serif" font-weight="bold" font-size="7.2" fill="#111" stroke="#111" stroke-width="0.2" >4.0</text>
<text x="75.7" y="724" textLength="526.3" lengthAdjust="spacingAndGlyphs" font-family="Liberation Sans, sans-serif" font-weight="bold" font-size="12.3" fill="#111" stroke="#111" stroke-width="0.25">Climate change signal: mean max temperature (°C) 2060-2079 minus 1990-2009</text>
</svg></body></html>
